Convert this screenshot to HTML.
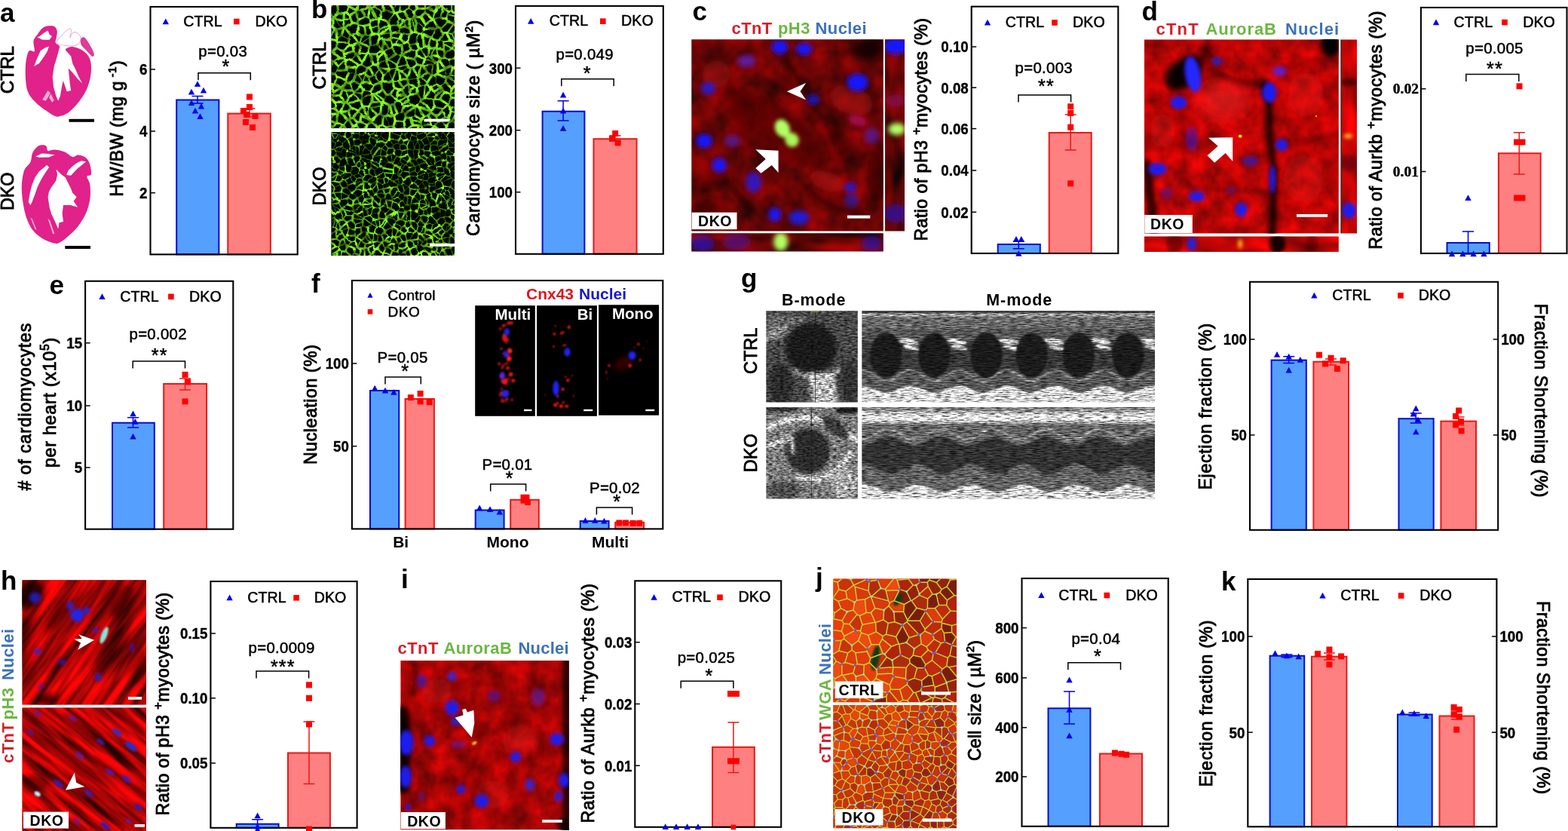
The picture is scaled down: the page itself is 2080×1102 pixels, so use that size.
<!DOCTYPE html>
<html lang="en"><head><meta charset="utf-8"><title>Figure</title>
<style>html,body{margin:0;padding:0;background:#fff;}body{width:2080px;height:1102px;overflow:hidden;font-family:"Liberation Sans",sans-serif;}svg{display:block;}</style>
</head><body>
<svg width="2080" height="1102" viewBox="0 0 2080 1102">
<rect width="2080" height="1102" fill="#fff"/>
<defs><filter id="b0_5" x="-50%" y="-50%" width="200%" height="200%"><feGaussianBlur stdDeviation="0.5"/></filter><clipPath id="c1"><rect x="439.2" y="7" width="163.8" height="163.2"/></clipPath><filter id="o2" filterUnits="userSpaceOnUse" x="433.2" y="1" width="175.8" height="175.2" color-interpolation-filters="sRGB"><feTurbulence type="fractalNoise" baseFrequency="0.09" numOctaves="2" seed="11" result="n"/><feDisplacementMap in="SourceGraphic" in2="n" scale="4" xChannelSelector="R" yChannelSelector="G" result="d"/><feGaussianBlur in="d" stdDeviation="0.7" result="b"/><feColorMatrix in="n" type="matrix" values="0 0 2.4 0 -0.6  0 0 2.4 0 -0.6  0 0 2.4 0 -0.6  0 0 0 0 1" result="g"/><feComposite in="b" in2="g" operator="arithmetic" k1="0.6" k2="0.45" k3="0" k4="0"/></filter><clipPath id="c3"><rect x="439.2" y="175" width="163.8" height="164"/></clipPath><filter id="o4" filterUnits="userSpaceOnUse" x="433.2" y="169" width="175.8" height="176" color-interpolation-filters="sRGB"><feTurbulence type="fractalNoise" baseFrequency="0.09" numOctaves="2" seed="23" result="n"/><feDisplacementMap in="SourceGraphic" in2="n" scale="4" xChannelSelector="R" yChannelSelector="G" result="d"/><feGaussianBlur in="d" stdDeviation="0.7" result="b"/><feColorMatrix in="n" type="matrix" values="0 0 2.4 0 -0.6  0 0 2.4 0 -0.6  0 0 2.4 0 -0.6  0 0 0 0 1" result="g"/><feComposite in="b" in2="g" operator="arithmetic" k1="0.75" k2="0.3" k3="0" k4="0"/></filter><clipPath id="c5"><rect x="917.3" y="52.3" width="254.5" height="254.3"/></clipPath><filter id="t6" filterUnits="userSpaceOnUse" x="917.3" y="52.3" width="254.5" height="254.3" color-interpolation-filters="sRGB"><feTurbulence type="fractalNoise" baseFrequency="0.03" numOctaves="3" seed="4"/><feColorMatrix type="matrix" values="0.7 0 0 0 0.06  0 0 0 0 0.02  0 0 0 0 0.02  0 0 0 0 1"/></filter><filter id="b5" x="-50%" y="-50%" width="200%" height="200%"><feGaussianBlur stdDeviation="5"/></filter><filter id="b3" x="-50%" y="-50%" width="200%" height="200%"><feGaussianBlur stdDeviation="3"/></filter><filter id="b3_2" x="-50%" y="-50%" width="200%" height="200%"><feGaussianBlur stdDeviation="3.2"/></filter><filter id="b2_4" x="-50%" y="-50%" width="200%" height="200%"><feGaussianBlur stdDeviation="2.4"/></filter><clipPath id="c7"><rect x="1174" y="52.3" width="26" height="254.3"/></clipPath><filter id="t8" filterUnits="userSpaceOnUse" x="1174" y="52.3" width="26" height="254.3" color-interpolation-filters="sRGB"><feTurbulence type="fractalNoise" baseFrequency="0.05 0.02" numOctaves="2" seed="9"/><feColorMatrix type="matrix" values="0.9 0 0 0 -0.05  0 0 0 0 0.02  0 0 0 0 0.02  0 0 0 0 1"/></filter><clipPath id="c9"><rect x="917.3" y="309.3" width="254.5" height="24.3"/></clipPath><filter id="t10" filterUnits="userSpaceOnUse" x="917.3" y="309.3" width="254.5" height="24.3" color-interpolation-filters="sRGB"><feTurbulence type="fractalNoise" baseFrequency="0.02 0.05" numOctaves="2" seed="12"/><feColorMatrix type="matrix" values="0.9 0 0 0 -0.05  0 0 0 0 0.02  0 0 0 0 0.02  0 0 0 0 1"/></filter><clipPath id="c11"><rect x="1518" y="52.5" width="257.8" height="256.9"/></clipPath><filter id="t12" filterUnits="userSpaceOnUse" x="1518" y="52.5" width="257.8" height="256.9" color-interpolation-filters="sRGB"><feTurbulence type="fractalNoise" baseFrequency="0.04" numOctaves="3" seed="21"/><feColorMatrix type="matrix" values="0.7 0 0 0 0.38  0 0 0 0 0.02  0 0 0 0 0.02  0 0 0 0 1"/></filter><filter id="b10" x="-50%" y="-50%" width="200%" height="200%"><feGaussianBlur stdDeviation="10"/></filter><filter id="b4" x="-50%" y="-50%" width="200%" height="200%"><feGaussianBlur stdDeviation="4"/></filter><filter id="b3_5" x="-50%" y="-50%" width="200%" height="200%"><feGaussianBlur stdDeviation="3.5"/></filter><filter id="b2_6" x="-50%" y="-50%" width="200%" height="200%"><feGaussianBlur stdDeviation="2.6"/></filter><filter id="b0_7" x="-50%" y="-50%" width="200%" height="200%"><feGaussianBlur stdDeviation="0.7"/></filter><clipPath id="c13"><rect x="1779.7" y="52.5" width="20.3" height="256.9"/></clipPath><filter id="t14" filterUnits="userSpaceOnUse" x="1779.7" y="52.5" width="20.3" height="256.9" color-interpolation-filters="sRGB"><feTurbulence type="fractalNoise" baseFrequency="0.05 0.02" numOctaves="2" seed="31"/><feColorMatrix type="matrix" values="0.9 0 0 0 0.3  0 0 0 0 0.02  0 0 0 0 0.02  0 0 0 0 1"/></filter><filter id="b2_5" x="-50%" y="-50%" width="200%" height="200%"><feGaussianBlur stdDeviation="2.5"/></filter><clipPath id="c15"><rect x="1518" y="313.4" width="257.8" height="20.6"/></clipPath><filter id="t16" filterUnits="userSpaceOnUse" x="1518" y="313.4" width="257.8" height="20.6" color-interpolation-filters="sRGB"><feTurbulence type="fractalNoise" baseFrequency="0.02 0.05" numOctaves="2" seed="33"/><feColorMatrix type="matrix" values="0.9 0 0 0 0.3  0 0 0 0 0.02  0 0 0 0 0.02  0 0 0 0 1"/></filter><filter id="b1_1" x="-50%" y="-50%" width="200%" height="200%"><feGaussianBlur stdDeviation="1.1"/></filter><filter id="b1_5" x="-50%" y="-50%" width="200%" height="200%"><feGaussianBlur stdDeviation="1.5"/></filter><filter id="b0_9" x="-50%" y="-50%" width="200%" height="200%"><feGaussianBlur stdDeviation="0.9"/></filter><filter id="b1_6" x="-50%" y="-50%" width="200%" height="200%"><feGaussianBlur stdDeviation="1.6"/></filter><clipPath id="c17"><rect x="1016.3" y="412.2" width="121.5" height="121.4"/></clipPath><filter id="m18" filterUnits="userSpaceOnUse" x="1016.3" y="412.2" width="121.5" height="121.4" color-interpolation-filters="sRGB"><feGaussianBlur in="SourceGraphic" stdDeviation="2.5" result="b"/><feTurbulence type="fractalNoise" baseFrequency="0.2 0.45" numOctaves="2" seed="3" result="n"/><feColorMatrix in="n" type="matrix" values="0 1.6 0 0 -0.3  0 1.6 0 0 -0.3  0 1.6 0 0 -0.3  0 0 0 0 1" result="g"/><feComposite in="b" in2="g" operator="arithmetic" k1="1.35" k2="0.28" k3="0" k4="0"/></filter><clipPath id="c19"><rect x="1016.3" y="540" width="121.5" height="121.6"/></clipPath><filter id="m20" filterUnits="userSpaceOnUse" x="1016.3" y="540" width="121.5" height="121.6" color-interpolation-filters="sRGB"><feGaussianBlur in="SourceGraphic" stdDeviation="2.0" result="b"/><feTurbulence type="fractalNoise" baseFrequency="0.2 0.45" numOctaves="2" seed="8" result="n"/><feColorMatrix in="n" type="matrix" values="0 1.6 0 0 -0.3  0 1.6 0 0 -0.3  0 1.6 0 0 -0.3  0 0 0 0 1" result="g"/><feComposite in="b" in2="g" operator="arithmetic" k1="1.35" k2="0.28" k3="0" k4="0"/></filter><clipPath id="c21"><rect x="1143.3" y="412.2" width="388.7" height="121.4"/></clipPath><filter id="m22" filterUnits="userSpaceOnUse" x="1143.3" y="412.2" width="388.7" height="121.4" color-interpolation-filters="sRGB"><feGaussianBlur in="SourceGraphic" stdDeviation="1.2" result="b"/><feTurbulence type="fractalNoise" baseFrequency="0.1 0.7" numOctaves="3" seed="14" result="n"/><feColorMatrix in="n" type="matrix" values="0 1.6 0 0 -0.3  0 1.6 0 0 -0.3  0 1.6 0 0 -0.3  0 0 0 0 1" result="g"/><feComposite in="b" in2="g" operator="arithmetic" k1="1.35" k2="0.28" k3="0" k4="0"/></filter><clipPath id="c23"><rect x="1143.3" y="540" width="388.7" height="121.6"/></clipPath><filter id="m24" filterUnits="userSpaceOnUse" x="1143.3" y="540" width="388.7" height="121.6" color-interpolation-filters="sRGB"><feGaussianBlur in="SourceGraphic" stdDeviation="1.2" result="b"/><feTurbulence type="fractalNoise" baseFrequency="0.1 0.7" numOctaves="3" seed="19" result="n"/><feColorMatrix in="n" type="matrix" values="0 1.6 0 0 -0.3  0 1.6 0 0 -0.3  0 1.6 0 0 -0.3  0 0 0 0 1" result="g"/><feComposite in="b" in2="g" operator="arithmetic" k1="1.35" k2="0.28" k3="0" k4="0"/></filter><clipPath id="c25"><rect x="29.5" y="769.3" width="164.5" height="165.2"/></clipPath><filter id="t26" filterUnits="userSpaceOnUse" x="-12.15" y="728" width="247.8" height="247.8" color-interpolation-filters="sRGB"><feTurbulence type="fractalNoise" baseFrequency="0.01 0.1" numOctaves="3" seed="41"/><feColorMatrix type="matrix" values="1.5 0 0 0 -0.08  0 0 0 0 0.02  0 0 0 0 0.02  0 0 0 0 1"/></filter><filter id="b2" x="-50%" y="-50%" width="200%" height="200%"><feGaussianBlur stdDeviation="2"/></filter><filter id="b1" x="-50%" y="-50%" width="200%" height="200%"><feGaussianBlur stdDeviation="1"/></filter><clipPath id="c27"><rect x="29.5" y="938.5" width="164.5" height="164"/></clipPath><filter id="t28" filterUnits="userSpaceOnUse" x="-11.62" y="897.12" width="246.75" height="246.75" color-interpolation-filters="sRGB"><feTurbulence type="fractalNoise" baseFrequency="0.01 0.1" numOctaves="3" seed="57"/><feColorMatrix type="matrix" values="1.6 0 0 0 -0.1  0 0 0 0 0.02  0 0 0 0 0.02  0 0 0 0 1"/></filter><filter id="b1_8" x="-50%" y="-50%" width="200%" height="200%"><feGaussianBlur stdDeviation="1.8"/></filter><clipPath id="c29"><rect x="531.4" y="876.1" width="223.4" height="224.2"/></clipPath><filter id="t30" filterUnits="userSpaceOnUse" x="531.4" y="876.1" width="223.4" height="224.2" color-interpolation-filters="sRGB"><feTurbulence type="fractalNoise" baseFrequency="0.04" numOctaves="3" seed="61"/><feColorMatrix type="matrix" values="0.7 0 0 0 0.29  0 0 0 0 0.02  0 0 0 0 0.02  0 0 0 0 1"/></filter><filter id="b0_8" x="-50%" y="-50%" width="200%" height="200%"><feGaussianBlur stdDeviation="0.8"/></filter><clipPath id="c31"><rect x="1105.3" y="767.6" width="163.6" height="163.7"/></clipPath><filter id="b0_6" x="-50%" y="-50%" width="200%" height="200%"><feGaussianBlur stdDeviation="0.6"/></filter><clipPath id="c32"><rect x="1105.3" y="935" width="163.6" height="163.2"/></clipPath></defs><g filter="url(#b0_5)"><path d="M37.02 70.37C38.08 67.3 38.94 67.42 40.42 66.96C41.89 66.51 45.18 69.8 45.86 67.64C46.55 65.49 43.71 57.89 44.5 54.03C45.3 50.18 48.59 47.34 50.63 44.5C52.67 41.67 54.37 38.72 56.75 37.02C59.14 35.31 62.31 34.59 64.92 34.29C67.53 34 70.59 34 72.41 35.25C74.22 36.49 75.47 39.1 75.81 41.78C76.15 44.46 74.79 48.81 74.45 51.31C74.11 53.81 73.09 55.17 73.77 56.75C74.45 58.34 76.83 58.8 78.54 60.84C80.24 62.88 82.39 68.44 83.98 69.01C85.57 69.57 86.02 65.42 88.06 64.24C90.11 63.06 92.83 61.59 96.23 61.93C99.64 62.27 104.97 64.2 108.48 66.28C112 68.37 115.29 71.28 117.33 74.45C119.37 77.63 120.28 80.8 120.74 85.34C121.19 89.88 121.19 95.78 120.05 101.68C118.92 107.58 116.76 114.84 113.93 120.74C111.09 126.63 106.9 132.31 103.04 137.07C99.18 141.84 94.64 146.49 90.79 149.32C86.93 152.16 82.85 153.29 79.9 154.09C76.95 154.88 76.27 155.33 73.09 154.09C69.91 152.84 65.15 149.66 60.84 146.6C56.53 143.54 51.08 139.57 47.23 135.71C43.37 131.85 39.85 128 37.7 123.46C35.54 118.92 34.91 114.84 34.29 108.48C33.68 102.13 33.57 91.69 34.02 85.34C34.47 78.99 35.95 73.43 37.02 70.37Z" fill="#e0248a"/><path d="M107.12 51.58C107.92 49.99 110.3 48.18 112.57 49.95C114.84 51.72 118.69 58.57 120.74 62.2C122.78 65.83 124.59 69.64 124.82 71.73C125.05 73.82 123.91 75.63 122.1 74.72C120.28 73.82 116.31 68.82 113.93 66.28C111.55 63.74 108.94 61.93 107.8 59.48C106.67 57.03 106.33 53.17 107.12 51.58Z" fill="#e03a96"/><path d="M75.13 57.44C74 54.71 81.14 47.68 83.98 44.5C86.82 41.33 90.38 39.06 92.15 38.38C93.92 37.7 94.48 38.49 94.6 40.42C94.71 42.35 92.56 49.38 92.83 49.95C93.1 50.52 94.76 44.96 96.23 43.82C97.71 42.69 99.86 42.23 101.68 43.14C103.49 44.05 106.67 46.77 107.12 49.27C107.58 51.76 106.21 56.19 104.4 58.12C102.58 60.04 98.5 60.38 96.23 60.84C93.96 61.29 94.3 61.41 90.79 60.84C87.27 60.27 76.27 60.16 75.13 57.44Z" fill="#fff" stroke="#e58cc0" stroke-width="0.8"/><path d="M79.9 59.48L75.13 77.17L71.73 88.06L69.69 101.68L71.05 115.29L74.45 127.54L77.17 133.67L79.9 127.54L81.94 115.29L83.71 107.12L86.7 115.29L88.74 121.42L94.19 120.05L92.83 111.21L91.88 101.68L90.79 90.79L96.23 96.23L103.04 104.4L109.16 110.53L104.4 101.68L100.32 92.15L96.23 83.98L94.19 74.45L87.38 66.96L84.66 60.84Z" fill="#fff" /><path d="M51.99 48.59L58.8 43.14L63.56 40.42L65.6 45.86L69.01 47.91L65.6 52.67L56.07 52.67L49.27 49.27Z" fill="#fff" /><path d="M45.18 88.06L49.27 77.17L54.03 66.96L59.48 63.56L64.92 61.52L62.88 67.64L58.8 74.45L51.99 83.98Z" fill="#fff" /><path d="M56.07 132.31L63.56 120.05L66.96 123.46L60.84 133.67Z" fill="#f3b0d4" /><path d="M64.92 128.9L67.64 124.82L71.73 132.99L69.01 135.71Z" fill="#f3b0d4" /></g><rect x="91.5" y="157.8" width="33.5" height="4" fill="#000" /><g filter="url(#b0_5)"><path d="M40.42 214.95C38.6 218.81 34.18 220.62 32.25 225.84C30.32 231.06 29.19 239.45 28.85 246.26C28.51 253.06 29.19 259.64 30.21 266.68C31.23 273.71 32.82 282.11 34.97 288.46C37.13 294.81 39.74 300.26 43.14 304.79C46.55 309.33 50.63 312.73 55.39 315.68C60.16 318.63 67.64 321.58 71.73 322.49C75.81 323.4 76.72 322.72 79.9 321.13C83.07 319.54 86.93 316.36 90.79 312.96C94.64 309.56 99.18 305.7 103.04 300.71C106.9 295.72 111.21 289.14 113.93 283.01C116.65 276.89 118.47 270.31 119.37 263.95C120.28 257.6 120.05 249.89 119.37 244.9C118.69 239.91 115.02 236.28 115.29 234.01C115.56 231.74 120.44 234.23 121.01 231.28C121.57 228.33 120.1 220.17 118.69 216.31C117.29 212.45 115.18 209.96 112.57 208.14C109.96 206.33 105.76 205.42 103.04 205.42C100.32 205.42 99.18 208.82 96.23 208.14C93.28 207.46 89.43 202.92 85.34 201.34C81.26 199.75 75.36 198.84 71.73 198.61C68.1 198.39 65.38 200.88 63.56 199.97C61.75 199.07 62.88 194.3 60.84 193.17C58.8 192.03 54.26 191.58 51.31 193.17C48.36 194.76 44.96 199.07 43.14 202.7C41.33 206.33 42.23 211.09 40.42 214.95Z" fill="#e0248a"/><path d="M47.23 207.46L55.39 203.38L63.56 204.06L72.41 205.42L64.92 208.41L51.31 208.82Z" fill="#fff" /><path d="M37.7 268.04L39.74 255.79L42.46 244.9L46.55 235.37L51.99 227.2L62.2 219.03L65.19 221.75L59.48 229.92L54.71 238.09L49.95 247.62L46.55 257.15L42.46 268.04L40.42 272.12Z" fill="#fff" /><path d="M74.45 224.48L81.26 231.28L86.7 235.37L90.79 243.54L94.19 250.34L96.23 255.79L101.68 261.23L97.59 266.68L103.04 274.84L93.51 272.12L83.98 272.12L82.62 283.01L83.98 293.9L78.54 295.26L77.17 303.43L73.09 293.9L68.33 284.37L65.6 274.84L63.56 261.23L64.92 254.43L67.64 248.98L74.45 239.45L76.08 231.28Z" fill="#fff" /><path d="M88.06 231.96L90.79 225.84L96.23 220.39L101.68 216.31L107.8 213.31L113.93 214.27L108.48 219.03L101.68 224.48L94.19 232.64Z" fill="#fff" /><path d="M63.29 289.82L66.28 292.54L72.41 310.24L70.1 309.97Z" fill="#f3b0d4" /><path d="M40.42 288.46L42.46 289.82L48.59 304.79L46.55 304.11Z" fill="#f3b0d4" /></g><rect x="86.3" y="326" width="33.7" height="4" fill="#000" /><g clip-path="url(#c1)"><rect x="439.2" y="7" width="163.8" height="163.2" fill="#020800"/><g filter="url(#o2)"><g transform="translate(433.2 1)" fill="none" stroke-linecap="round"><path d="M28.2 157.7L29.4 157.4M184.2 44.1L177.6 37.4M175.7 37.4L173.7 36.2M142.7 166.6L139.4 164.5M176.1 79.7L174.2 84.7M75.9 3.9L78.9 2.3M94.8 -1.4L88.5 12M103.3 151L99.7 147.8M99.7 147.8L93.9 148M102.1 141.2L100.6 138M117 152.1L112.1 155.5M120 139.6L124.7 132.5M130.3 10.6L131 15.4M108.7 88.5L100.6 93.5M108.6 111L108.5 111.1M163.5 79.3L164.9 86.6M149.6 51.2L155.3 54.8M170.1 31.5L168.7 30.6M141.4 24.3L141.9 24.5M144.7 37.2L147.1 34.8M129.3 35.7L131.4 31.5M179.2 2.3L175.3 -9.3M57.5 48L46.1 56.6M58.3 59L56.3 61.3M69.5 83.9L79.7 78.4M164 174.5L158.7 170.3M172.1 163.9L164 174.5M173.3 143.1L173.4 149.4M28.3 96.1L25.9 91.4M28.3 96.1L38.7 95.4M128.8 38.3L126.8 42.9M129.3 35.7L119.9 27.5M81.9 92.8L87.4 105.2M93 89.9L93.1 90M81.1 77.7L80.1 77.7M123.5 113L130.7 112M108.6 104.8L119.6 102.6M139.8 98.5L143.3 99.1M140.5 85.1L143 82.7M108.3 23.9L111.2 24.3M164.4 124.9L164.2 124.5M39.7 164.5L40.4 161.1M126.1 85.7L127.8 85.4M129.2 61.6L125.8 63.7M69.5 23.8L66.2 23.6M92.8 70.6L99.2 72.6M79.5 124.9L76.1 131M84.5 166.8L79.2 152.8M143.3 99.1L147.1 110.5M152.3 113L157.3 108.5M156.6 90.4L159.8 102.7M10.8 23.1L20.8 36.4" stroke="#3f9a10" stroke-width="1.3"/><path d="M1.7 175.9L-5.2 169.9M-0.8 150.8L0.9 158.1M4.3 158.8L9.3 150.4M44 171.2L39.7 164.5M14.6 149.6L15.2 148.8M22.4 165.2L28.2 157.7M15.2 148.8L18.4 147.9M158 68.5L167 63.5M175.2 50.9L175.7 37.4M175.7 37.4L177.6 37.4M184.4 22.9L170.1 31.5M153.7 5L144.7 -5.1M153.7 5L157.3 2.1M152.4 -13.8L157.3 2.1M175.4 14.9L179.9 17.9M-4.4 85.8L-1.5 81.1M-1.1 77.6L-1.5 81.1M67.6 169.6L55.3 176.5M52.2 169.5L55.3 176.5M104 168.7L91.7 170.5M102.8 160.2L91.1 159.3M78.6 176.6L80.1 168.3M90.7 178.3L91.7 170.5M129.4 153.5L134.8 151.9M138.3 146.8L138.2 147.9M142.7 166.6L148.2 160.3M148.2 160.3L145.9 153.5M68.4 168.4L68.5 167.8M156.5 75.2L163.5 79.3M169.9 75.1L163.5 79.3M169.9 75.1L171.5 68.4M167 63.5L167.6 63.3M167.6 63.3L171.5 68.4M179.1 78.9L176.1 79.7M181.4 88.4L174.2 84.7M171.5 68.4L178.4 68.5M173.7 36.2L166.8 44.3M174.7 53.4L170.3 54.8M166.8 44.3L170.3 54.8M155.3 54.8L163.7 53.1M155.3 54.8L156 58M167.6 63.3L169.8 55.2M170.3 54.8L169.8 55.2M141 5.9L146.6 8.6M159.2 1.5L164.6 -7M159.2 1.5L165.8 4.4M164.6 -7L175.7 2.6M65.3 -5.3L64.8 5.1M79 -7.7L78.9 2.3M92.1 -4.8L84.1 3.5M106.3 172.5L93.4 182.6M109.9 124.4L109.7 120.9M87.7 152.4L89.3 152.6M100.6 138L97 132.8M108.7 131.8L106.6 126.8M93.6 132.5L89.3 138.6M112.3 137.8L108.7 131.8M177.5 98.9L178.6 96.8M188.3 110.3L176.5 113.5M176.5 113.5L177.1 116.4M125.5 157.8L125.3 160.5M125.3 160.5L113.2 158.3M125.4 164.3L125.3 160.5M125.4 164.3L139.4 164.5M120 139.6L118.2 140.4M118.2 140.4L117 152.1M138.3 146.8L138.9 145.4M120.6 123.8L125.6 130.2M176.1 118.9L178.5 130.9M176.1 118.9L177.1 116.4M176.4 140.5L177.4 131.5M6.4 20.4L8.7 22.3M130.3 10.6L134.5 9.6M141.4 24.3L143.2 14.6M94.6 125.6L92.6 130.8M103.2 124.1L99.4 118.3M108.6 104.8L108.6 111M107.7 101.8L107.8 104M99.4 118.3L101.4 115.3M87.9 107.3L95 105.8M109.7 120.9L108.5 111.1M169.5 88.3L166.7 88.2M166.7 88.2L164.9 86.6M177.5 98.9L164.5 99.2M166.7 88.2L164.5 99.2M160.9 14.4L160.6 18.3M160.9 14.4L166 13.2M160.6 18.3L170.9 20.7M173 16.2L170.9 20.7M165.8 4.4L166 13.2M166.8 44.3L160 42.8M159 43.2L160 42.8M160 42.8L168.7 30.6M170.9 20.7L168.2 29.9M141.9 24.5L150.7 21.9M152.2 36.8L160.8 28M158.8 25.1L160.8 28M160.6 18.3L158.8 25.1M144.7 37.2L140.2 48.8M10.8 4.3L4.4 -6.2M76 13.2L89.5 15.7M55.3 8.3L57.4 8.6M49.1 0.6L57.6 -1.4M98.3 1.3L98.7 1.8M96.7 14.2L98.7 1.8M47.4 -1.3L43.1 -0.9M68.9 44.2L69.2 44.5M57.4 46.3L57.5 48M67.1 57.8L58.3 59M81.9 90.9L79.7 78.4M43.1 -0.9L41.7 4M25.8 1.3L27.8 5.3M47 13.1L41.1 12.5M16.1 87.4L15.2 93.2M15.2 93.2L11.5 97.1M7.4 80.4L9.9 80.4M3.4 93L3 94.9M25 78.7L16.1 87.4M-1.1 77.6L3.7 75.6M-1.5 81.1L3.4 93M4.4 68.2L7 67.5M118.2 175.9L111.2 175.2M104 168.7L106.7 171M113.9 188.1L111.2 175.2M106.3 172.5L106.9 171.5M136.8 172.3L139.5 182.3M129.8 175.6L128.4 180.3M142.8 166.7L144.2 168.8M142.7 166.6L142.8 166.7M178.3 168.4L172.1 163.9M168.2 177.7L164.3 175.6M171.6 162.5L167 158.6M167 158.6L165.7 158.3M165.7 158.3L158.6 165.5M144.2 168.8L154.7 171.6M150.3 160.1L158.6 165.5M177.3 151.1L183.5 148.6M172.3 150.2L173.4 149.4M131.1 128.8L141.5 132M162 154.6L158 153.4M154.2 146.4L154.2 143.4M172.3 150.2L164.9 147.2M165.7 158.3L162 154.6M150.3 160.1L158 153.4M142.3 140.9L154.2 143.4M165.5 129L160.3 136.8M34.1 78.2L38.7 70.5M38.7 70.5L35.9 66.8M44.5 69.1L40.5 70.4M44.5 69.1L54.1 70.7M62.1 84.4L55.8 88.8M57.6 71.2L55.8 70M45.9 84.5L53.4 89.2M39.7 88.9L38.7 95.4M13.8 100.4L11.5 97.1M41.5 85.7L39.7 88.9M23.1 135.1L24.2 134.1M6.1 129.6L9.5 125.8M9.7 120.9L9.5 125.8M3.7 108.3L-3.8 113M10.7 110.8L9.2 111.6M130 3L129 1.1M141 5.9L139.4 0.5M111.9 64.8L119.6 67M110.6 57.9L119.3 55.4M110.6 57.9L107.2 54.6M116.3 42.1L116.2 42M119.3 55.4L122.4 43.7M138.8 48.8L140.2 48.8M56.3 157.1L55.5 139.7M59.3 141.9L55.9 139.6M82.3 91.3L93 89.9M87.4 105.2L93.1 90M75.5 99.9L81.9 92.8M75.5 99.9L69.3 90.8M81.9 90.9L82.3 91.3M93 84.6L81.1 77.7M79.7 78.4L80.1 77.7M106 85L93.5 88M130.7 112L133.2 111M122.8 99.8L124.9 99.9M124.9 99.9L133.5 108.7M133.5 108.7L133.2 111M114.4 89.3L111.7 89.9M121 116.2L123.5 113M129.2 129.1L130.7 112M133.6 95.6L139.6 98.5M139.8 98.5L139.6 98.5M139.8 98.5L140.5 85.1M140.5 85.1L129.5 86.5M147 97.3L148.4 94.2M146.8 82.3L143 82.7M149.1 80.6L150.9 77.6M115.9 -0.8L115.2 -3.8M108.6 10.4L116.3 14.9M114.7 23.4L116.7 22.1M114.7 23.4L111.2 24.3M117 21.7L116.7 22.1M96.7 14.2L102.3 14.5M104.4 26.7L108.3 23.9M96.3 24.1L103 26.5M120.9 10.1L116.3 14.9M116.2 42L114.7 23.4M104.2 34.1L104.4 26.7M41.9 32.1L49.6 33.4M50.9 45.6L46.9 46.9M34.6 45.1L40.6 41.8M44.3 55.8L46.9 46.9M57.4 46.3L50.9 45.6M58.4 34.6L69.1 33.9M55.1 22.7L58.8 26.6M56.8 31.6L58.8 26.6M69.5 83.9L68.9 77.8M73.1 43.7L85.5 43.3M96.3 24.1L94.5 32.7M90 16.2L81.6 28.4M82.6 31.6L81.6 28.4M94.5 32.7L83.2 32.3M69.2 44.5L73.1 43.7M70.8 38.6L82.6 31.6M83.2 32.3L83.5 34.8M26.1 15.3L28.4 7.2M27.8 5.3L28.4 7.2M31.7 24.7L22.7 24.8M143.9 130.1L144.4 126.5M156.4 121L154 118.5M45.8 150.7L42.3 146.6M29.4 128.1L24.7 118.9M46.7 109.4L42.7 98M47.4 109L52.2 98.7M39 96.1L42.7 98M53.4 89.2L51.2 96.6M57 101.3L61.9 98.1M69.3 90.8L64.3 98.4M119 84.7L116.4 77.5M143 82.7L141.9 81.5M141.9 81.5L130.2 78M105.1 75.5L106 85M125.8 63.7L131.7 74.3M137.8 73.3L135.2 72.7M147.7 73.5L145.9 63.4M140.1 72.2L143 63.1M137.8 73.3L140.1 72.2M73.1 15.6L62.9 7.1M59.5 8.6L62.9 7.1M76 13.2L73.1 15.6M75.8 67.4L81.9 63.3M67.1 57.8L73.5 64.9M75.7 51.5L76 54M85.6 61.6L86.8 59M85.6 61.6L92.8 70.6M93 84.6L99.2 72.6M99.2 72.6L101.3 71.9M85.5 43.3L85.5 43.4M97.2 35.7L96.6 40.8M110.5 44.4L99 44.1M99 44.1L96.6 40.8M14.2 62.3L14.3 54.9M14.3 54.9L28.5 55M2.5 50.5L3.5 51.2M2.5 50.5L4.2 37.1M4.2 37.1L7.7 35.7M3.8 51.1L10.9 37.9M0.7 65.3L3.5 51.2M82.8 138.6L81.5 151.9M76.1 131L75.4 134.3M59.3 141.9L72.6 140.5M71.8 134.4L74.7 134.8M76.1 131L65 123.8M57.8 108.3L62.5 111.7M64.3 98.4L70.5 109M137.5 114.4L147.1 110.5M152.3 113L152.4 113.9M144.4 126.5L142.7 120.9M173.1 110.6L173 110.3M164.5 99.2L161.8 102.2M47.2 130L59.4 123.7M58.4 120.2L59.4 123.7M59.4 123.7L59.4 123.7M34.8 107.5L45.5 111M31.5 108.6L34.6 118.8M91.8 58L96.1 49.8M102.9 56L99.9 60.2M31.5 45.4L28.8 51M46.8 123.1L36.7 121.5M47.2 130L46.8 123.1M58.4 120.2L49.4 117.8M13.7 51L19.8 46.8M28.8 51L19.8 46.8M23.4 36.3L22.7 36.5" stroke="#66d818" stroke-width="2.2"/><path d="M1.7 175.9L-0.6 181.9M-0.8 150.8L-8.7 149.7M0.9 158.1L-3.3 163.5M1.7 175.9L5.1 175.1M5.1 175.1L7.4 173.9M-3.3 163.5L9 167.4M7.4 173.9L9 167.4M4.3 158.8L12.1 162.2M9.3 150.4L14.6 149.6M14.6 149.6L13.3 161.7M13.3 161.7L12.1 162.2M0.9 158.1L4.3 158.8M9 167.4L12.1 162.2M-0.8 150.8L0.2 149.8M0.2 149.8L9.3 150.4M7.4 173.9L13.4 176.2M13.4 176.2L21.7 165.1M21.7 165.1L13.3 161.7M44 171.2L40.5 174.8M39.7 164.5L35 166.5M40.5 174.8L32.8 170.8M35 166.5L32.8 170.8M-9 19.9L6.4 20.4M6.4 20.4L3 11.1M-4.4 9.3L3 11.1M5.1 175.1L10.5 187M13.4 176.2L15.3 178.2M21.7 165.1L22.4 165.2M25.8 178.1L26.9 172.2M22.4 165.2L26.9 172.2M40.5 174.8L40.4 176.5M26.9 172.2L32.8 170.8M37.7 183.6L40.4 176.5M40.4 176.5L54.3 182.6M0.2 149.8L2.1 142M15.2 148.8L10.7 143M10.7 143L2.1 142M-10.7 136.6L-0.3 136.9M-0.3 136.9L2.1 142M35 166.5L29.4 157.4M28.2 157.7L18.4 147.9M158 68.5L154.7 64.9M167 63.5L156 58M154.7 64.9L156 58M185.4 33.6L177.6 37.4M175.2 50.9L184.2 44.1M173.7 36.2L170.1 31.5M175.4 14.9L178.3 2.9M-1.1 77.6L-11.7 77.7M-4.4 85.8L0.3 95.1M0.3 95.1L-5 97.3M66.6 183.3L73 176.5M63.8 183.4L67.6 169.6M73 176.5L68.4 168.4M68.4 168.4L67.6 169.6M56.3 182L55.3 176.5M44 171.2L52.2 169.5M104 168.7L102.8 160.2M91.1 159.3L88.5 166.9M91.7 170.5L88.5 166.9M78.6 176.6L80.6 179.7M80.1 168.3L84.5 166.8M84.5 166.8L88.5 166.9M178.3 168.4L176.4 177.3M121.7 141L129.4 153.5M121.7 141L138.3 146.8M134.8 151.9L138.2 147.9M139.4 164.5L134.8 151.9M138.2 147.9L145.9 153.5M78.6 176.6L73 176.5M80.1 168.3L74 165.4M74 165.4L68.5 167.8M29.4 157.4L31.3 156.2M18.4 147.9L18.7 147.6M18.7 147.6L28.7 146.4M28.7 146.4L31.3 156.2M156.5 75.2L158 68.5M175.2 50.9L174.7 53.4M174.7 53.4L178.9 54.9M169.9 75.1L176.1 79.7M169.5 88.3L174.2 84.7M169.5 88.3L178.6 96.8M163.7 53.1L169.8 55.2M134.5 9.6L143.2 14.6M134.5 9.6L141 5.9M143.2 14.6L146.6 8.6M165.8 4.4L175.7 2.6M157.3 2.1L159.2 1.5M1.3 -9.8L-4.4 -0.2M69.2 -6.2L75.9 3.9M75.9 3.9L75.6 4.2M64.8 5.1L75.6 4.2M78.9 2.3L84.1 3.5M92.1 -4.8L94.8 -1.4M84.1 3.5L88.5 12M106.3 172.5L102.2 187M120.6 123.8L109.9 124.4M120.6 123.8L121 116.2M121 116.2L117.2 114.8M117.2 114.8L109.7 120.9M103.3 151L117.6 140.3M99.7 147.8L102.1 141.2M102.1 141.2L112.3 137.8M117.6 140.3L112.3 137.8M93.9 148L89.3 138.6M93.9 148L89.3 152.6M87.7 152.4L84 138.6M84 138.6L89.3 138.6M105.1 154.7L103.3 151M105.1 154.7L102.8 160.2M91.1 159.3L89.3 152.6M100.6 138L108.7 131.8M97 132.8L105.5 126.7M106.6 126.8L105.5 126.7M93.6 132.5L97 132.8M177.5 98.9L177.5 101.8M188.1 109.2L177.5 101.8M186.2 121.7L177.1 116.4M125.5 157.8L117 152.1M112.1 155.5L113.2 158.3M129.4 153.5L125.5 157.8M120 139.6L121.7 141M105.1 154.7L112.1 155.5M118.2 140.4L117.6 140.3M138.9 145.4L124.7 132.5M109.9 124.4L106.6 126.8M124.7 132.5L125.6 130.2M176.1 118.9L164.4 124.9M164.4 124.9L165.5 129M165.5 129L177.4 131.5M177.4 131.5L178.5 130.9M176.4 140.5L181.6 143.8M8.7 22.3L8 23.9M8 23.9L-4.9 30.9M52.2 169.5L54.1 164.1M68.5 167.8L57.9 160.1M54.1 164.1L57.9 160.1M-0.3 136.9L5.6 129.7M5.6 129.7L-4.5 121M141.1 24.3L131 15.4M141.1 24.3L131.4 31.5M131.4 31.5L124.6 21.5M131 15.4L124.6 21.5M141.4 24.3L141.1 24.3M95.5 118.5L89.6 116.4M95.5 118.5L94.6 125.6M89.6 116.4L83.6 123.9M83.6 123.9L92.6 130.8M103.2 124.1L94.6 125.6M99.4 118.3L95.5 118.5M93.6 132.5L92.6 130.8M103.2 124.1L105.5 126.7M108.7 88.5L111.7 89.9M100.6 93.5L107.7 101.8M107.7 101.8L111.7 89.9M97.8 104L95 105.8M97.8 104L107.8 104M95 105.8L101.4 115.3M107.8 104L108.6 104.8M101.4 115.3L108.5 111.1M100.6 93.5L96.5 92.8M96.5 92.8L97.8 104M89.6 116.4L87.9 107.3M117.2 114.8L108.6 111M166 13.2L173 16.2M153.7 5L153 6.7M153 6.7L154.2 9.4M154.2 9.4L160.9 14.4M175.4 14.9L173 16.2M178.3 2.9L175.7 2.6M149.6 51.2L154.6 42.7M163.7 53.1L159 43.2M154.6 42.7L159 43.2M168.7 30.6L168.2 29.9M141.9 24.5L147.1 34.8M150.7 21.9L158.8 25.1M147.1 34.8L152.2 36.8M144.7 37.2L128.8 38.3M128.8 38.3L129.3 35.7M153 6.7L146.6 8.6M154.2 9.4L150.7 21.9M146.7 52.1L140.2 48.8M146.7 52.1L149.6 51.2M154.6 42.7L152.2 36.8M168.2 29.9L160.8 28M10.8 4.3L7.3 5.6M4.4 -6.2L4 3.4M7.3 5.6L4 3.4M14.5 4.5L10.8 4.3M14.5 4.5L17.6 1.9M13.5 -8.5L17.6 1.9M-4.4 -0.2L4 3.4M3 11.1L7.3 5.6M75.6 4.2L76 13.2M88.5 12L89.5 15.7M55.3 8.3L49.1 0.6M57.6 -1.4L57.9 8.5M57.9 8.5L57.4 8.6M47.4 -1.3L55.6 -12M47.4 -1.3L49.1 0.6M59 -9.2L57.6 -1.4M94.8 -1.4L98.3 1.3M92.3 16.4L90 16.2M92.3 16.4L96.7 14.2M89.5 15.7L90 16.2M35.9 -6.6L43.1 -0.9M47 13.1L50.5 21.3M47 13.1L55.3 8.3M57.4 8.6L55.1 22.7M50.5 21.3L55.1 22.7M57.5 48L58.3 59M46.1 56.6L56.3 61.3M68.9 44.2L60.9 43.3M57.4 46.3L60.9 43.3M67.1 57.8L71.2 49.7M69.2 44.5L71.2 49.7M67.7 85.8L69.4 89.5M67.7 85.8L69.5 83.9M69.4 89.5L81.9 90.9M29.1 -3.8L25.8 1.3M27.8 5.3L41.7 4M41.7 4L41.1 12.5M16.1 87.4L9.9 80.4M11.5 97.1L3.8 95.3M7.4 80.4L3.4 93M3 94.9L3.8 95.3M23.1 75.9L18.5 76.2M23.1 75.9L25.1 78.6M25.1 78.6L25 78.7M18.5 76.2L9.9 80.4M3.7 75.6L7.4 80.4M0.3 95.1L3 94.9M18.5 76.2L7 67.5M3.7 75.6L4.4 68.2M114.8 164.9L122.8 165.5M114.8 164.9L106.7 171M122.8 165.5L118.2 175.9M106.7 171L106.9 171.5M106.9 171.5L110.8 174.9M111.2 175.2L110.8 174.9M125.4 164.3L125.3 164.5M113.2 158.3L114.8 164.9M125.3 164.5L122.8 165.5M121.7 179.4L118.2 175.9M106.3 187.4L110.8 174.9M136.8 172.3L129.8 175.6M142.8 166.7L136.8 172.3M144.2 168.8L145.9 181.3M125.3 164.5L129.8 175.6M164.3 175.6L164 174.5M164.3 175.6L157.1 185M157.1 185L153.8 174.6M158.7 170.3L154.7 171.6M154.7 171.6L153.8 174.6M172.1 163.9L171.6 162.5M158.6 165.5L158.7 170.3M145.9 181.3L153.8 174.6M148.2 160.3L150.3 160.1M178.1 157L177.3 151.1M171.6 162.5L178.1 157M167 158.6L172.3 150.2M173.4 149.4L177.3 151.1M173.3 143.1L176.4 140.5M138.9 145.4L142.3 140.9M131.1 128.8L129.2 129.1M129.2 129.1L125.6 130.2M142.3 140.9L141.5 132M164.9 147.2L163.9 141M164.9 147.2L162 154.6M158 153.4L154.2 146.4M154.2 143.4L160.2 137.4M163.9 141L160.2 137.4M173.3 143.1L163.9 141M145.9 153.5L154.2 146.4M150.3 130.7L143.9 130.1M150.3 130.7L160.3 136.8M160.3 136.8L160.2 137.4M141.5 132L143.9 130.1M35.9 66.8L34.6 59.5M35.9 66.8L23.3 71M34.6 59.5L29.8 57.5M29.8 57.5L22.3 67.3M23.3 71L22.3 67.3M23.1 75.9L23.3 71M25.1 78.6L34.1 78.2M14.2 62.3L7 67.5M14.2 62.3L22.3 67.3M40.5 70.4L46.6 82.4M54.1 70.7L46.6 82.4M38.7 70.5L40.5 70.4M43.2 56.4L42.3 56.4M43.2 56.4L44.5 69.1M42.3 56.4L34.6 59.5M55.8 70L56.3 61.3M55.8 70L54.1 70.7M44.3 55.8L43.2 56.4M44.3 55.8L46.1 56.6M34.1 78.2L41.5 85.7M45.9 84.5L41.5 85.7M45.9 84.5L46.6 82.4M62.1 84.4L57.6 71.2M53.4 89.2L55.8 88.8M39.7 88.9L26.8 88.1M26.8 88.1L25.9 91.4M24.7 105.5L28.3 96.1M24.7 105.5L13.8 100.4M15.2 93.2L25.9 91.4M25 78.7L26.8 88.1M18.1 125.8L24.2 134.1M18.1 125.8L9.5 125.8M11.9 135.1L6.1 129.6M11.9 135.1L23.1 135.1M10.7 143L11.9 135.1M5.6 129.7L6.1 129.6M18.7 147.6L23.1 135.1M28.7 146.4L32.4 141.9M29.2 135.8L32.4 141.9M29.2 135.8L26.4 133.8M26.4 133.8L24.2 134.1M19.2 115.6L9.7 120.9M19.2 115.6L21.5 115.7M18.1 125.8L21.7 116.4M21.5 115.7L21.7 116.4M19.2 115.6L10.7 110.8M10.7 110.8L13.8 100.4M24.7 105.5L25.8 107.6M21.5 115.7L25.8 107.6M3.7 108.3L9.2 111.6M-2.9 116.6L6.9 116.2M9.2 111.6L6.9 116.2M3.8 95.3L3.7 108.3M9.7 120.9L6.9 116.2M141.1 -4.7L139.4 0.5M137.2 -7.8L129 1.1M139.4 0.5L130 3M127.6 -11.9L126.2 -0.9M126.2 -0.9L129 1.1M130.3 10.6L130.2 10.5M130.2 10.5L130 3M117.5 0.1L126.2 -0.9M117.5 0.1L120.9 10.1M130.2 10.5L120.9 10.1M111.9 64.8L110.6 57.9M119.6 67L123.1 64M123.1 64L119.3 55.4M113.1 42.3L116.2 42M113.1 42.3L110.5 44.4M116.3 42.1L122.4 43.7M110.5 44.4L107.2 54.6M116.3 42.1L119.9 27.5M122.4 43.7L126.8 42.9M138.8 48.8L127.7 43.8M127.7 43.8L126.8 42.9M67.3 151.8L59.3 141.9M67.3 151.8L58 159.5M56.3 157.1L58 159.5M55.5 139.7L55.9 139.6M55 156.3L48.8 139.1M55 156.3L56.3 157.1M48.8 139.1L55.5 139.7M82.3 91.3L81.9 92.8M69.3 90.8L69.4 89.5M93 84.6L93.5 88M93.5 88L93 89.9M75.1 107.2L87.4 106.9M75.1 107.2L75.5 99.9M87.4 106.9L87.4 105.2M96.5 92.8L93.1 90M87.9 107.3L87.4 106.9M106 85L108.7 88.5M119.6 102.6L121.2 100.4M119.6 102.6L123.5 113M121.2 100.4L122.8 99.8M114.4 89.3L121.2 100.4M133.6 95.6L124.9 99.9M139.6 98.5L133.5 108.7M133.6 95.6L129.5 86.5M148.4 94.2L156.6 90.4M148.4 94.2L146.8 82.3M157.2 89.2L156.6 90.4M157.2 89.2L149.1 80.6M146.8 82.3L149.1 80.6M143.3 99.1L147 97.3M156.5 75.2L150.9 77.6M157.2 89.2L164.9 86.6M109 4.5L104.9 2.2M109 4.5L115.9 -0.8M104.9 2.2L106 -8.5M98.3 1.3L106 -8.5M98.7 1.8L104.9 2.2M117.5 0.1L115.9 -0.8M102.3 14.5L108.6 10.4M102.3 14.5L108.3 23.9M116.3 14.9L117 21.7M109 4.5L108.6 10.4M92.3 16.4L96.3 24.1M104.4 26.7L103 26.5M124.6 21.5L117 21.7M119.9 27.5L116.7 22.1M109.4 37.4L111.2 24.3M109.4 37.4L113.1 42.3M109.4 37.4L104.2 34.1M17.6 1.9L25.8 1.3M41.9 32.1L40.6 41.8M49.6 33.4L50.9 45.6M40.6 41.8L46.9 46.9M34.6 45.1L42.3 56.4M60.9 43.3L58.4 34.6M49.6 33.4L56.8 31.6M58.4 34.6L56.8 31.6M68.9 44.2L70.8 38.6M70.8 38.6L69.1 33.9M40.5 30.2L42.2 26.4M40.5 30.2L41.9 32.1M42.2 26.4L50.5 21.3M62.1 84.4L67.7 85.8M57.6 71.2L65.9 70.6M65.9 70.6L68.9 77.8M80.1 77.7L76.1 68.4M68.9 77.8L76.1 68.4M73.1 43.7L83.5 34.8M85.5 43.3L83.5 34.8M103 26.5L96.1 34.3M94.5 32.7L96.1 34.3M82.6 31.6L83.2 32.3M104.2 34.1L97.2 35.7M97.2 35.7L96.1 34.3M21.8 25.8L10.8 23.1M21.8 25.8L22.7 24.8M22.7 24.8L23.1 16.5M23.1 16.5L15.4 15.7M15.4 15.7L9.3 22.2M9.3 22.2L10.8 23.1M14.5 4.5L15.4 15.7M8.7 22.3L9.3 22.2M40.3 14.2L31.1 19.6M40.3 14.2L41.1 12.5M41.1 12.5L28.4 7.2M31.1 19.6L26.1 15.3M34.4 29.4L31.7 24.7M34.4 29.4L40.5 30.2M42.2 26.4L40.3 14.2M31.7 24.7L31.1 19.6M41.1 12.5L41.1 12.5M23.1 16.5L26.1 15.3M4.4 68.2L0.7 65.3M-3.2 65L0.7 65.3M150.3 130.7L156.4 121M164.2 124.5L156.4 121M144.4 126.5L154 118.5M45.8 150.7L44.6 160.5M35.4 155.2L41.6 146.8M35.4 155.2L40.4 161.1M41.6 146.8L42.3 146.6M40.4 161.1L44.6 160.5M55 156.3L45.8 150.7M48.8 139.1L47.9 139M47.9 139L42.3 146.6M54.1 164.1L44.6 160.5M57.9 160.1L58 159.5M31.3 156.2L35.4 155.2M32.4 141.9L41.6 146.8M29.2 135.8L43.9 132.8M47.9 139L45.5 133.5M43.9 132.8L45.5 133.5M26.4 133.8L29.4 128.1M21.7 116.4L24.7 118.9M43.9 132.8L36 123.9M29.4 128.1L36 123.9M46.7 109.4L47.4 109M42.7 98L51.2 96.6M51.2 96.6L52.2 98.7M39 96.1L38.7 95.4M47.4 109L57.8 108.3M52.2 98.7L57 101.3M57.8 108.3L57 101.3M55.8 88.8L61.9 98.1M64.3 98.4L61.9 98.1M126.1 85.7L119 84.7M127.8 85.4L130.2 78M130.2 76.7L130.2 78M130.2 76.7L119.5 72.5M116.4 77.5L119.5 72.5M122.8 99.8L126.1 85.7M129.5 86.5L127.8 85.4M114.4 89.3L119 84.7M105.1 75.5L116.4 77.5M105.1 75.5L101.7 72M101.7 72L111.9 64.8M119.6 67L119.5 72.5M133.8 61.7L136.1 63.2M133.8 61.7L129.2 61.6M136.1 63.2L135.2 72.7M131.7 74.3L135.2 72.7M138.8 48.8L133.8 61.7M127.7 43.8L129.2 61.6M123.1 64L125.8 63.7M130.2 76.7L131.7 74.3M141.9 81.5L137.8 73.3M147.7 73.5L140.1 72.2M145.9 63.4L144.9 62.4M144.9 62.4L143 63.1M150.9 77.6L147.7 73.5M154.7 64.9L145.9 63.4M136.1 63.2L143 63.1M146.7 52.1L144.9 62.4M70.3 23.5L69.5 23.8M70.3 23.5L73.1 15.6M66.2 23.6L59.5 8.6M81.6 28.4L70.3 23.5M69.1 33.9L69.5 23.8M58.8 26.6L66.2 23.6M57.9 8.5L59.5 8.6M64.8 5.1L62.9 7.1M75.8 67.4L74.8 67M76 54L81.9 63.3M76 54L73.5 64.9M73.5 64.9L74.8 67M65.9 70.6L74.8 67M76.1 68.4L75.8 67.4M71.2 49.7L75.7 51.5M75.7 51.5L84.4 50.7M84.4 50.7L86.8 59M81.9 63.3L85.6 61.6M81.1 77.7L92.8 70.6M101.7 72L101.3 71.9M85.5 43.4L96.6 40.8M84.4 50.7L85.6 48M85.5 43.4L85.6 48M29.8 57.5L28.5 55M3.8 51.1L3.5 51.2M7.7 35.7L10.9 37.9M-6.3 48.4L2.5 50.5M-4.3 36.2L4.2 37.1M8 23.9L7.7 35.7M14.3 54.9L12.9 52.5M12.9 52.5L3.8 51.1M75.4 134.3L74.7 134.8M75.4 134.3L82.8 138.6M74.7 134.8L72.6 140.5M72.6 140.5L71.7 150.9M71.7 150.9L75.1 153M75.1 153L79.2 152.8M81.5 151.9L79.2 152.8M84 138.6L82.8 138.6M83.6 123.9L79.5 124.9M60 134.5L55.9 139.6M60 134.5L71.8 134.4M87.7 152.4L81.5 151.9M67.3 151.8L71.7 150.9M74 165.4L75.1 153M71.8 134.4L60.4 123.8M65 123.8L60.4 123.8M79.5 124.9L74.1 117.1M65 123.8L74.1 117.1M62.5 111.7L70.5 109M75.1 107.2L72.1 109.3M74.1 117.1L72.1 109.3M72.1 109.3L70.5 109M142.7 120.9L152.4 113.9M142.7 120.9L137.8 116.2M137.5 114.4L137.8 116.2M147.1 110.5L152.3 113M154 118.5L152.4 113.9M131.1 128.8L137.8 116.2M133.2 111L137.5 114.4M166.2 116.1L157.3 108.5M166.2 116.1L173.1 110.6M173 110.3L161.8 102.2M157.3 108.5L159.5 102.9M161.8 102.2L159.8 102.7M159.5 102.9L159.8 102.7M164.2 124.5L166.2 116.1M176.5 113.5L173.1 110.6M177.5 101.8L173 110.3M147 97.3L159.5 102.9M60 134.5L59.4 123.7M45.5 133.5L47.2 130M62.5 111.7L58.4 120.2M60.4 123.8L59.4 123.7M39 96.1L34.8 107.5M25.8 107.6L31.5 108.6M34.8 107.5L31.5 108.6M46.7 109.4L45.5 111M24.7 118.9L34.6 118.8M91.8 58L99.9 60.2M97 49.5L96.1 49.8M97 49.5L102.9 56M86.8 59L91.8 58M101.3 71.9L99.9 60.2M85.6 48L96.1 49.8M99 44.1L97 49.5M107.2 54.6L102.9 56M34.6 45.1L31.5 45.4M28.5 55L28.8 51M34.4 29.4L25.3 36.5M31.5 45.4L25.3 36.5M21.8 25.8L23.4 36.3M25.3 36.5L23.4 36.3M49.4 117.8L46.8 123.1M49.4 117.8L45.6 112.4M45.6 112.4L36.7 121.1M36.7 121.5L36.7 121.1M45.5 111L45.6 112.4M36 123.9L36.7 121.5M34.6 118.8L36.7 121.1M13.7 51L12.7 38.5M19.8 46.8L22.7 36.5M12.7 38.5L20.8 36.4M20.8 36.4L22.7 36.5M12.9 52.5L13.7 51M10.9 37.9L12.7 38.5" stroke="#84ff20" stroke-width="3.2"/><path d="M44.0 171.2h0M39.7 164.5h0M0.2 149.8h0M14.6 149.6h0M13.3 161.7h0M35.0 166.5h0M32.8 170.8h0M15.2 148.8h0M156.5 75.2h0M3.0 11.1h0M80.1 168.3h0M2.1 142.0h0M28.2 157.7h0M18.4 147.9h0M169.9 75.1h0M163.5 79.3h0M149.6 51.2h0M155.3 54.8h0M173.7 36.2h0M170.1 31.5h0M93.0 84.6h0M120.0 139.6h0M139.8 98.5h0M143.3 99.1h0M0.3 95.1h0M106.3 172.5h0M67.6 169.6h0M52.2 169.5h0M91.1 159.3h0M91.7 170.5h0M121.7 141.0h0M134.8 151.9h0M25.8 1.3h0M100.6 93.5h0M93.5 88.0h0M144.7 37.2h0M129.3 35.7h0M169.8 55.2h0M67.7 85.8h0M154.2 9.4h0M165.8 4.4h0M64.8 5.1h0M75.6 4.2h0M47.0 13.1h0M78.9 2.3h0M84.1 3.5h0M81.1 77.7h0M104.2 34.1h0M104.4 26.7h0M34.4 29.4h0M103.2 124.1h0M103.3 151.0h0M102.1 141.2h0M117.6 140.3h0M87.7 152.4h0M89.3 138.6h0M142.8 166.7h0M125.5 157.8h0M125.3 160.5h0M117.0 152.1h0M172.1 163.9h0M131.1 128.8h0M125.6 130.2h0M173.3 143.1h0M172.3 150.2h0M8.0 23.9h0M38.7 70.5h0M41.5 85.7h0M55.8 88.8h0M13.8 100.4h0M9.7 120.9h0M131.0 15.4h0M124.6 21.5h0M116.3 42.1h0M83.6 123.9h0M94.6 125.6h0M114.4 89.3h0M111.7 89.9h0M97.8 104.0h0M108.6 104.8h0M101.4 115.3h0M108.6 111.0h0M157.2 89.2h0M166.7 88.2h0M160.9 14.4h0M160.0 42.8h0M168.2 29.9h0M147.1 34.8h0M152.2 36.8h0M158.8 25.1h0M10.8 4.3h0M7.3 5.6h0M76.0 13.2h0M89.5 15.7h0M55.3 8.3h0M96.7 14.2h0M98.7 1.8h0M44.3 55.8h0M43.2 56.4h0M40.5 30.2h0M42.2 26.4h0M50.5 21.3h0M55.1 22.7h0M69.2 44.5h0M69.5 83.9h0M80.1 77.7h0M110.5 44.4h0M27.8 5.3h0M41.1 12.5h0M3.8 95.3h0M4.4 68.2h0M79.5 124.9h0M136.8 172.3h0M142.3 140.9h0M143.9 130.1h0M154.2 146.4h0M163.9 141.0h0M35.9 66.8h0M29.8 57.5h0M40.5 70.4h0M55.0 156.3h0M47.9 139.0h0M26.8 88.1h0M25.9 91.4h0M23.1 135.1h0M24.2 134.1h0M9.5 125.8h0M21.7 116.4h0M139.4 0.5h0M122.4 43.7h0M60.0 134.5h0M67.3 151.8h0M58.0 159.5h0M59.3 141.9h0M55.5 139.7h0M82.3 91.3h0M81.9 92.8h0M87.4 105.2h0M93.0 89.9h0M123.5 113.0h0M122.8 99.8h0M129.5 86.5h0M143.0 82.7h0M141.9 81.5h0M82.6 31.6h0M102.3 14.5h0M108.3 23.9h0M111.2 24.3h0M41.9 32.1h0M50.9 45.6h0M56.8 31.6h0M58.8 26.6h0M73.1 43.7h0M68.9 77.8h0M76.1 68.4h0M83.2 32.3h0M9.3 22.2h0M144.4 126.5h0M164.2 124.5h0M154.0 118.5h0M45.8 150.7h0M35.4 155.2h0M41.6 146.8h0M42.3 146.6h0M24.7 118.9h0M47.4 109.0h0M52.2 98.7h0M57.8 108.3h0M126.1 85.7h0M127.8 85.4h0M119.0 84.7h0M133.8 61.7h0M136.1 63.2h0M125.8 63.7h0M131.7 74.3h0M135.2 72.7h0M147.7 73.5h0M143.0 63.1h0M69.5 23.8h0M73.1 15.6h0M59.5 8.6h0M62.9 7.1h0M76.0 54.0h0M81.9 63.3h0M73.5 64.9h0M99.2 72.6h0M101.3 71.9h0M85.5 43.4h0M96.6 40.8h0M14.3 54.9h0M12.9 52.5h0M3.8 51.1h0M10.9 37.9h0M71.7 150.9h0M72.1 109.3h0M142.7 120.9h0M137.5 114.4h0M137.8 116.2h0M147.1 110.5h0M173.0 110.3h0M161.8 102.2h0M159.5 102.9h0M59.4 123.7h0M34.6 118.8h0M91.8 58.0h0M97.0 49.5h0M102.9 56.0h0M28.8 51.0h0M25.3 36.5h0M49.4 117.8h0M46.8 123.1h0M36.7 121.5h0M22.7 36.5h0" stroke="#90ff28" stroke-width="3.6"/></g></g></g><rect x="562.5" y="157.6" width="34" height="3.8" fill="#fff" /><g clip-path="url(#c3)"><rect x="439.2" y="175" width="163.8" height="164" fill="#020800"/><g filter="url(#o4)"><g transform="translate(433.2 169)" fill="none" stroke-linecap="round"><path d="M38.9 24.2L37.4 32.8M37.4 32.8L39.8 36.4M39.8 36.4L42.7 36.6M36.7 1.4L36 -8M175.3 86.8L181.4 78.3M179.1 151.9L176.6 152.3M180 180.2L169.9 175.6M13.7 -2.6L11.3 -0.8M9.6 -0.6L9.4 -10.6M9.6 -0.6L11.3 -0.8M6.3 0.6L2.7 -8.4M6.3 0.6L9.6 -0.6M83.1 16.4L89.6 23.3M83.1 16.4L83.5 15.2M89.6 23.3L95 20.1M95 20.1L95.4 16.1M97 11.2L96.7 13.7M97 11.2L85.8 7M85.8 7L83.8 7.7M95.4 16.1L96.7 13.7M36.7 1.4L35.6 2.3M30.6 -10.7L31.1 -0.7M35.6 2.3L31.1 -0.7M49.4 1.8L56 -4.3M44.5 0L44.6 0.1M148.1 24.6L148.9 28.9M148.1 24.6L146.9 23.1M146.9 23.1L138 23.3M148.9 28.9L139.7 33.1M149.5 29.3L148.9 28.9M159.7 22.8L159.3 20.5M159.3 20.5L148.1 24.6M179.7 137.8L174.2 141.2M174.2 141.2L168.7 140.2M179.9 133.6L168.9 136.3M176.6 152.3L174.2 141.2M164.9 143.3L168.7 140.2M129.1 30.8L130 37.5M122.7 29.4L123.1 29.2M126.5 28.7L123.1 29.2M130 37.5L123.1 38.4M139.7 33.1L139.7 36.6M133.3 40.3L134.7 39.7M139.7 36.6L134.7 39.7M145.3 164.4L142.5 165.1M164.5 159.1L167.8 169.6M154.7 162.8L154.8 162.4M164.1 171L167.8 169.6M38 23.9L32.3 26.4M51.7 7.3L56.1 8.9M56 -4.3L60.6 -0.6M56.1 8.9L60.6 -0.6M87.8 -8.2L92.2 0M92.2 0L89.2 2.7M89.2 2.7L83.5 -6.2M85.8 7L89.2 2.7M100.1 8.4L97.7 -0.1M97.7 -0.1L92.2 0M79 4.6L83.8 7.7M80 -1.5L83.5 -6.2M44.6 0.1L43.1 9M35.6 2.3L34.4 6.5M34.4 6.5L43.1 9M51.7 7.3L48.6 10.2M48.6 10.2L43.7 9.8M43.1 9L43.7 9.8M17.5 7.1L22.3 1.6M17.5 7.1L11.3 -0.8M22.3 -2.6L22.7 -1.6M22.7 -1.6L22.3 1.6M31.1 -0.7L23 -1.6M22.7 -1.6L23 -1.6M34.4 6.5L33.8 7.3M23 -1.6L33.8 7.3M110.1 -3.9L110.2 0.5M110.2 0.5L99 -2M100.1 8.4L103.6 8.8M111 1.9L110.1 5.1M111 1.9L110.2 0.5M170.7 9.7L178.8 6.6M172.9 15.9L169.8 12.4M169 6.8L164 4.9M169.8 12.4L159.9 16.5M147.8 18.2L146.9 23.1M147.8 18.2L149.6 15.9M149.6 15.9L159.9 16.7M159.9 16.8L159.9 16.7M179.8 25.6L175.1 25.6M172.9 15.9L172.9 16.3M175.1 25.6L172.9 16.3M159.9 16.5L159.9 16.7M159.9 16.8L167.7 20.8M161.1 26.4L172.4 26.5M161.1 26.4L160.3 30.2M160.3 30.2L170.6 34.9M170.6 34.9L172.9 26.7M172.9 26.7L172.4 26.5M159.7 22.8L161.1 26.4M167.7 20.8L172.4 26.5M153.1 33.9L157.8 33.3M153.1 33.9L149.5 29.3M175.1 25.6L172.9 26.7M148.4 88.8L142.8 85.2M142.8 85.2L138.2 86.5M133.4 102.5L135.5 103.3M116.3 123.9L122.6 116.8M122.6 116.8L118.8 111.7M118.8 111.7L111.8 110.5M118.1 137.4L117.1 137.4M161.3 83.6L157.7 84M164.2 92.9L155.9 87.9M157.7 84L155.9 87.9M161.3 83.6L163.8 77.8M154.1 76.7L153.7 78.8M142.8 85.2L144 83.1M153.2 79.2L151.4 89.2M125.7 16.8L129.6 23.6M125.7 16.8L133.2 11.6M133.2 11.6L133.5 11.9M133.5 11.9L137 21.8M129.6 23.6L137 22.1M137 22.1L137 21.8M126.5 28.7L129.6 23.6M123.1 29.2L121.1 16.4M121.1 16.4L125.7 16.8M142.2 16.7L141.6 12.7M141.6 12.7L133.5 11.9M138 23.3L137 22.1M147.8 18.2L142.2 16.7M133.3 40.3L131.4 44.3M122.7 29.4L115.5 29.2M115.4 41.1L118.7 42.7M115.4 41.1L115.4 29.2M115.4 29.2L115.5 29.2M164.3 66.8L153.1 73.7M164.3 66.8L163.5 65.1M150.9 72.1L153.1 73.7M157.1 63.2L163.5 65.1M120.9 49.2L118.7 42.7M120.9 49.2L122.1 49.8M122.1 49.8L131.2 45.3M164.3 77.5L167.5 69.7M171.5 84.5L173.4 76.7M164.3 66.8L167.5 69.7M171.6 84.8L165.4 89.8M171.6 84.8L171.5 84.5M172 69.1L178.7 69.5M172 69.1L170.3 69.8M59.2 115.1L68.7 114.2M69.1 121.4L69.4 121.2M80.2 124.1L79.1 120.7M71.3 109.8L78.9 114.6M48.1 103.3L47.9 103.5M59.2 115.1L58.1 116.3M51.5 118.2L47.5 111.7M47.5 111.7L48.6 105.4M60.9 93.8L61.1 95.8M101 160.7L101.2 166.7M147.6 157.4L143.3 154.1M143.3 154.1L146.1 152M164.9 143.3L159.3 138.3M168.9 136.3L168.1 133.4M168.1 133.4L165.6 131.4M40.9 93.4L34 86.6M46.5 103.2L47.9 103.5M40.8 93.9L40.9 93.4M48.8 84.1L51.6 84M60.9 93.8L61.4 92.9M0.3 46.4L0.7 43M-3.3 38.6L-1.8 35.4M4.4 38L3.7 35.4M-4.8 31.3L5.1 27.4M6 28L5.1 27.4M80.5 18.3L71.3 12.5M79 4.6L78.9 4.6M73 6.9L71.3 12.5M62.2 8.2L57.5 10.4M62.2 8.2L65.5 11M57.5 10.4L58 12.3M58 12.3L66.9 17.8M65.5 11L67.8 16.4M66.9 17.8L67.8 16.4M67.1 4.2L65.5 11M67.1 4.2L62.2 8.2M73 6.9L67.3 4M71.3 12.5L67.8 16.4M67.1 4.2L67.3 4M67 18.9L66.9 17.8M62.8 -0.4L66.6 2.5M62.8 -0.4L65.9 -6.3M66.6 2.5L71 -3.8M67.3 4L66.6 2.5M78.9 4.6L71 -3.8M56 15.6L47.9 17.2M46.7 22.8L49.8 24.3M46.7 22.8L46.7 18.8M46.7 18.8L47.9 17.2M48.6 10.2L47.9 17.2M43 24.9L46.7 22.8M44.9 38.3L51.7 27.6M51.7 27.6L49.8 24.3M38 23.9L35.6 14.8M35.6 14.8L41 14.7M41 14.7L46.7 18.8M41 14.7L43.7 9.8M120.6 16.5L115.6 28.2M120.6 16.5L113.4 18.3M113.4 18.3L115.6 28.2M121 16.3L121.1 16.4M121 16.3L120.6 16.5M115.5 29.2L115.6 28.2M110.1 17.4L113.4 18.3M119.8 11.2L113.3 9.2M110.9 41.8L115.4 41.1M107.3 36.8L107.5 29M115.4 29.2L107.6 28.9M107.5 29L107.6 28.9M25.3 4.7L33.7 7.5M33.7 7.5L32.7 12.6M32.7 12.6L27.7 15.2M27.7 15.2L27.2 15.3M22.3 1.6L25.3 4.7M33.8 7.3L33.7 7.5M35.6 14.8L32.7 12.6M177.9 1.4L174.6 -1M169 6.8L170.1 3.6M170.1 3.6L174.6 -1M173.1 -4.1L174.6 -1M159.2 12.7L154 5.5M154 5.5L149.4 15.7M141.6 12.7L145.5 9.9M145.5 9.9L149.4 15.7M134.6 -1.1L135.5 -8.2M139.6 -0.3L145.3 -2.7M169.9 36.9L164.5 38.5M164.5 38.5L164.9 45.6M170.7 45.9L164.9 45.6M157.8 33.3L160.6 38.1M170.7 35.4L170.6 34.9M160.6 38.1L164.5 38.5M83.8 79.3L85.2 80.8M109.3 77.5L101.2 74M113.5 73.7L110.1 64.6M102.1 68.7L101.2 74M109.3 77.9L102.2 84.8M116.6 73.9L121.8 67.1M110.2 64.2L120.6 64.7M110.2 64.2L110.1 64.6M131.7 92.6L132.8 89.5M136.1 99L140.5 94.4M138.2 86.5L137.1 86.3M132.8 89.5L137.1 86.3M129.8 94.6L124.6 96.3M124.6 96.3L124 87.4M127.5 72.8L121.2 78.2M127.5 72.8L130.4 80.8M121.2 78.2L121.9 82.2M130.4 80.8L121.9 82.2M110.6 103.7L111.7 102.5M131.6 101.3L123.1 100.9M121.3 83.9L121.3 85.1M121.9 82.2L121.3 83.9M130.4 80.8L134.8 82.3M123.1 97.8L114.5 91.7M110.6 103.7L108.1 102.8M135.5 103.3L136.3 104.4M136.3 104.4L139 105.8M149.1 111.3L139.1 115.8M147.9 102.8L147.4 102.6M139 105.8L139.1 115.8M150.8 119.8L149.1 111.3M151.7 99.7L159.4 97.9M151.7 99.7L151.6 89.3M147.9 102.8L151.7 99.7M153.7 78.8L153.2 79.2M155.9 87.9L151.7 89.3M164.2 93.4L164.2 92.9M85.1 107.7L85.3 107.7M70.9 105.6L70.3 101.8M65.1 89.8L61.4 92.9M71.9 95.5L77.1 94.5M88 94L87 97M77.1 94.5L79.3 96.4M68.3 53.3L71.6 51.8M60.4 44L69.8 48.1M60.4 44L59.8 45.3M60.1 47.6L59.8 45.3M153.1 33.9L151.4 36.9M139.7 36.6L142.6 39M151.4 36.9L142.6 39M134.7 39.7L140.9 49.7M127.5 72.8L128.7 70.4M128.7 70.4L127.4 68.7M144.2 77.9L144.5 73.4M144.2 77.9L135.6 77.6M144.5 73.4L136.2 73.3M135.6 77.6L136.2 73.3M144 83.1L144.2 77.9M134.2 70.8L128.7 70.4M134.2 70.8L136.2 73.3M106.6 174.5L107.4 173.1M121.3 146.7L120.3 147.8M100.7 132.1L91.7 127.2M105.8 112.6L104.4 112.6M101.1 105.4L104.4 112.6M101.1 105.4L106.3 102.4M19.9 137L28.9 134.3M179 90.1L177.3 95.1M177.3 95.1L178.5 97.3M17.5 7.1L17.3 8M21.3 21.1L16.3 17.8M21.3 21.1L21 24.5M12.1 20.2L10.1 28.2M12.1 20.2L14.4 17.8M14.4 17.8L16.3 17.8M27.2 15.3L21.3 21.1M18.3 9.4L16.3 17.8M3.1 23.8L3.8 19.2M6.3 17.9L3.8 19.2M6.3 17.9L12.1 20.2M9.4 14.2L6.3 17.9M11.7 14.9L14.4 17.8M17.3 8L16.5 8.2M-1.6 66L-10.1 61.7M-2.6 59.2L3.7 61.2M3.7 61.2L4.3 60.2M0.3 46.4L9.5 45.4M32.8 86.6L29.5 90.4M-1.5 95.9L6.2 101M19.5 85.4L19.6 95.2M17.4 97L19.6 95.2M3.1 23.8L-8.1 22.3M101.8 22.2L106.5 24.6M101.8 22.2L102.3 17.5M107.4 16L109.5 17.6M95 20.1L97.7 22.4M97.7 22.4L101.8 22.2M110.1 17.4L109.5 17.6M103.6 8.8L107.4 16M113.3 9.2L110.1 5.1M120.8 9.5L120.2 4.9M120.8 9.5L131 6.2M120.2 4.9L130.1 1.6M131 6.2L130.5 1.9M130.5 1.9L130.1 1.6M132.9 9.2L133.2 11.6M132.9 9.2L131 6.2M119.8 11.2L120.8 9.5M170.1 3.6L165.2 -1.8M167.8 -4.3L165.2 -1.8M164 4.9L161.7 0M165.2 -1.8L161.7 0M154 5.5L152.4 2.2M152.4 2.2L156.7 -1.2M161.7 0L156.7 -1.2M149.4 3.6L140 3.2M140 6.1L140 3.2M152.4 2.2L150.6 2.2M150.6 2.2L149.4 3.6M139.6 -0.3L140 3.2M145.3 -2.7L150.6 2.2M134.6 -1.1L130.5 1.9M170.7 35.4L176.5 37M183.1 31.6L176.5 37M171.3 46.5L175.9 46.1M175.9 46.1L176.8 37.5M176.5 37L176.8 37.5M182.7 59L175.2 59.1M164.8 59.1L163.5 65.1M164.8 59.1L172.6 56.8M175.2 59.1L172.6 56.8M170.9 49L162.6 54.7M98.7 87.3L94.5 92.8M104 90.3L101.3 96.7M94.5 92.8L98.9 97.6M99.7 75L96.8 75.6M106.6 90.3L104 90.3M106.3 102.4L101.3 96.7M73.7 74.8L74.3 81.5M83.8 79.3L81.5 74M74.3 81.5L74.8 81.8M77 73.9L81.5 74M75.3 58.9L76.4 59.9M66.7 68.5L65.5 65.7M66.7 68.5L76 67.4M73.7 74.8L67.3 72.1M84.2 69L81.5 74M96.8 75.6L94.3 67.9M84.2 69L85.5 68.3M85.5 68.3L88.5 60.9M96.4 62.9L94.3 67.9M65.5 88.3L60.3 81.4M67.3 72.1L67.1 72.3M67.1 72.3L66.7 73.7M57.7 80.8L60.3 81.4M57.7 80.8L56.5 74.8M67.1 72.3L56.5 74.8M120.8 60.5L120.6 64.5M120.8 60.5L125.8 55.6M120.6 64.5L129.6 60.1M130.6 57.6L129.6 60.1M127.4 68.7L129.6 60.1M173.4 130.5L169.3 123.2M177.2 122.3L170.7 122.2M159.5 126.6L155.6 119.1M166.3 112.2L165.9 109.4M166.3 112.2L163.2 118.1M157.4 109.6L157 117.7M169.3 123.2L166.8 123.8M131.9 107.9L135.3 117.9M81.2 105.7L75.4 104M75.4 104L79.1 97.2M79.3 96.4L79.1 97.2M58.9 34.3L61.6 38.5M69.8 26.9L65.8 23.6M45 38.4L58.9 34.3M45.3 39.9L60.4 43.8M61.7 38.8L61.6 38.5M51.7 27.6L58.7 31.7M56.3 20.9L63.4 24.7M110 53.5L109.4 59.9M117.5 58.4L109.8 60.6M117.5 58.4L118.1 51.2M109.8 60.6L109.4 59.9M118.1 51.2L115.5 51.8M110.2 64.2L109.8 60.6M120.8 60.5L117.5 58.4M122.1 49.8L125.8 55.6M110.9 41.8L110.2 42.7M98.5 39.3L100.2 30.9M97.7 22.4L97.4 29.2M68.3 53.3L64.7 56.1M60.1 47.6L59.9 53.3M71.6 51.8L75.3 53.6M75.3 58.9L75.3 53.8M65.5 65.7L65.4 65.6M75.3 53.8L75.3 53.6M61.7 38.8L70.6 37.3M69.8 26.9L71.5 28.1M70.6 37.3L71.5 28.1M78.9 23.1L71.8 28.1M142.6 59L134.5 60.9M134.2 54.3L131.4 57.5M134.5 60.9L131.4 57.5M135.6 51.4L134.2 54.3M136.8 65.6L134.2 70.8M136.8 65.6L134.5 60.9M151.4 36.9L152.7 42.3M152.7 42.3L144.7 47.1M140.9 49.7L144.3 49.3M144.7 47.1L144.3 49.3M156.6 62.9L146.8 67.2M136.8 65.6L145.3 64.1M139.7 164.9L139.8 159.1M138.7 145.8L141.4 142.5M59.4 127.6L61.7 121.6M69.9 131.5L67.3 132.5M10.6 119.4L11.1 115.3M-0.5 113.1L-1.9 119.7M2.2 70.4L2.1 71.3M-1.6 66L2.2 70.4M-7.7 73.1L0.7 72.3M9.8 80L17.9 76M39.7 79.8L37.7 74.7M37 74.2L35 73.6M39.6 36.4L27.4 32.1M31.7 27.4L27.4 30.2M27.4 32.1L27.4 30.2M21 24.5L23 27M27.4 30.2L23 27M23 27L18.3 32.5M12.3 31.7L18.3 32.5M12.3 31.7L13.1 37M3 53.2L6.1 53.1M10.6 46.2L6.1 53.1M12.3 114.3L10.7 105.6M21 107.9L21 107.5M27.4 94.6L28.3 101.4M3.8 19.2L0.1 13.8M0.1 13.8L-0.7 13.7M119.3 -2.7L117.6 0.8M117.6 0.8L117.9 1.1M117.9 1.1L129.9 1.4M129.9 1.4L125.1 -5.5M111 1.9L117.6 0.8M120.2 4.9L117.9 1.1M156.7 -1.2L156.7 -4M175.9 46.1L184.5 48.3M57.8 152.2L61.5 152M46.7 139.6L54.8 139.6M174.9 107.6L174 114.7M171.5 106.7L174.9 107.6M165.5 102.1L170.9 103.3M170.9 103.3L170.3 97.3M168.6 96.5L170.3 97.3M171.5 106.7L170.9 103.3M161.7 106.2L165.5 102.1M52.2 48.6L51.3 50.9M52.2 48.6L45.2 41.1M51.3 50.9L47.4 50.5M59.8 45.3L52.2 48.6M51.6 53.4L51.3 50.9M51.6 53.4L56.4 56.2M43 55.7L48.5 56.3M48.5 56.3L51.6 53.4M47.6 67.1L47.8 66.3M49.4 71.7L48.4 70.5M42.2 59.8L47.8 66.3M37.7 74.7L48.4 70.5M42.2 59.8L35.6 62.9M35.6 62.9L40.3 67.1M49.3 72.3L49.4 71.7M88.7 60.8L94.5 62.2M100.4 58.7L100 56.2M96.7 52.9L95.8 52.7M164.9 45.6L160.3 46.8M160.6 38.1L158.7 44.4M160.3 46.8L158.7 44.4M151.1 52.1L155.4 53.6M154.4 59.8L155.4 53.6M144.3 49.3L146.3 51.8M154.4 43.4L151.1 52.1M145.3 64.1L145.7 61.6M156.6 62.9L154.4 59.8M159.4 52.2L155.4 53.6M4.2 163.1L3.2 162.5M139.7 164.9L136.7 167.3M133.1 155.1L133.2 148.6M127.5 150.3L130 148.4M130.2 130.7L130.4 131.1M140.5 138.5L138.9 136.6M146.1 125.1L140.8 129.1M121.7 131.4L130.2 130.7M63.7 139L61.1 139.6M59.4 127.6L59 127.8M51.5 118.2L49.9 120.6M37.7 161.4L41.1 158.9M-0.2 80.2L9.5 82.3M-0.2 80.2L-0.6 81.6M0.7 72.3L-0.2 80.2M16.1 54.7L14.6 56.7M6.1 53.1L14.6 56.7M31.9 66.4L33.2 62.7M20.1 67.6L27.1 59.7M33.2 62.7L31.8 60.2M35 73.6L31.9 66.4M35.6 62.9L33.2 62.7M24.3 58.6L26.3 58.9M17.1 63.9L20.1 67.6M10.6 46.2L15.9 47.6M16.1 54.7L17 52.2M17 52.2L15.9 47.6M17 52.2L24.8 51.7M15.9 47.6L19.4 41.3M18.3 32.5L21.9 40.2M27.4 32.1L25.6 39.6M21.9 40.2L25.6 39.6M-1.2 94L-3.4 91.5M-0.6 81.6L-4.5 83.7M-5 2L5.6 1.6M-5.1 2.1L2.7 10.8M5.6 1.6L6.7 8M6.7 8L2.7 10.8M6.3 0.6L5.6 1.6M0.1 13.8L2.7 10.8M7 8.2L6.7 8M176.8 37.5L185.9 43.7M93.6 153.2L89.5 154.5M87.2 144.7L86.6 145M84.5 150.7L85.4 154M98.6 40.3L107.6 45.5M101.3 48.8L105.4 49.8M107.6 45.5L106.7 49.5M106.7 49.5L105.4 49.8M90.8 50.2L97.3 45.2M98.5 39.3L98.3 39.5M100 56.2L105.4 49.8M110 53.5L106.7 49.5M80.1 47.3L72.4 42.7M81.8 46.3L78.8 37.6M78.8 37.6L71.9 38.2M72.4 42.7L71.9 38.2M75.3 53.6L80.1 47.3M87.3 47.3L85.8 46.6M70.6 37.3L71.9 38.2M79.7 32.2L80.4 35.6M80.4 35.6L86.2 35.7M86.2 35.7L89.5 34.1M89.5 34.1L90.3 30.3M71.8 28.1L79.7 32.2M85.8 46.6L86.2 35.7M89.6 23.3L88.8 27.5M93.1 38.2L89.5 34.1M97.4 29.2L90.3 30.3M2.2 150.8L-5.9 148.7M119 158.9L122 156.6M122 156.6L126.5 155.8M130.9 163.8L130 158M34.3 39.9L26.9 40.8M29.4 48.6L34.2 51.4M38.5 49.3L37.9 50.4M39.6 36.4L34.3 39.9M24.8 51.7L29.4 48.6M31.8 60.2L34.2 51.4M78.1 150L74.4 151.6" stroke="#3f9a10" stroke-width="1.0"/><path d="M43 24.9L42.7 36.6M43 24.9L38.9 24.2M44.5 0L44.6 -6.7M172.5 85.1L175.3 86.8M172.5 85.1L178.8 77.9M163.2 146L163.4 155.3M163.2 146L164.8 143.9M174.7 153.9L165 157.5M164.8 143.9L175.3 153.1M175 156.4L179.4 165.5M178.8 166.3L169.6 170M174.7 153.9L175 156.4M175.3 153.1L176.6 152.3M181.6 177.6L169.6 170M169.1 170.1L169.9 175.6M83.5 15.2L95.4 16.1M49.4 1.8L44.6 0.1M138 23.3L138.3 31.1M138.3 31.1L139.7 33.1M168.7 140.2L168.9 136.3M164.9 143.3L164.8 143.9M129.1 30.8L126.5 28.7M122.7 29.4L123.1 38.4M129.1 30.8L138.3 31.1M106.6 150L104.2 141.5M112 149.2L114.3 139.3M114.3 139.3L106.9 138.9M155.2 182.1L152.9 175.8M152.9 175.8L150.6 174.6M150.3 174.6L147.6 173.8M137.9 173.9L136.3 179.5M165 157.5L164.5 159.1M169.1 170.1L167.8 169.6M152.9 175.8L160.4 170.9M150.5 166.1L154.7 162.8M163.2 146L153.9 148.4M154.7 152.9L153.9 148.4M38.9 24.2L38 23.9M37.4 32.8L31.7 27.4M31.7 27.4L32.3 26.4M97 11.2L100.1 8.4M99.5 -5.8L99 -2M97.7 -0.1L99 -2M103.6 8.8L110.1 5.1M170.7 9.7L169.8 12.4M170.7 9.7L169 6.8M159.2 12.7L159.9 16.5M159.2 12.7L164 4.9M159.3 20.5L159.9 16.8M167.7 20.8L172.9 16.3M140.5 94.4L138.2 86.5M133.4 102.5L131.6 101.3M131.7 92.6L136.1 99M131.7 92.6L129.8 94.6M131.6 101.3L129.8 94.6M117.1 137.4L112.1 131.2M112.1 131.2L106.2 133.6M111.7 123.6L112.2 124M111.7 123.6L111.5 110.9M120.2 127.5L121.7 131.4M120.2 127.5L116.3 123.9M121.7 131.4L118.1 137.4M126 123.5L124.8 117.3M126 123.5L120.2 127.5M124.8 117.3L122.6 116.8M165.4 89.8L161.3 83.6M163.8 77.8L154.1 76.7M157.7 84L153.7 78.8M148.4 88.8L151.4 89.2M144 83.1L153.2 79.2M142.2 16.7L137 21.8M123.1 38.4L122 40M131.4 44.3L122 40M118.7 42.7L122 40M150.9 72.1L157.1 63.2M131.4 44.3L131.2 45.3M164.3 77.5L171.5 84.5M173.4 76.7L170.3 69.8M170.3 69.8L167.5 69.7M172.5 85.1L171.6 84.8M178.8 77.9L173.4 76.7M105.1 151.6L106.6 150M108.8 161.2L106 158.4M112.9 149.6L117.4 158.5M105.1 151.6L101 151.4M95.8 160L95.1 154M59.2 115.1L62.1 106.3M62.1 106.3L70.3 106.6M69.1 121.4L69.9 131.2M69.4 121.2L78.9 120.8M87.1 132.3L87.7 132.1M87.1 132.3L80.2 124.1M85.3 119.6L79.5 119.9M85.3 119.6L93.2 123.7M91.7 127.2L93.2 123.7M79.1 120.7L79.5 119.9M77.1 136.8L86.7 132.8M86.7 132.8L87.1 132.3M91.5 111.3L91.9 111.6M93.6 111.9L91.9 111.6M73.6 133.1L69.9 131.5M61.6 105.8L59.9 102.1M61.6 105.8L53.3 108.1M53.3 108.1L48.6 105.4M59.9 102.1L59.1 102.1M48.6 105.4L47.9 103.5M58.1 116.3L57 116.3M57 116.3L53.3 108.1M51.1 96.5L59.1 102.1M51.1 96.5L48.1 103.3M108.8 161.2L104.1 166.8M95.8 160L93.2 163.7M93.2 163.7L96.4 169.6M101.2 166.7L96.4 169.6M169.9 175.6L169.6 183.3M152.5 157.6L153.8 154.7M152.5 157.6L147.6 157.4M154.8 162.4L152.5 157.6M154.7 152.9L153.8 154.7M153.9 148.4L152.9 147.5M152.9 147.5L150.4 147.7M150.4 147.7L146.1 152M147.4 139.5L152.4 133.1M152.4 133.1L156.3 137.1M156.6 137.5L156.3 137.1M173.4 130.5L168.1 133.4M156.3 137.1L163.9 127.5M165.6 131.4L163.9 127.5M40.9 93.4L47.6 89.3M48.6 84.2L47.6 89.3M48.6 84.2L40.1 81.4M40.1 81.4L34 86.6M44.1 101.1L46.5 103.2M44.1 101.1L40.8 93.9M51.6 94.9L47.6 89.3M48.8 84.1L48.6 84.2M44.1 101.1L35.1 101.9M40.1 81.4L39.7 79.8M0.7 43L4.4 38M-1.8 35.4L3.7 35.4M-1.8 35.4L-4.8 31.3M3.7 35.4L6 28M80.5 18.3L83.1 16.4M78.9 4.6L73 6.9M79.3 20.3L80.5 18.3M56.1 8.9L57.5 10.4M60.6 -0.6L62.8 -0.4M80 -1.5L73.6 -7.2M56.3 20.9L56 15.6M56.3 20.9L49.8 24.3M58 12.3L56 15.6M44.9 38.3L42.7 36.6M121 16.3L119.8 11.2M110.1 17.4L113.3 9.2M110.9 41.8L107.3 36.8M25.3 4.7L24.1 12.3M24.1 12.3L27.2 15.3M32.3 26.4L27.7 15.2M149.6 15.9L149.4 15.7M134.6 -1.1L139.6 -0.3M169.9 36.9L170.7 45.9M85.2 80.8L92.3 79.7M92.3 79.7L94.7 84.6M94.7 84.6L87.7 91.8M83.6 86.1L87.7 91.8M77.8 88.2L83.6 86.1M109.3 77.5L113.5 73.7M109.3 77.9L109.3 77.5M99.7 75L102.2 84.8M99.7 75L101.2 74M116.6 73.9L113.5 73.7M121.8 67.1L120.6 64.7M123.6 105.5L123 101.2M123.6 105.5L118.8 111.7M110.6 103.7L111.8 110.5M111.7 102.5L123 101.2M124.6 96.3L123.1 97.8M123.1 97.8L123.1 100.9M123.6 105.5L125.4 106.4M125.4 106.4L133.4 102.5M123 101.2L123.1 100.9M110.7 81L110.1 89.9M110.7 81L121.3 83.9M121.3 85.1L114.5 91.7M110.1 89.9L114.1 91.8M121.2 78.2L116.6 73.9M109.3 77.9L110.7 81M134.8 82.3L137.1 86.3M111.7 102.5L114.1 91.8M106.6 90.3L108.1 102.8M145.2 98.1L147.4 102.6M147.4 102.6L139 105.8M149.1 111.3L150.6 107.4M150.6 107.4L147.9 102.8M146 123.8L150.8 119.8M146 123.8L138.5 117.5M151.6 89.3L151.7 89.3M151.7 89.3L159.9 97.1M159.4 97.9L159.9 97.1M151.4 89.2L151.6 89.3M164.2 93.4L159.9 97.1M78.9 114.6L85.1 107.7M95.7 100.9L87.6 98.4M93.6 111.9L93.6 111.9M93.6 111.9L97 105.4M85.3 107.7L87.6 98.4M70.3 106.6L70.9 105.6M65.1 89.8L71.9 95.5M70.3 101.8L71.9 95.5M77.8 88.2L77.1 94.5M77.1 87.7L65.5 88.6M88 94L87.7 91.8M68.3 53.3L60.1 47.6M69.8 48.1L71.6 51.8M131.2 45.3L135.6 51.4M135.6 51.4L140.9 49.7M121.8 67.1L127.4 68.7M150.9 72.1L147.6 70.7M147.6 70.7L144.5 73.4M134.8 82.3L135.6 77.6M104.1 166.8L107.4 173.1M101 176.2L106.6 174.5M96.4 169.6L96.3 170.5M118.1 137.4L122.3 141.2M46 148.6L41.1 158.4M39.4 144.5L36.2 150M97 144.9L100.4 140.5M91.2 145.7L91.2 145.7M97.6 137L95 136.7M101 151.4L97 144.9M106.2 133.6L102.8 130.7M100.7 132.1L102.8 130.7M100.7 132.1L97.6 137M87.2 144.7L86.7 132.8M105.8 112.6L105.6 124M105.6 124L103.6 124.6M102.8 130.7L103.6 124.6M93.6 111.9L104.4 112.7M111.5 110.9L105.8 112.6M111.7 123.6L105.6 124M101.1 105.4L97 105.4M27.3 143.7L38 142.7M27.3 143.7L29.6 134.8M38 142.7L36.7 135.6M12.5 138.4L4.1 142.7M11.4 121.4L8.4 132.8M11.3 121.3L3.1 128.2M8.4 132.8L2.1 133.1M27.3 143.7L24.4 145.6M5.1 147.8L4.5 149.1M125.3 176.6L130.7 179.5M125.3 176.6L119.2 176.7M24.1 12.3L18.3 9.4M18.3 9.4L17.3 8M7 8.2L9.4 14.2M7 8.2L16.5 8.2M9.4 14.2L11.7 14.9M16.5 8.2L11.7 14.9M21 24.5L10.3 28.3M10.3 28.3L10.1 28.2M3.1 23.8L5.1 27.4M6 28L10.1 28.2M-2 50.1L3 53.2M4.4 38L8.7 39.7M34 86.6L32.8 86.6M35.7 97.3L28.6 93.3M28.6 93.3L29.5 90.4M6.2 101L7.2 102.9M5.3 106.5L7.2 102.9M19.7 85.3L29.5 90.4M27.4 94.6L19.6 95.2M13.6 94.3L9.9 86.8M9.9 86.8L19.5 85.4M106.5 24.6L109.5 17.6M96.7 13.7L102.3 17.5M107.6 28.9L106.5 24.6M145.7 8L149.4 3.6M145.7 8L140 6.1M145.5 9.9L145.7 8M132.9 9.2L140 6.1M171.3 46.5L170.7 45.9M172 69.1L175.2 59.1M170.9 49L172.8 54.9M172.6 56.8L172.8 54.9M61.1 167L59.4 166.9M72.4 171.3L63.1 169.4M50.5 160L49.7 160.4M50.5 160L54.3 161.6M45.4 172.1L46.1 180.4M101.3 87.7L98.7 87.3M101.3 87.7L104 90.3M98.9 97.6L101.3 96.7M94.7 84.6L98.7 87.3M102.2 84.8L101.3 87.7M96.8 75.6L94 77M88 94L94.5 92.8M95.7 100.9L98.9 97.6M73.7 74.8L77 73.9M75.3 58.9L65.5 65.7M76.4 59.9L78.2 65.3M76 67.4L78.2 65.3M67.3 72.1L66.7 68.5M77 73.9L76 67.4M84.2 69L78.2 65.3M94 77L89.6 70.9M89.6 70.9L85.5 68.3M76.4 59.9L88.5 60.9M96.6 62.9L96.4 62.9M96.6 62.9L102.1 68.7M68.7 83.4L65.5 88.3M68.7 83.4L66.7 73.7M66.7 73.7L60.3 81.4M65.5 88.6L65.5 88.3M74.3 81.5L68.7 83.4M51.6 84L57.7 80.8M125.8 55.6L130.6 57.6M180.7 123.9L177.2 122.3M150.6 107.4L157.4 109.6M157.4 109.6L161.9 107.6M159.4 97.9L161.7 106.2M161.7 106.2L161.9 107.6M163.2 118.1L157 117.7M163.2 118.1L166.8 123.8M159.5 126.6L163.9 127.3M155.6 119.1L157 117.7M163.9 127.3L166.8 123.8M165.9 109.4L161.9 107.6M151.9 131.7L152.4 133.1M151.9 131.7L159.5 126.6M163.9 127.5L163.9 127.3M150.8 119.8L155.6 119.1M151.9 131.7L149.5 129.9M146.1 125.1L149.5 129.9M129 109.1L128.5 116.1M136.3 104.4L131.9 107.9M136 118.1L135.3 117.9M136 118.1L138.5 117.5M58.9 34.3L58.7 31.7M58.7 31.7L63.4 24.7M63.4 24.7L65.8 23.6M45 38.4L45.3 39.9M61.7 38.8L60.4 43.8M44.9 38.3L45 38.4M67 18.9L65.8 23.6M110 53.5L115.5 51.8M120.9 49.2L118.1 51.2M96.6 62.9L100.4 58.7M100.4 58.7L109.4 59.9M107.5 29L100.2 30.9M97.4 29.2L100.2 30.9M64.7 56.1L59.9 53.3M65.4 65.6L64.7 56.1M79.3 20.3L78.9 23.1M71.5 28.1L71.8 28.1M142.6 59L134.2 54.3M142.6 39L144.7 47.1M157.1 63.2L156.6 62.9M147.6 70.7L146.8 67.2M146.8 67.2L145.3 64.1M142.5 165.1L139.7 164.9M143.3 154.1L142.3 154M147.4 139.5L141.6 141.9M140.5 138.5L141.6 141.9M142.3 154L141.1 152.5M138.7 146.1L138.7 145.8M141.4 142.5L141.6 141.9M67.1 132.3L59.4 127.6M67.1 132.3L64.1 121.8M69.1 121.4L64.1 121.8M58.1 116.3L61.7 121.6M39.4 144.5L38 142.7M22 121.7L25.2 116.4M25.2 116.4L34.8 117.2M33.7 122.5L34.7 120.1M37.1 128.5L37.6 134.2M37.1 128.5L33.7 122.5M26.8 126.7L27 125.6M14.6 123.6L16.1 123.9M14.6 123.6L12.2 133.7M14.2 135.6L18.7 135.8M11.3 121.3L10.6 119.4M17.7 111.1L22 121.7M11.1 115.3L12.3 114.3M8.4 132.8L12.2 133.7M12.5 138.4L14.2 135.6M3.1 128.2L-1.9 119.7M1.8 133.4L2.1 133.1M1.8 133.4L-6.6 121.6M10.6 119.4L-1.9 119.7M22.9 147.8L24.4 145.6M17.1 162.1L20.6 164.6M33.2 151.5L30 157.4M19.4 172L30 173.6M94.1 171.7L90.3 172.2M-1.5 95.9L-1.2 94M6.2 101L8.8 96.2M10.5 71.3L14.6 61.7M10.5 71.3L3.4 72M14.6 61.7L2.9 69M2.9 69L2.2 70.4M3.4 72L2.1 71.3M9.8 80L3.4 72M18 73.1L17.9 76M32.8 86.6L28.2 79.8M37.7 74.7L37 74.2M35 73.6L29.5 77M28.2 79.8L29.5 77M39.8 36.4L39.6 36.4M10.3 28.3L12.3 31.7M8.7 39.7L13.1 37M9.5 45.4L10.6 46.2M17.7 111.1L18.9 109.7M10.7 105.6L18.9 109.7M21.9 108.5L35.3 112M21 107.5L28.3 101.4M33.9 103.6L35.6 110.7M35.8 114.1L34.8 117.2M35.8 114.1L35.3 112M17 100L21 107.5M35.1 101.9L33.9 103.6M46.5 103.2L35.6 110.7M-8.1 22.3L-0.7 13.7M-3.8 11.5L-0.7 13.7M130.1 1.6L129.9 1.4M172.8 54.9L184.4 48.8M171.3 46.5L170.9 49M54.2 141.9L61.4 151.8M54.2 141.9L52.4 145.2M61.5 152L61.4 151.8M61.1 139.6L61.4 151.8M46 148.6L47.4 148.9M85.5 171.7L84.8 169.5M79.3 159L73.4 153.3M61.5 152L61.8 152.2M61.9 156.4L61.8 152.2M176.2 116.1L174 114.7M165.9 109.4L171.5 106.7M177.2 122.3L176.2 116.1M165.5 102.1L168.6 96.5M164.2 93.4L168.6 96.5M177.3 95.1L170.3 97.3M47.4 50.5L43.4 44.2M45.2 41.1L43.4 44.2M45.3 39.9L45.2 41.1M60.4 43.8L60.4 44M43 55.7L42.3 54.4M42.3 54.4L47.4 50.5M56.3 61.4L61.7 65.1M56.3 61.4L50.8 63M61.7 65.1L53.8 72.2M50.8 63L47.8 66.3M47.6 67.1L48.4 70.5M65.4 65.6L61.7 65.1M56.4 56.2L56.3 61.4M48.5 56.3L50.8 63M56.5 74.8L53.8 72.2M42.2 59.8L43 55.7M40.3 67.1L37 74.2M40.3 67.1L47.6 67.1M95.8 52.7L94.5 62.2M88.3 56.2L90 50.3M90.8 50.2L90 50.3M96.4 62.9L94.5 62.2M100 56.2L96.7 52.9M88.5 60.9L88.7 60.8M152.7 42.3L154.4 43.4M158.7 44.4L154.4 43.4M146.3 51.8L151.1 52.1M146.3 51.8L145 59.4M145 59.4L145.7 61.6M145.7 61.6L154.4 59.8M142.6 59L145 59.4M2.2 150.8L0.6 156.1M0.6 156.1L-8.8 158.5M137.9 173.9L136.7 168.9M136.7 168.9L129.3 171.9M125.3 176.6L127.2 171.4M127.2 171.4L129.3 171.9M141.1 152.5L133.1 155.1M122.3 141.2L122.7 141.2M127.5 141.9L130.3 140.3M132.5 134.8L130.4 131.1M140.8 129.1L138.9 136.6M140.8 129.1L131.8 128M131.8 128L131.1 128.5M131.1 128.5L130.2 130.7M122.7 141.2L130.4 131.1M136 118.1L131.8 128M126 123.5L131.1 128.5M59 127.8L54.1 132.8M59 127.8L49.9 120.6M54.1 132.8L48.8 129.9M45.1 133L48.8 129.9M37.1 128.5L47.6 125.4M34.7 120.1L47.7 123.8M38.9 114.3L49.4 120.9M-0.6 81.6L5.2 88.2M5.2 88.2L9.5 86.6M9.5 86.6L9.5 82.3M3.8 90.1L5.2 88.2M17.9 76L21.2 80.6M24.3 58.6L17.1 63.9M24.3 58.6L16.1 54.7M14.6 56.7L14.2 59.1M14.7 61.6L17.1 63.9M14.6 61.7L14.7 61.6M24.4 69.5L20.5 68.8M24.4 69.5L31.9 66.4M20.1 67.6L20.5 68.8M27.1 59.7L31.8 60.2M29.5 77L24.4 69.5M26.3 58.9L27.1 59.7M19.4 41.3L21.9 40.2M89.5 154.5L89 163.4M93.2 163.7L89 163.4M86.6 145L84.5 150.7M86.6 145L81.4 144M76.5 139.8L81.4 144M98.6 40.3L97.3 45.2M97.3 45.2L101.3 48.8M93.1 38.2L98.3 39.5M93.1 38.2L87.3 47.3M87.3 47.3L90 50.3M98.3 39.5L98.6 40.3M96.7 52.9L101.3 48.8M80.1 47.3L81.8 46.3M69.8 48.1L72.4 42.7M79.7 32.2L82.2 27.3M82.2 27.3L88.8 27.5M88.8 27.5L90.3 30.3M78.9 23.1L82.2 27.3M0.9 134.5L0.5 137.1M4.1 142.7L1 138.2M121.7 166.7L119 158.9M121.7 166.7L124.2 166.9M120.3 147.8L122 156.6M127.5 150.3L126.5 155.8M34.3 39.9L38.5 49.3M26.9 40.8L29.4 48.6M25.6 39.6L26.9 40.8M43.4 44.2L38.5 49.3M42.3 54.4L37.9 50.4M67.5 142.2L66.3 151.1M67.5 142.2L73.8 142.5M66.3 151.1L73.4 153.3M73.4 153.3L73.4 153.3" stroke="#66d818" stroke-width="1.5"/><path d="M36.7 1.4L44.5 0M174.7 153.9L175.3 153.1M163.4 155.3L165 157.5M175 156.4L169.5 170M169.6 170L169.5 170M169.1 170.1L169.5 170M83.5 15.2L83.8 7.7M149.5 29.3L159.7 22.8M130 37.5L133.3 40.3M106.6 150L112 149.2M106.9 138.9L104.2 141.5M150.6 174.6L150.3 174.6M150.3 174.6L144.7 181M145.3 164.4L150.5 166.1M150.6 174.6L150.5 166.1M142.5 165.1L147.6 173.8M147.6 173.8L137.9 173.9M164.5 159.1L154.8 162.4M160.4 170.9L154.7 162.8M160.4 170.9L164.1 171M161.8 181.8L164.1 171M163.4 155.3L154.7 152.9M49.4 1.8L51.7 7.3M79 4.6L80 -1.5M180.1 14.7L172.9 15.9M157.8 33.3L160.3 30.2M148.4 88.8L145.2 98.1M145.2 98.1L140.5 94.4M135.5 103.3L136.1 99M117.1 137.4L114.3 139.3M106.9 138.9L106.2 133.6M116.3 123.9L112.2 124M111.8 110.5L111.5 110.9M112.1 131.2L112.2 124M165.4 89.8L164.2 92.9M163.8 77.8L164.3 77.5M153.1 73.7L154.1 76.7M105.1 151.6L106 158.4M112 149.2L112.9 149.6M108.8 161.2L109.9 161.6M109.9 161.6L117.4 158.5M95.8 160L101 160.7M106 158.4L101 160.7M101 151.4L95.1 154M70.3 106.6L71.3 109.8M68.7 114.2L71.3 109.8M78.9 120.8L69.9 131.2M87.7 132.1L91.7 127.2M77.1 136.8L73.6 133.1M73.6 133.1L80.2 124.1M91.5 111.3L79.5 119.8M91.9 111.6L85.3 119.6M79.5 119.8L79.5 119.9M93.6 111.9L95.7 121.5M95.7 121.5L93.2 123.7M78.9 120.8L79.1 120.7M69.9 131.5L69.9 131.2M68.7 114.2L69.4 121.2M78.9 114.6L79.5 119.8M59.1 102.1L48.1 103.3M62.1 106.3L61.6 105.8M51.5 118.2L57 116.3M51.6 94.9L51.1 96.5M51.6 94.9L60.9 93.8M61.1 95.8L59.9 102.1M101.2 166.7L104.1 166.8M153.8 154.7L146.1 152M145.3 164.4L147.6 157.4M147.4 139.5L153.2 144M153.2 144L156.6 137.5M159.3 138.3L156.6 137.5M152.9 147.5L153.2 144M179.1 131.4L173.4 130.5M159.3 138.3L165.6 131.4M61.4 92.9L51.6 84M40.8 93.9L35.7 97.3M35.1 101.9L35.7 97.3M48.8 84.1L49.3 72.3M39.7 79.8L49.3 72.3M-2.1 49.8L0.3 46.4M-3.3 38.6L0.7 43M79.3 20.3L67 18.9M170.7 35.4L169.9 36.9M72.4 171.3L73 170.9M72.4 171.3L69.4 178.6M73 170.9L80.3 177.1M79.3 182.1L80.3 177.1M85.2 80.8L83.6 86.1M83.8 79.3L74.8 81.8M77.8 88.2L77.1 87.7M77.1 87.7L74.8 81.8M110.1 64.6L102.1 68.7M132.8 89.5L124 87.4M114.1 91.8L114.5 91.7M124 87.4L121.3 85.1M110.1 89.9L106.6 90.3M138.5 117.5L139.1 115.8M91.5 111.3L85.3 107.7M95.7 100.9L97 105.4M61.1 95.8L70.3 101.8M65.1 89.8L65.5 88.6M87 97L79.3 96.4M112.5 170.1L117.7 171.4M112.5 170.1L107.4 173.1M108.9 177.9L118.6 178.5M108.9 177.9L106.6 174.5M117.7 171.4L119.2 176.7M119.2 176.7L118.6 178.5M109.9 161.6L112.5 170.1M101 176.2L96.3 170.5M122.3 141.2L121.3 146.7M112.9 149.6L120.3 147.8M46 148.6L40.6 144.7M40.6 144.7L39.4 144.5M36.2 150L41.1 158.4M97 144.9L91.2 145.7M100.4 140.5L97.6 137M91.2 145.7L95 136.7M93.6 153.2L95.1 154M93.6 153.2L91.2 145.7M104.2 141.5L100.4 140.5M87.2 144.7L91.2 145.7M87.7 132.1L95 136.7M99.5 122.2L103.6 124.6M99.5 122.2L104.4 112.7M104.4 112.7L104.4 112.6M95.7 121.5L99.5 122.2M108.1 102.8L106.3 102.4M36.7 135.6L29.6 134.8M5.1 147.8L12.9 147.1M5.1 147.8L4.1 142.7M12.5 138.4L13.8 144.5M13.8 144.5L12.9 147.1M11.4 121.4L11.3 121.3M3.1 128.2L2.1 133.1M29.6 134.8L28.9 134.3M20.6 139.7L24.4 145.6M20.6 139.7L19.9 137M17.2 149.9L12.9 147.1M17.2 149.9L15.9 156.5M12.1 157.9L4.5 149.1M12.1 157.9L14.9 158.3M14.9 158.3L15.9 156.5M84.5 174.4L90 180.7M84.5 174.4L85.5 171.7M90.3 172.2L85.5 171.7M90.3 172.2L90.2 180.7M80.3 177.1L84.5 174.4M109.4 185.5L108.9 177.9M175.3 86.8L179 90.1M-1.6 66L-2.6 59.2M4.3 60.2L3 53.2M8.7 39.7L9.5 45.4M-5.1 104.3L5.3 106.5M-1.5 95.9L-5.9 100.5M19.5 85.4L19.7 85.3M28.6 93.3L27.4 94.6M13.6 94.3L17.4 97M102.3 17.5L107.4 16M162.6 54.7L164.8 59.1M62.5 174.2L59.1 178.1M62.5 174.2L63.1 169.4M63.1 169.4L61.1 167M53.6 172.3L59.4 166.9M53.6 172.3L55.1 177.1M55.1 177.1L59.1 178.1M69.4 178.6L62.5 174.2M49.2 170.7L49.7 160.4M49.2 170.7L53.6 172.3M54.3 161.6L59.4 166.9M45.4 172.1L49.2 170.7M51.8 181L55.1 177.1M92.3 79.7L94 77M87.6 98.4L87 97M89.6 70.9L94.3 67.9M120.6 64.7L120.6 64.5M169.3 123.2L170.7 122.2M166.3 112.2L170.7 116.5M170.7 116.5L170.7 122.2M146 123.8L146.1 125.1M129 109.1L131.9 107.9M128.5 116.1L135.3 117.9M125.4 106.4L129 109.1M124.8 117.3L128.5 116.1M81.2 105.7L79.1 97.2M85.1 107.7L81.2 105.7M70.9 105.6L75.4 104M61.6 38.5L69.8 26.9M110.2 42.7L115.5 51.8M107.3 36.8L98.5 39.3M130.6 57.6L131.4 57.5M142.3 154L139.8 159.1M149.5 129.9L140.5 138.5M150.4 147.7L141.4 142.5M141.1 152.5L138.7 146.1M64.1 121.8L61.7 121.6M67.3 132.5L67.1 132.3M40.6 144.7L46.7 139.6M36.7 135.6L37.6 134.2M37.6 134.2L45.1 133M45.1 133L46.7 139.6M27 125.6L33.7 122.5M27 125.6L22 122.3M22 121.7L22 122.3M34.7 120.1L34.8 117.2M28.9 134.3L26.8 126.7M16.1 123.9L19.6 132.5M12.2 133.7L14.2 135.6M18.7 135.8L19.6 132.5M11.4 121.4L14.6 123.6M17.7 111.1L12.3 114.3M22 122.3L16.1 123.9M26.8 126.7L19.6 132.5M20.6 139.7L13.8 144.5M19.9 137L18.7 135.8M-6.6 121.2L-1.9 119.7M-0.5 113.1L-5.2 108.7M-1.9 119.7L-1.9 119.7M5.4 110.8L5.3 106.5M5.4 110.8L-0.5 113.1M5.4 110.8L11.1 115.3M17.2 149.9L22.9 147.8M15.9 156.5L25.3 155M25.3 155L22.9 147.8M36.2 150L33.2 151.5M24.4 145.6L24.4 145.6M33.2 151.5L24.4 145.6M14.9 158.3L17.1 162.1M20.6 164.6L25.2 163M25.3 155L28 158.1M25.2 163L28 158.1M30 157.4L28 158.1M19.4 172L18.4 173.4M25.4 180.9L30 173.6M25.4 180.9L18.3 173.6M18.3 173.6L18.4 173.4M18.1 188.7L14.5 177.1M14.5 177.1L18.3 173.6M20.6 164.6L19.4 172M25.2 163L32.5 169.9M32.5 169.9L32 172.6M30 173.6L31.9 172.8M31.9 172.8L32 172.6M94.1 171.7L96.3 170.5M94.1 171.7L91.1 180.9M101 176.2L99.9 179.3M8.8 96.2L3.8 90.1M3.8 90.1L-1.2 94M3.7 61.2L2.9 69M0.7 72.3L2.1 71.3M10.5 71.3L18 73.1M19.7 85.3L21.2 80.6M21.2 80.6L28.2 79.8M7.2 102.9L8.2 102.9M8.2 102.9L10.7 105.6M13.6 94.3L8.8 96.2M17.4 97L17 100M8.2 102.9L17 100M21.9 108.5L21 107.9M28.3 101.4L33.9 103.6M35.6 110.7L35.3 112M25.2 116.4L21.9 108.5M18.9 109.7L21 107.9M47.5 111.7L38.9 114.3M38.9 114.3L35.8 114.1M52.4 145.2L57.8 152.2M61.1 139.6L55.7 138.6M54.8 139.6L55.7 138.6M54.8 139.6L54.2 141.9M47.4 148.9L52.4 145.2M47.4 148.9L51.5 155.5M51.5 155.5L57.8 152.2M73 170.9L74.5 167.6M74.5 167.6L75.3 167.1M75.3 167.1L84.8 169.5M74.5 167.6L68.2 161.5M79.3 159L75.3 167.1M73.4 153.3L68.2 161.5M61.1 167L64.7 161.8M68.2 161.5L64.7 161.8M54.3 161.6L61.9 156.4M64.7 161.8L61.9 156.4M50.5 160L51.5 155.5M174.9 107.6L178 107.1M176.2 116.1L181.2 113.2M170.7 116.5L174 114.7M59.9 53.3L56.4 56.2M53.8 72.2L49.4 71.7M95.8 52.7L90.8 50.2M88.3 56.2L88.7 60.8M75.3 53.8L88.3 56.2M162.6 54.7L159.4 52.2M159.4 52.2L160.3 46.8M3.2 173.1L-4.9 169.9M3.2 173.1L4 176.6M4 176.6L0.1 180.5M3.2 173.1L6.3 167.1M6.3 167.1L4.2 163.1M-4.8 166.4L3.2 162.5M12.1 157.9L4.2 163.1M4.5 149.1L2.2 150.8M3.2 162.5L0.6 156.1M136.7 168.9L136.7 167.3M130.7 179.5L129.3 171.9M139.8 159.1L132.1 156.7M133.1 155.1L132.1 156.7M138.7 146.1L133.2 148.6M122.7 141.2L127.5 141.9M127.5 141.9L130 148.4M121.3 146.7L127.5 150.3M130.3 140.3L138.7 145.8M130 148.4L133.2 148.6M132.5 134.8L138.9 136.6M130.3 140.3L132.5 134.8M48.8 129.9L47.6 125.4M47.6 125.4L47.7 123.8M47.7 123.8L49.4 120.9M49.9 120.6L49.4 120.9M67.3 132.5L63.7 139M55.7 138.6L54.1 132.8M1.8 133.4L0.9 134.5M0.9 134.5L-4.5 131.6M42.4 169.4L36.7 166.7M42.4 169.4L46.2 160.5M36.7 166.7L37.7 161.4M46.2 160.5L41.1 158.9M44.4 171.7L42.4 169.4M44.4 171.7L38.1 176.1M32.5 169.9L36.7 166.7M32 172.6L38.1 176.1M45.4 172.1L44.4 171.7M49.7 160.4L46.2 160.5M30 157.4L37.7 161.4M41.1 158.4L41.1 158.9M13.2 165L13.3 169.6M13.2 165L7.4 167.4M13.3 169.6L8.9 168.8M7.4 167.4L8.9 168.8M17.1 162.1L13.2 165M18.4 173.4L13.3 169.6M6.3 167.1L7.4 167.4M14.5 177.1L12.7 177M12.7 177L8.9 168.8M12.7 177L9.2 178M4 176.6L9.2 178M33.2 184.5L38.3 176.8M38.3 176.8L43.4 182.6M31.9 172.8L33.2 184.5M38.1 176.1L38.3 176.8M9.8 80L9.5 82.3M9.9 86.8L9.5 86.6M14.2 59.1L14.7 61.6M4.3 60.2L14.2 59.1M18 73.1L20.5 68.8M26.3 58.9L24.8 51.7M13.1 37L19.4 41.3M9.2 178L7.9 187M81.5 158.9L87.3 163.8M81.5 158.9L85.4 154M89.5 154.5L85.4 154M89 163.4L87.3 163.8M79.3 159L81.5 158.9M84.8 169.5L87.3 163.8M77.1 136.8L76.5 139.8M84.5 150.7L78.1 150M81.4 144L78.1 150M110.2 42.7L107.6 45.5M85.8 46.6L81.8 46.3M78.8 37.6L80.4 35.6M-5.3 139.2L0.5 137.1M1 138.2L0.5 137.1M1 138.2L-5.9 148.7M124.2 166.9L130.9 163.8M126.5 155.8L130 158M117.4 158.5L119 158.9M117.7 171.4L121.7 166.7M127.2 171.4L124.2 166.9M136.7 167.3L130.9 163.8M132.1 156.7L130 158M34.2 51.4L37.9 50.4M73.8 142.5L74.4 151.6M73.4 153.3L74.4 151.6M63.7 139L67.5 142.2M61.8 152.2L66.3 151.1M76.5 139.8L73.8 142.5" stroke="#84ff20" stroke-width="2.4"/><path d="M153.1 33.9h0M164.9 143.3h0M83.1 16.4h0M36.7 1.4h0M159.7 22.8h0M150.6 174.6h0M142.5 165.1h0M163.4 155.3h0M169.1 170.1h0M169.6 170.0h0M48.8 84.1h0M110.9 41.8h0M83.5 15.2h0M95.4 16.1h0M141.6 12.7h0M172.0 69.1h0M157.8 33.3h0M174.2 141.2h0M126.0 123.5h0M142.8 85.2h0M62.1 106.3h0M130.0 37.5h0M123.1 38.4h0M139.7 36.6h0M105.1 151.6h0M122.3 141.2h0M112.0 149.2h0M104.2 141.5h0M147.6 173.8h0M93.2 163.7h0M94.1 171.7h0M164.5 159.1h0M154.7 162.8h0M154.8 162.4h0M164.1 171.0h0M149.5 129.9h0M44.1 101.1h0M13.6 94.3h0M56.1 8.9h0M67.0 18.9h0M35.6 14.8h0M33.8 7.3h0M172.4 26.5h0M72.4 171.3h0M85.2 80.8h0M121.2 78.2h0M131.7 92.6h0M106.2 133.6h0M116.3 123.9h0M118.8 111.7h0M111.5 110.9h0M149.1 111.3h0M147.9 102.8h0M153.7 78.8h0M153.2 79.2h0M155.9 87.9h0M60.9 93.8h0M51.6 84.0h0M57.7 80.8h0M109.9 161.6h0M27.3 143.7h0M87.2 144.7h0M77.1 136.8h0M68.7 114.2h0M101.1 105.4h0M95.7 121.5h0M102.8 130.7h0M91.9 111.6h0M79.5 119.8h0M87.7 132.1h0M80.2 124.1h0M79.1 120.7h0M53.3 108.1h0M59.9 102.1h0M5.1 147.8h0M73.0 170.9h0M104.1 166.8h0M146.1 152.0h0M153.2 144.0h0M122.7 141.2h0M173.4 130.5h0M169.3 123.2h0M40.9 93.4h0M47.6 89.3h0M34.0 86.6h0M35.7 97.3h0M0.3 46.4h0M3.7 35.4h0M6.0 28.0h0M65.5 11.0h0M46.7 22.8h0M24.1 12.3h0M145.5 9.9h0M46.0 148.6h0M50.5 160.0h0M49.7 160.4h0M83.6 86.1h0M74.3 81.5h0M113.5 73.7h0M130.4 80.8h0M124.0 87.4h0M121.9 82.2h0M121.3 83.9h0M108.1 102.8h0M166.3 112.2h0M139.1 115.8h0M151.7 99.7h0M151.7 89.3h0M159.9 97.1h0M85.3 107.7h0M70.3 101.8h0M45.0 38.4h0M61.7 38.8h0M60.4 43.8h0M67.1 72.3h0M56.5 74.8h0M71.6 51.8h0M142.6 39.0h0M135.6 51.4h0M135.6 77.6h0M127.5 141.9h0M112.5 170.1h0M106.6 174.5h0M107.4 173.1h0M120.3 147.8h0M41.1 158.4h0M91.2 145.7h0M105.8 112.6h0M29.6 134.8h0M17.7 111.1h0M12.5 138.4h0M8.4 132.8h0M4.1 142.7h0M3.1 128.2h0M1.8 133.4h0M26.8 126.7h0M17.1 162.1h0M20.6 164.6h0M16.3 17.8h0M3.0 53.2h0M9.5 45.4h0M28.6 93.3h0M5.4 110.8h0M27.4 94.6h0M120.2 4.9h0M131.0 6.2h0M130.1 1.6h0M63.1 169.4h0M53.6 172.3h0M104.0 90.3h0M65.5 65.7h0M89.6 70.9h0M96.4 62.9h0M125.8 55.6h0M170.7 122.2h0M165.9 109.4h0M161.7 106.2h0M163.2 118.1h0M163.9 127.3h0M135.3 117.9h0M81.2 105.7h0M51.6 53.4h0M110.0 53.5h0M115.5 51.8h0M75.3 53.8h0M142.6 59.0h0M146.8 67.2h0M139.7 164.9h0M130.3 140.3h0M138.7 145.8h0M61.7 121.6h0M45.1 133.0h0M27.0 125.6h0M22.0 122.3h0M34.7 120.1h0M34.8 117.2h0M14.2 135.6h0M25.3 155.0h0M28.0 158.1h0M19.4 172.0h0M32.0 172.6h0M2.2 70.4h0M37.0 74.2h0M27.4 32.1h0M8.2 102.9h0M18.9 109.7h0M21.0 107.9h0M57.8 152.2h0M79.3 159.0h0M73.4 153.3h0M68.2 161.5h0M64.7 161.8h0M174.9 107.6h0M170.9 103.3h0M52.2 48.6h0M96.7 52.9h0M87.3 47.3h0M90.8 50.2h0M154.4 43.4h0M136.7 167.3h0M133.1 155.1h0M132.1 156.7h0M138.9 136.6h0M131.8 128.0h0M131.1 128.5h0M130.2 130.7h0M130.4 131.1h0M54.1 132.8h0M47.6 125.4h0M13.3 169.6h0M16.1 54.7h0M15.9 47.6h0M2.7 10.8h0M89.5 154.5h0M87.3 163.8h0M78.1 150.0h0M72.4 42.7h0M80.4 35.6h0M89.5 34.1h0M90.3 30.3h0M0.5 137.1h0M121.7 166.7h0M119.0 158.9h0M34.3 39.9h0M26.9 40.8h0" stroke="#90ff28" stroke-width="3.6"/></g></g></g><rect x="570" y="323" width="33" height="3.8" fill="#fff" /><g clip-path="url(#c5)"><rect x="917.3" y="52.3" width="254.5" height="254.3" fill="#900" filter="url(#t6)"/><g filter="url(#b5)"><ellipse cx="1030.42" cy="170.77" rx="80.28" ry="25.42" fill="#4a0000" opacity="0.55" transform="rotate(38 1030.42 170.77)"/><ellipse cx="1150.83" cy="66.41" rx="24.08" ry="13.38" fill="#100000" opacity="0.8"/><ellipse cx="936.76" cy="280.48" rx="21.41" ry="16.06" fill="#200000" opacity="0.5"/><ellipse cx="1164.21" cy="232.32" rx="13.38" ry="37.46" fill="#200000" opacity="0.55"/><ellipse cx="1113.37" cy="184.15" rx="10.7" ry="29.44" fill="#250000" opacity="0.45" transform="rotate(-35 1113.37 184.15)"/><ellipse cx="1129.43" cy="133.31" rx="29.44" ry="18.73" fill="#b81212" opacity="0.5" transform="rotate(20 1129.43 133.31)"/><ellipse cx="1097.32" cy="240.34" rx="24.08" ry="12.04" fill="#b81212" opacity="0.5" transform="rotate(20 1097.32 240.34)"/><ellipse cx="950.14" cy="98.52" rx="18.73" ry="18.73" fill="#b01010" opacity="0.45"/><ellipse cx="939.44" cy="232.32" rx="16.06" ry="13.38" fill="#b01010" opacity="0.4" transform="rotate(30 939.44 232.32)"/><ellipse cx="976.9" cy="157.39" rx="10.7" ry="32.11" fill="#a81010" opacity="0.4" transform="rotate(-20 976.9 157.39)"/></g><g filter="url(#b3)" fill="none" stroke-linecap="round" stroke-linejoin="round"><path d="M998.31 90.49C1005 93.61 1026.4 100.75 1038.45 109.22C1050.49 117.7 1060.74 128.85 1070.56 141.33C1080.37 153.82 1088.84 168.99 1097.32 184.15C1105.79 199.31 1117.39 224.29 1121.4 232.32" stroke="#c01414" stroke-width="3.21" opacity="0.55"/><path d="M963.52 111.9C967.98 122.16 980.47 153.38 990.28 173.45C1000.09 193.51 1010.79 215.37 1022.39 232.32C1033.99 249.26 1053.61 268 1059.85 275.13" stroke="#300" stroke-width="3.21" opacity="0.5"/><path d="M1038.45 74.44C1042.01 79.79 1053.61 96.73 1059.85 106.55C1066.1 116.36 1073.23 128.85 1075.91 133.31" stroke="#200" stroke-width="6.96" opacity="0.6"/><path d="M958.17 237.67C960.4 239.45 966.19 242.57 971.55 248.37C976.9 254.17 987.16 268.44 990.28 272.46" stroke="#100" stroke-width="5.35" opacity="0.6"/><path d="M1075.91 253.72C1079.48 256.4 1086.61 264.43 1097.32 269.78C1108.02 275.13 1133 283.16 1140.13 285.83" stroke="#200" stroke-width="5.89" opacity="0.55"/></g><g filter="url(#b3_2)"><ellipse cx="1034.43" cy="62.39" rx="10.7" ry="9.37" fill="#1414ff"/><ellipse cx="1066.54" cy="65.07" rx="10.7" ry="8.03" fill="#1414ff"/><ellipse cx="990.28" cy="81.13" rx="12.04" ry="8.03" fill="#6020c0" opacity="0.8"/><ellipse cx="939.44" cy="117.25" rx="9.37" ry="8.03" fill="#2020e0" opacity="0.9"/><ellipse cx="1137.46" cy="109.22" rx="13.91" ry="11.24" fill="#1414ff"/><ellipse cx="1078.58" cy="131.97" rx="8.03" ry="6.69" fill="#1818d0" opacity="0.9"/><ellipse cx="934.08" cy="186.82" rx="10.7" ry="9.37" fill="#1414ff"/><ellipse cx="971.55" cy="186.82" rx="10.7" ry="8.03" fill="#5018b0" opacity="0.7"/><ellipse cx="954.15" cy="218.94" rx="9.63" ry="9.63" fill="#1414ff"/><ellipse cx="999.64" cy="241.68" rx="10.17" ry="13.38" fill="#2a18d0" opacity="0.9"/><ellipse cx="1156.19" cy="180.14" rx="9.37" ry="10.7" fill="#4a18b0" opacity="0.7"/><ellipse cx="1128.09" cy="248.37" rx="8.03" ry="6.69" fill="#2018d8" opacity="0.9"/><ellipse cx="1129.43" cy="265.77" rx="9.37" ry="9.37" fill="#3018b0" opacity="0.7"/><ellipse cx="1027.74" cy="284.5" rx="8.03" ry="9.37" fill="#1414ff"/><ellipse cx="1059.85" cy="288.51" rx="13.38" ry="9.37" fill="#1a1ae0" opacity="0.95"/><ellipse cx="1137.46" cy="160.07" rx="12.04" ry="6.69" fill="#c01880" opacity="0.6" transform="rotate(20 1137.46 160.07)"/></g><g filter="url(#b2_4)"><ellipse cx="1037.91" cy="170.23" rx="9.63" ry="12.31" fill="#b4ff64" transform="rotate(-25 1037.91 170.23)"/><ellipse cx="1050.49" cy="185.49" rx="9.1" ry="9.63" fill="#a8f858" transform="rotate(-30 1050.49 185.49)"/></g><path d="M1043.8 121.26L1069.22 110.03L1061.46 121.26L1069.22 132.5Z" fill="#fff" /><path d="M1002.32 198.33L1032.56 199.67L1032.56 229.1L1023.73 218.94L1009.55 229.64L1002.32 222.95L1015.7 210.91Z" fill="#fff" /><rect x="917.5" y="281.7" width="60" height="22.5" fill="#fff" /><text x="948.5" y="299.8" font-size="19.5" font-weight="bold" text-anchor="middle" fill="#000" font-family="Liberation Sans, Arial, sans-serif" letter-spacing="0.5">DKO</text><rect x="1124" y="285.6" width="30.3" height="4" fill="#fff" /></g><g clip-path="url(#c7)"><rect x="1174" y="52.3" width="26" height="254.3" fill="#900" filter="url(#t8)"/><g filter="url(#b3)"><ellipse cx="1188.3" cy="61.06" rx="16.06" ry="10.7" fill="#1818ff"/><ellipse cx="1188.3" cy="283.16" rx="16.06" ry="12.04" fill="#3010a0" opacity="0.8"/><ellipse cx="1188.3" cy="133.31" rx="13.38" ry="8.03" fill="#801080" opacity="0.5"/><ellipse cx="1189.64" cy="171.3" rx="11.24" ry="8.03" fill="#b4ff64"/></g></g><g clip-path="url(#c9)"><rect x="917.3" y="309.3" width="254.5" height="24.3" fill="#900" filter="url(#t10)"/><g filter="url(#b3)"><ellipse cx="931.41" cy="323.3" rx="16.06" ry="10.7" fill="#3010b0" opacity="0.8"/><ellipse cx="976.9" cy="320.62" rx="18.73" ry="10.7" fill="#4010a0" opacity="0.6"/><ellipse cx="1156.19" cy="323.3" rx="13.38" ry="10.7" fill="#3010b0" opacity="0.7"/><ellipse cx="1035.77" cy="320.62" rx="9.63" ry="12.04" fill="#b4ff64"/></g></g><text x="970.5" y="45.3" font-size="22" font-weight="bold" text-anchor="start" fill="#d3202a" font-family="Liberation Sans, Arial, sans-serif" letter-spacing="0.4">cTnT</text><text x="1032" y="45.3" font-size="22" font-weight="bold" text-anchor="start" fill="#6db644" font-family="Liberation Sans, Arial, sans-serif" letter-spacing="0.4">pH3</text><text x="1081.5" y="45.3" font-size="22" font-weight="bold" text-anchor="start" fill="#3c72b8" font-family="Liberation Sans, Arial, sans-serif" letter-spacing="0.4">Nuclei</text><g clip-path="url(#c11)"><rect x="1518" y="52.5" width="257.8" height="256.9" fill="#900" filter="url(#t12)"/><g filter="url(#b10)"><ellipse cx="1622.39" cy="133.31" rx="32.11" ry="24.08" fill="#ff2828" opacity="0.5"/><ellipse cx="1732.1" cy="125.28" rx="24.08" ry="29.44" fill="#f01818" opacity="0.3"/><ellipse cx="1542.11" cy="173.45" rx="16.06" ry="24.08" fill="#f01818" opacity="0.3"/><ellipse cx="1729.43" cy="237.67" rx="26.76" ry="32.11" fill="#e81818" opacity="0.25"/></g><g filter="url(#b4)"><ellipse cx="1570.21" cy="97.18" rx="28.1" ry="18.73" fill="#000" opacity="0.95" transform="rotate(-40 1570.21 97.18)"/><ellipse cx="1598.31" cy="69.08" rx="8.03" ry="16.06" fill="#100" opacity="0.7" transform="rotate(20 1598.31 69.08)"/></g><g filter="url(#b3_5)" fill="none" stroke-linecap="round" stroke-linejoin="round"><path d="M1600.98 90.49C1607.23 93.17 1625.96 102.98 1638.45 106.55C1650.93 110.11 1669.66 111.01 1675.91 111.9" stroke="#200" stroke-width="5.89" opacity="0.7"/><path d="M1675.91 111.9C1677.02 115.91 1681.17 123.94 1682.6 135.98C1684.03 148.02 1683.27 168.09 1684.47 184.15C1685.68 200.2 1689.38 211.35 1689.82 232.32C1690.27 253.28 1687.59 296.98 1687.15 309.92" stroke="#000" stroke-width="9.1" opacity="0.9"/><path d="M1697.32 93.17C1704.01 91.38 1724.52 84.69 1737.46 82.46C1750.39 80.23 1768.67 80.23 1774.92 79.79" stroke="#300" stroke-width="3.75" opacity="0.5"/><path d="M1683.94 184.15C1691.52 184.6 1714.26 187.72 1729.43 186.82C1744.59 185.93 1767.34 180.14 1774.92 178.8" stroke="#300" stroke-width="3.75" opacity="0.55"/><path d="M1520.7 216.26C1521.6 223.4 1524.27 243.47 1526.06 259.08C1527.84 274.69 1530.52 301.44 1531.41 309.92" stroke="#000" stroke-width="10.7" opacity="0.8"/><path d="M1574.22 248.37C1584.48 249.04 1617.93 251.05 1635.77 252.39C1653.61 253.72 1673.68 255.73 1681.26 256.4" stroke="#300" stroke-width="3.75" opacity="0.5"/><path d="M1567.53 152.04C1567.98 160.07 1569.32 184.6 1570.21 200.2C1571.1 215.81 1572.44 238.11 1572.88 245.7" stroke="#400" stroke-width="4.28" opacity="0.45"/><path d="M1518.03 133.31C1522.04 133.75 1534.53 133.75 1542.11 135.98C1549.69 138.21 1559.95 144.9 1563.52 146.69" stroke="#400" stroke-width="3.75" opacity="0.4"/><path d="M1764.21 53.03C1764.44 54.81 1765.33 61.95 1765.55 63.73" stroke="#000" stroke-width="24.08" opacity="1"/></g><g filter="url(#b2_6)"><ellipse cx="1582.25" cy="98.52" rx="10.17" ry="24.08" fill="#2828ff" transform="rotate(-10 1582.25 98.52)"/><ellipse cx="1563.52" cy="135.98" rx="10.7" ry="8.56" fill="#1c1cf0"/><ellipse cx="1614.36" cy="81.13" rx="6.69" ry="5.35" fill="#2020d0" opacity="0.9"/><ellipse cx="1697.32" cy="94.5" rx="9.37" ry="6.69" fill="#6020d0" opacity="0.9"/><ellipse cx="1683.94" cy="122.6" rx="9.63" ry="13.38" fill="#1c1cf0"/><ellipse cx="1580.91" cy="184.15" rx="8.03" ry="16.06" fill="#4018c0" opacity="0.6"/><ellipse cx="1699.99" cy="192.18" rx="8.03" ry="8.03" fill="#1c1cf0"/><ellipse cx="1658.51" cy="213.58" rx="10.7" ry="6.69" fill="#3018c0" opacity="0.7"/><ellipse cx="1535.42" cy="224.29" rx="12.04" ry="8.03" fill="#1c1cf0"/><ellipse cx="1687.95" cy="237.67" rx="3.75" ry="18.73" fill="#1c1cf0"/><ellipse cx="1587.6" cy="260.41" rx="10.7" ry="6.69" fill="#1c1cf0"/><ellipse cx="1646.47" cy="277.81" rx="8.03" ry="9.37" fill="#1c1cf0"/><ellipse cx="1547.46" cy="256.4" rx="8.03" ry="8.03" fill="#4010a0" opacity="0.5"/><ellipse cx="1633.09" cy="252.39" rx="6.69" ry="5.35" fill="#4010a0" opacity="0.5"/></g><g filter="url(#b0_7)"><ellipse cx="1645.14" cy="180.67" rx="2.41" ry="2.14" fill="#ffe020"/><ellipse cx="1746.02" cy="154.18" rx="1.07" ry="1.07" fill="#ffc020"/></g><path d="M1603.12 182.81L1635.23 182.28L1635.23 214.12L1625.6 202.88L1611.15 215.73L1601.52 206.36L1615.7 193.78Z" fill="#fff" /><rect x="1518.3" y="285" width="63.5" height="24.2" fill="#fff" /><text x="1548.5" y="304.2" font-size="19.5" font-weight="bold" text-anchor="middle" fill="#000" font-family="Liberation Sans, Arial, sans-serif" letter-spacing="0.5">DKO</text><rect x="1720" y="284" width="41" height="3.8" fill="#fff" /></g><g clip-path="url(#c13)"><rect x="1779.7" y="52.5" width="20.3" height="256.9" fill="#900" filter="url(#t14)"/><g filter="url(#b2_5)"><ellipse cx="1789.64" cy="109.22" rx="13.38" ry="4.82" fill="#300000" opacity="0.7"/><ellipse cx="1789.64" cy="216.26" rx="13.38" ry="10.7" fill="#500010" opacity="0.5"/><ellipse cx="1789.64" cy="279.15" rx="9.63" ry="10.7" fill="#1c1cf0"/><ellipse cx="1788.3" cy="180.67" rx="5.89" ry="2.68" fill="#ffe020"/></g></g><rect x="1778.4" y="52.5" width="1.4" height="256.9" fill="#200" /><g clip-path="url(#c15)"><rect x="1518" y="313.4" width="257.8" height="20.6" fill="#900" filter="url(#t16)"/><g filter="url(#b2_5)"><ellipse cx="1694.64" cy="323.3" rx="10.7" ry="13.38" fill="#000" opacity="0.9"/><ellipse cx="1558.17" cy="323.3" rx="10.7" ry="13.38" fill="#400000" opacity="0.6"/><ellipse cx="1740.13" cy="323.3" rx="8.03" ry="13.38" fill="#400000" opacity="0.5"/><ellipse cx="1580.91" cy="323.3" rx="5.89" ry="9.37" fill="#2020e0"/><ellipse cx="1645.14" cy="323.3" rx="2.41" ry="6.42" fill="#ffe020"/></g></g><text x="1533.5" y="45.8" font-size="22" font-weight="bold" text-anchor="start" fill="#d3202a" font-family="Liberation Sans, Arial, sans-serif" letter-spacing="1.2">cTnT</text><text x="1599.5" y="45.8" font-size="22" font-weight="bold" text-anchor="start" fill="#6db644" font-family="Liberation Sans, Arial, sans-serif" letter-spacing="0.9">AuroraB</text><text x="1705" y="45.8" font-size="22" font-weight="bold" text-anchor="start" fill="#3c72b8" font-family="Liberation Sans, Arial, sans-serif" letter-spacing="1.0">Nuclei</text><rect x="630.2" y="405.2" width="79.6" height="146.6" fill="#000" /><rect x="712.1" y="405.2" width="79.8" height="146.6" fill="#000" /><rect x="794.1" y="404.3" width="80" height="146.4" fill="#000" /><g filter="url(#b1_1)"><ellipse cx="665.48" cy="515.63" rx="2.12" ry="2.06" fill="#e01818" opacity="0.5269653511908282"/><ellipse cx="667.78" cy="468.92" rx="1.28" ry="1.06" fill="#e01818" opacity="0.9995880575325358"/><ellipse cx="665.41" cy="498.72" rx="1.98" ry="2.74" fill="#e01818" opacity="0.9488388040542743"/><ellipse cx="671.56" cy="519.98" rx="2.08" ry="2.51" fill="#e01818" opacity="0.530401356479028"/><ellipse cx="673.65" cy="488" rx="2.78" ry="2.33" fill="#e01818" opacity="0.8395907665106825"/><ellipse cx="664.17" cy="522.84" rx="2.81" ry="3.71" fill="#e01818" opacity="0.5092586088351054"/><ellipse cx="671.6" cy="504.83" rx="2.1" ry="2.23" fill="#e01818" opacity="0.6016264180572823"/><ellipse cx="665.01" cy="462.44" rx="1.77" ry="1.57" fill="#e01818" opacity="0.8492559951591554"/><ellipse cx="674.08" cy="476.14" rx="1.62" ry="1.61" fill="#e01818" opacity="0.8999397630274767"/><ellipse cx="671.05" cy="482.62" rx="1.62" ry="1.31" fill="#e01818" opacity="0.9666119501127168"/><ellipse cx="663.78" cy="435.95" rx="1.86" ry="2.55" fill="#e01818" opacity="0.6997126307894033"/><ellipse cx="679.21" cy="530.19" rx="1.63" ry="2.03" fill="#e01818" opacity="0.8371948574433814"/><ellipse cx="675.46" cy="502.25" rx="1.6" ry="1.89" fill="#e01818" opacity="0.5535447480686433"/><ellipse cx="672.36" cy="503.14" rx="1.87" ry="2.4" fill="#e01818" opacity="0.5970127380035223"/><ellipse cx="671.61" cy="469.7" rx="1.88" ry="2.31" fill="#e01818" opacity="0.8062589020826559"/><ellipse cx="666.53" cy="530.7" rx="2.5" ry="3.21" fill="#e01818" opacity="0.5764325115728364"/><ellipse cx="666.08" cy="505.43" rx="1.92" ry="2.17" fill="#e01818" opacity="0.7397438758804311"/><ellipse cx="666.61" cy="532.64" rx="1.92" ry="1.54" fill="#e01818" opacity="0.7100922673465653"/><ellipse cx="677.67" cy="496.4" rx="2.86" ry="2.85" fill="#e01818" opacity="0.9944305128095097"/><ellipse cx="668.09" cy="447.24" rx="1.48" ry="1.54" fill="#e01818" opacity="0.5367366559036388"/><ellipse cx="669.52" cy="521.51" rx="1.45" ry="1.62" fill="#e01818" opacity="0.6290707484581533"/><ellipse cx="673.08" cy="480.93" rx="1.39" ry="1.83" fill="#e01818" opacity="0.639348159517156"/><ellipse cx="674.99" cy="475.98" rx="1.2" ry="1.1" fill="#e01818" opacity="0.6708375920591703"/><ellipse cx="672.47" cy="529.27" rx="2.06" ry="2.21" fill="#e01818" opacity="0.8334965219269403"/><ellipse cx="666.19" cy="521.59" rx="2.62" ry="2.73" fill="#e01818" opacity="0.7970269411938538"/><ellipse cx="671.53" cy="508.15" rx="2.44" ry="2.97" fill="#e01818" opacity="0.5028563449639591"/><ellipse cx="670.7" cy="430.77" rx="1.58" ry="1.46" fill="#e01818" opacity="0.5244827908764749"/><ellipse cx="672.86" cy="450.51" rx="2.79" ry="2.82" fill="#e01818" opacity="0.6832023994531911"/><ellipse cx="674.34" cy="472.61" rx="2.61" ry="3.56" fill="#e01818" opacity="0.6878500207398558"/><ellipse cx="680.83" cy="504.75" rx="2.68" ry="2.51" fill="#e01818" opacity="0.935506855920608"/><ellipse cx="662.14" cy="482.4" rx="2.16" ry="2.14" fill="#e01818" opacity="0.7471509496192266"/><ellipse cx="668.11" cy="432.03" rx="2.15" ry="2.34" fill="#e01818" opacity="0.9165686630915559"/><ellipse cx="674.38" cy="428.67" rx="2.08" ry="2.41" fill="#e01818" opacity="0.8647893120638623"/><ellipse cx="667.51" cy="484.58" rx="2.08" ry="2.43" fill="#e01818" opacity="0.6240636075264291"/><ellipse cx="666.32" cy="487.67" rx="1.54" ry="2.15" fill="#e01818" opacity="0.8732297396647786"/><ellipse cx="670.47" cy="532.29" rx="1.99" ry="1.91" fill="#e01818" opacity="0.5233458076859624"/><ellipse cx="678.09" cy="428.29" rx="2.75" ry="2.47" fill="#e01818" opacity="0.844811300094533"/><ellipse cx="671.89" cy="454.07" rx="1.54" ry="1.86" fill="#e01818" opacity="0.750828102391763"/><ellipse cx="676.15" cy="465.37" rx="3.29" ry="3.59" fill="#ff2020"/><ellipse cx="675.4" cy="475.85" rx="3.29" ry="3.29" fill="#ff2020"/><ellipse cx="669.41" cy="505.8" rx="3.89" ry="3.89" fill="#f01818"/><ellipse cx="669.41" cy="447.4" rx="3.29" ry="5.99" fill="#e81818" opacity="0.9"/></g><g filter="url(#b1_5)"><ellipse cx="672.4" cy="439.92" rx="3.59" ry="4.49" fill="#2020f0"/><ellipse cx="670.91" cy="469.86" rx="2.99" ry="4.49" fill="#2020f0"/><ellipse cx="666.41" cy="498.31" rx="3.59" ry="5.09" fill="#5a20e0"/><ellipse cx="670.16" cy="522.26" rx="5.09" ry="5.09" fill="#2020f0"/></g><g filter="url(#b0_9)"><ellipse cx="735.29" cy="442.91" rx="1.8" ry="2.1" fill="#e81818" opacity="0.95"/><ellipse cx="745.77" cy="441.41" rx="3.29" ry="1.5" fill="#e81818" transform="rotate(-30 745.77 441.41)"/><ellipse cx="754.75" cy="433.93" rx="2.1" ry="2.4" fill="#e81818" opacity="0.95"/><ellipse cx="734.54" cy="459.38" rx="1.35" ry="1.5" fill="#e81818" opacity="0.95"/><ellipse cx="753.25" cy="504.3" rx="2.1" ry="2.4" fill="#e81818" opacity="0.95"/><ellipse cx="746.52" cy="516.28" rx="2.4" ry="2.1" fill="#e81818" opacity="0.95"/><ellipse cx="736.78" cy="537.24" rx="2.7" ry="2.4" fill="#e81818" opacity="0.95"/><ellipse cx="744.27" cy="538.73" rx="2.7" ry="2.4" fill="#e81818" opacity="0.95"/><ellipse cx="751.76" cy="538.73" rx="2.7" ry="2.1" fill="#e81818" opacity="0.95"/><ellipse cx="739.78" cy="534.24" rx="1.5" ry="1.8" fill="#e81818" opacity="0.95"/><ellipse cx="747.26" cy="533.49" rx="1.5" ry="1.8" fill="#e81818" opacity="0.95"/><ellipse cx="759.24" cy="498.31" rx="1.5" ry="0.9" fill="#e81818" opacity="0.95"/><ellipse cx="750.26" cy="499.81" rx="1.2" ry="1.2" fill="#e81818" opacity="0.95"/><ellipse cx="736.78" cy="432.43" rx="1.5" ry="0.9" fill="#e81818" opacity="0.95"/><ellipse cx="748.76" cy="457.88" rx="2.99" ry="1.2" fill="#e81818" opacity="0.95"/><ellipse cx="760.74" cy="525.26" rx="0.9" ry="1.2" fill="#e81818" opacity="0.95"/><ellipse cx="723.31" cy="523.76" rx="0.9" ry="0.9" fill="#e81818" opacity="0.95"/><ellipse cx="739.78" cy="525.26" rx="1.2" ry="2.99" fill="#e81818" opacity="0.95"/></g><g filter="url(#b1_5)"><ellipse cx="752.5" cy="466.87" rx="4.19" ry="5.69" fill="#2020f0"/><ellipse cx="737.53" cy="514.78" rx="4.19" ry="9.88" fill="#2020f0"/></g><g filter="url(#b4)"><ellipse cx="826.62" cy="481.84" rx="13.48" ry="7.49" fill="#700808" opacity="0.5" transform="rotate(-25 826.62 481.84)"/></g><g filter="url(#b0_9)"><ellipse cx="846.83" cy="456.39" rx="1.8" ry="1.8" fill="#e01818"/><ellipse cx="849.08" cy="477.35" rx="1.5" ry="1.8" fill="#e01818"/><ellipse cx="835.6" cy="484.83" rx="2.1" ry="2.7" fill="#e01818"/><ellipse cx="807.9" cy="484.83" rx="1.8" ry="1.8" fill="#e01818"/><ellipse cx="841.59" cy="460.88" rx="0.9" ry="0.9" fill="#e01818"/><ellipse cx="853.57" cy="461.63" rx="0.9" ry="0.9" fill="#e01818"/><ellipse cx="858.06" cy="452.64" rx="0.9" ry="0.75" fill="#e01818"/><ellipse cx="804.16" cy="493.82" rx="0.9" ry="2.4" fill="#e01818"/><ellipse cx="805.66" cy="502.05" rx="0.75" ry="0.9" fill="#e01818"/></g><g filter="url(#b1_6)"><ellipse cx="838.6" cy="471.36" rx="4.79" ry="5.69" fill="#2424f4"/></g><rect x="695" y="542.8" width="10.4" height="2.4" fill="#fff" /><rect x="774.2" y="542.8" width="12" height="2.4" fill="#fff" /><rect x="856.3" y="542.8" width="11.9" height="2.4" fill="#fff" /><text x="704.3" y="423.6" font-size="20.5" font-weight="bold" text-anchor="end" fill="#fff" font-family="Liberation Sans, Arial, sans-serif" >Multi</text><text x="786.2" y="423.6" font-size="20.5" font-weight="bold" text-anchor="end" fill="#fff" font-family="Liberation Sans, Arial, sans-serif" >Bi</text><text x="866.6" y="423.3" font-size="20.5" font-weight="bold" text-anchor="end" fill="#fff" font-family="Liberation Sans, Arial, sans-serif" >Mono</text><g clip-path="url(#c17)"><g filter="url(#m18)"><rect x="1011.3" y="407.2" width="131.5" height="131.4" fill="#4a4a4a" /><ellipse cx="1076" cy="462" rx="34" ry="34" fill="#1c1c1c"/><ellipse cx="1030" cy="440" rx="20" ry="9" fill="#8a8a8a" transform="rotate(-30 1030 440)"/><ellipse cx="1040" cy="425" rx="30" ry="8" fill="#6a6a6a"/><path d="M1072 494L1106 494L1112 536L1078 536Z" fill="#c4c4c4" /><path d="M1052 490Q1086 512 1116 488" stroke="#e0e0e0" stroke-width="3.5" fill="none"/><ellipse cx="1036" cy="510" rx="16" ry="28" fill="#2c2c2c"/><ellipse cx="1126" cy="505" rx="12" ry="30" fill="#333"/></g><path d="M1081.6 412.2V533.6" stroke="#1a1a1a" stroke-width="0.7"/><path d="M1076 413.2H1087" stroke="#9a9a30" stroke-width="1.2"/></g><g clip-path="url(#c19)"><g filter="url(#m20)"><rect x="1011.3" y="535" width="131.5" height="131.6" fill="#808080" /><ellipse cx="1072" cy="598" rx="29" ry="30" fill="#2e2e2e"/><path d="M1016 570Q1075 532 1138 585" stroke="#f0f0f0" stroke-width="6" fill="none"/><path d="M1018 592L1050 580L1052 602" stroke="#fff" stroke-width="3.5" fill="none"/><path d="M1058 632Q1085 642 1110 624L1130 600" stroke="#e8e8e8" stroke-width="6" fill="none"/><rect x="1016.3" y="540" width="40" height="5" fill="#111" /><rect x="1109.8" y="540" width="30" height="8" fill="#111" /><ellipse cx="1108" cy="566" rx="22" ry="9" fill="#3a3a3a" transform="rotate(40 1108 566)"/><ellipse cx="1040" cy="650" rx="22" ry="12" fill="#505050"/><ellipse cx="1120" cy="640" rx="18" ry="22" fill="#b0b0b0"/></g><path d="M1076.3 540V661.6" stroke="#1a1a1a" stroke-width="0.7"/></g><g clip-path="url(#c21)"><g filter="url(#m22)"><rect x="1138.3" y="407.2" width="398.7" height="131.4" fill="#5a5a5a" /><rect x="1138.3" y="410.2" width="398.7" height="4.5" fill="#222" /><rect x="1138.3" y="415.2" width="398.7" height="5" fill="#a8a8a8" /><rect x="1138.3" y="421.2" width="398.7" height="14" fill="#6c6c6c" /><rect x="1138.3" y="452" width="398.7" height="42" fill="#3c3c3c" /><ellipse cx="1175.5" cy="471" rx="21" ry="30" fill="#1c1c1c"/><ellipse cx="1205.5" cy="453" rx="13" ry="4" fill="#d8d8d8" transform="rotate(8 1205.5 453)"/><ellipse cx="1208.5" cy="461" rx="11" ry="2.2" fill="#f4f4f4" transform="rotate(10 1208.5 461)"/><ellipse cx="1239.3" cy="471" rx="21" ry="30" fill="#1c1c1c"/><ellipse cx="1269.3" cy="453" rx="13" ry="4" fill="#d8d8d8" transform="rotate(8 1269.3 453)"/><ellipse cx="1272.3" cy="461" rx="11" ry="2.2" fill="#f4f4f4" transform="rotate(10 1272.3 461)"/><ellipse cx="1308.3" cy="471" rx="21" ry="30" fill="#1c1c1c"/><ellipse cx="1338.3" cy="453" rx="13" ry="4" fill="#d8d8d8" transform="rotate(8 1338.3 453)"/><ellipse cx="1341.3" cy="461" rx="11" ry="2.2" fill="#f4f4f4" transform="rotate(10 1341.3 461)"/><ellipse cx="1368.6" cy="471" rx="21" ry="30" fill="#1c1c1c"/><ellipse cx="1398.6" cy="453" rx="13" ry="4" fill="#d8d8d8" transform="rotate(8 1398.6 453)"/><ellipse cx="1401.6" cy="461" rx="11" ry="2.2" fill="#f4f4f4" transform="rotate(10 1401.6 461)"/><ellipse cx="1430.7" cy="471" rx="21" ry="30" fill="#1c1c1c"/><ellipse cx="1460.7" cy="453" rx="13" ry="4" fill="#d8d8d8" transform="rotate(8 1460.7 453)"/><ellipse cx="1463.7" cy="461" rx="11" ry="2.2" fill="#f4f4f4" transform="rotate(10 1463.7 461)"/><ellipse cx="1496.2" cy="471" rx="21" ry="30" fill="#1c1c1c"/><ellipse cx="1526.2" cy="453" rx="13" ry="4" fill="#d8d8d8" transform="rotate(8 1526.2 453)"/><ellipse cx="1529.2" cy="461" rx="11" ry="2.2" fill="#f4f4f4" transform="rotate(10 1529.2 461)"/><path d="M1138.3 491.42L1142.3 490.54L1146.3 490.8L1150.3 492.15L1154.3 494.38L1158.3 497.16L1162.3 500.06L1166.3 502.66L1170.3 504.55L1174.3 505.45L1178.3 505.22L1182.3 503.9L1186.3 501.69L1190.3 498.92L1194.3 496.01L1198.3 493.4L1202.3 491.49L1206.3 490.56L1210.3 490.76L1214.3 492.06L1218.3 494.25L1222.3 497.01L1226.3 499.92L1230.3 502.54L1234.3 504.48L1238.3 505.43L1242.3 505.26L1246.3 503.99L1250.3 501.81L1254.3 499.06L1258.3 496.15L1262.3 493.51L1266.3 491.56L1270.3 490.58L1274.3 490.72L1278.3 491.97L1282.3 494.12L1286.3 496.87L1290.3 499.78L1294.3 502.43L1298.3 504.4L1302.3 505.41L1306.3 505.29L1310.3 504.08L1314.3 501.94L1318.3 499.21L1322.3 496.29L1326.3 493.63L1330.3 491.64L1334.3 490.6L1338.3 490.69L1342.3 491.88L1346.3 494L1350.3 496.72L1354.3 499.64L1358.3 502.31L1362.3 504.32L1366.3 505.38L1370.3 505.33L1374.3 504.16L1378.3 502.06L1382.3 499.35L1386.3 496.43L1390.3 493.75L1394.3 491.72L1398.3 490.63L1402.3 490.66L1406.3 491.8L1410.3 493.88L1414.3 496.58L1418.3 499.49L1422.3 502.19L1426.3 504.24L1430.3 505.36L1434.3 505.36L1438.3 504.24L1442.3 502.19L1446.3 499.49L1450.3 496.58L1454.3 493.88L1458.3 491.8L1462.3 490.66L1466.3 490.63L1470.3 491.72L1474.3 493.75L1478.3 496.43L1482.3 499.35L1486.3 502.06L1490.3 504.16L1494.3 505.33L1498.3 505.38L1502.3 504.32L1506.3 502.31L1510.3 499.64L1514.3 496.72L1518.3 494L1522.3 491.88L1526.3 490.69L1530.3 490.6L1534.3 491.64" stroke="#9a9a9a" stroke-width="2" fill="none"/><path d="M1138.3 512.55L1142.3 512.03L1146.3 512.18L1150.3 512.99L1154.3 514.33L1158.3 515.99L1162.3 517.74L1166.3 519.3L1170.3 520.43L1174.3 520.97L1178.3 520.83L1182.3 520.04L1186.3 518.71L1190.3 517.05L1194.3 515.3L1198.3 513.74L1202.3 512.59L1206.3 512.04L1210.3 512.16L1214.3 512.93L1218.3 514.25L1222.3 515.91L1226.3 517.65L1230.3 519.23L1234.3 520.39L1238.3 520.96L1242.3 520.86L1246.3 520.09L1250.3 518.79L1254.3 517.14L1258.3 515.39L1262.3 513.81L1266.3 512.64L1270.3 512.05L1274.3 512.13L1278.3 512.88L1282.3 514.17L1286.3 515.82L1290.3 517.57L1294.3 519.16L1298.3 520.34L1302.3 520.94L1306.3 520.88L1310.3 520.15L1314.3 518.86L1318.3 517.22L1322.3 515.47L1326.3 513.88L1330.3 512.68L1334.3 512.06L1338.3 512.11L1342.3 512.83L1346.3 514.1L1350.3 515.73L1354.3 517.48L1358.3 519.08L1362.3 520.29L1366.3 520.93L1370.3 520.9L1374.3 520.2L1378.3 518.94L1382.3 517.31L1386.3 515.56L1390.3 513.95L1394.3 512.73L1398.3 512.08L1402.3 512.09L1406.3 512.78L1410.3 514.03L1414.3 515.65L1418.3 517.4L1422.3 519.01L1426.3 520.25L1430.3 520.91L1434.3 520.91L1438.3 520.25L1442.3 519.01L1446.3 517.4L1450.3 515.65L1454.3 514.03L1458.3 512.78L1462.3 512.09L1466.3 512.08L1470.3 512.73L1474.3 513.95L1478.3 515.56L1482.3 517.31L1486.3 518.94L1490.3 520.2L1494.3 520.9L1498.3 520.93L1502.3 520.29L1506.3 519.08L1510.3 517.48L1514.3 515.73L1518.3 514.1L1522.3 512.83L1526.3 512.11L1530.3 512.06L1534.3 512.68L1538 538.6L1137.3 538.6Z" fill="#e0e0e0"/><path d="M1138.3 514.05L1142.3 513.53L1146.3 513.68L1150.3 514.49L1154.3 515.83L1158.3 517.49L1162.3 519.24L1166.3 520.8L1170.3 521.93L1174.3 522.47L1178.3 522.33L1182.3 521.54L1186.3 520.21L1190.3 518.55L1194.3 516.8L1198.3 515.24L1202.3 514.09L1206.3 513.54L1210.3 513.66L1214.3 514.43L1218.3 515.75L1222.3 517.41L1226.3 519.15L1230.3 520.73L1234.3 521.89L1238.3 522.46L1242.3 522.36L1246.3 521.59L1250.3 520.29L1254.3 518.64L1258.3 516.89L1262.3 515.31L1266.3 514.14L1270.3 513.55L1274.3 513.63L1278.3 514.38L1282.3 515.67L1286.3 517.32L1290.3 519.07L1294.3 520.66L1298.3 521.84L1302.3 522.44L1306.3 522.38L1310.3 521.65L1314.3 520.36L1318.3 518.72L1322.3 516.97L1326.3 515.38L1330.3 514.18L1334.3 513.56L1338.3 513.61L1342.3 514.33L1346.3 515.6L1350.3 517.23L1354.3 518.98L1358.3 520.58L1362.3 521.79L1366.3 522.43L1370.3 522.4L1374.3 521.7L1378.3 520.44L1382.3 518.81L1386.3 517.06L1390.3 515.45L1394.3 514.23L1398.3 513.58L1402.3 513.59L1406.3 514.28L1410.3 515.53L1414.3 517.15L1418.3 518.9L1422.3 520.51L1426.3 521.75L1430.3 522.41L1434.3 522.41L1438.3 521.75L1442.3 520.51L1446.3 518.9L1450.3 517.15L1454.3 515.53L1458.3 514.28L1462.3 513.59L1466.3 513.58L1470.3 514.23L1474.3 515.45L1478.3 517.06L1482.3 518.81L1486.3 520.44L1490.3 521.7L1494.3 522.4L1498.3 522.43L1502.3 521.79L1506.3 520.58L1510.3 518.98L1514.3 517.23L1518.3 515.6L1522.3 514.33L1526.3 513.61L1530.3 513.56L1534.3 514.18" stroke="#fff" stroke-width="3" fill="none"/></g></g><g clip-path="url(#c23)"><g filter="url(#m24)"><rect x="1138.3" y="535" width="398.7" height="131.6" fill="#666" /><rect x="1138.3" y="540" width="398.7" height="6" fill="#8a8a8a" /><rect x="1138.3" y="546" width="398.7" height="4" fill="#c8c8c8" /><rect x="1138.3" y="550" width="398.7" height="8" fill="#f8f8f8" /><rect x="1138.3" y="558" width="398.7" height="4" fill="#b0b0b0" /><path d="M1138.3 590.58L1142.3 591L1146.3 590.65L1150.3 589.59L1154.3 587.94L1158.3 585.91L1162.3 583.77L1166.3 581.79L1170.3 580.21L1174.3 579.25L1178.3 579.02L1182.3 579.55L1186.3 580.78L1190.3 582.54L1194.3 584.62L1198.3 586.75L1202.3 588.66L1206.3 590.09L1210.3 590.88L1214.3 590.92L1218.3 590.21L1222.3 588.82L1226.3 586.96L1230.3 584.84L1234.3 582.74L1238.3 580.93L1242.3 579.64L1246.3 579.03L1250.3 579.19L1254.3 580.08L1258.3 581.61L1262.3 583.56L1266.3 585.7L1270.3 587.75L1274.3 589.45L1278.3 590.58L1282.3 591L1286.3 590.65L1290.3 589.59L1294.3 587.94L1298.3 585.91L1302.3 583.77L1306.3 581.79L1310.3 580.21L1314.3 579.25L1318.3 579.02L1322.3 579.55L1326.3 580.78L1330.3 582.54L1334.3 584.62L1338.3 586.75L1342.3 588.66L1346.3 590.09L1350.3 590.88L1354.3 590.92L1358.3 590.21L1362.3 588.82L1366.3 586.96L1370.3 584.84L1374.3 582.74L1378.3 580.93L1382.3 579.64L1386.3 579.03L1390.3 579.19L1394.3 580.08L1398.3 581.61L1402.3 583.56L1406.3 585.7L1410.3 587.75L1414.3 589.45L1418.3 590.58L1422.3 591L1426.3 590.65L1430.3 589.59L1434.3 587.94L1438.3 585.91L1442.3 583.77L1446.3 581.79L1450.3 580.21L1454.3 579.25L1458.3 579.02L1462.3 579.55L1466.3 580.78L1470.3 582.54L1474.3 584.62L1478.3 586.75L1482.3 588.66L1486.3 590.09L1490.3 590.88L1494.3 590.92L1498.3 590.21L1502.3 588.82L1506.3 586.96L1510.3 584.84L1514.3 582.74L1518.3 580.93L1522.3 579.64L1526.3 579.03L1530.3 579.19L1534.3 580.08L1534.3 628.91L1530.3 628.86L1526.3 627.94L1522.3 626.27L1518.3 624.04L1514.3 621.56L1510.3 619.13L1506.3 617.07L1502.3 615.64L1498.3 615.02L1494.3 615.29L1490.3 616.41L1486.3 618.25L1482.3 620.57L1478.3 623.06L1474.3 625.43L1470.3 627.35L1466.3 628.6L1462.3 629L1458.3 628.51L1454.3 627.19L1450.3 625.21L1446.3 622.81L1442.3 620.32L1438.3 618.04L1434.3 616.26L1430.3 615.22L1426.3 615.04L1422.3 615.75L1418.3 617.25L1414.3 619.36L1410.3 621.81L1406.3 624.28L1402.3 626.46L1398.3 628.07L1394.3 628.91L1390.3 628.86L1386.3 627.94L1382.3 626.27L1378.3 624.04L1374.3 621.56L1370.3 619.13L1366.3 617.07L1362.3 615.64L1358.3 615.02L1354.3 615.29L1350.3 616.41L1346.3 618.25L1342.3 620.57L1338.3 623.06L1334.3 625.43L1330.3 627.35L1326.3 628.6L1322.3 629L1318.3 628.51L1314.3 627.19L1310.3 625.21L1306.3 622.81L1302.3 620.32L1298.3 618.04L1294.3 616.26L1290.3 615.22L1286.3 615.04L1282.3 615.75L1278.3 617.25L1274.3 619.36L1270.3 621.81L1266.3 624.28L1262.3 626.46L1258.3 628.07L1254.3 628.91L1250.3 628.86L1246.3 627.94L1242.3 626.27L1238.3 624.04L1234.3 621.56L1230.3 619.13L1226.3 617.07L1222.3 615.64L1218.3 615.02L1214.3 615.29L1210.3 616.41L1206.3 618.25L1202.3 620.57L1198.3 623.06L1194.3 625.43L1190.3 627.35L1186.3 628.6L1182.3 629L1178.3 628.51L1174.3 627.19L1170.3 625.21L1166.3 622.81L1162.3 620.32L1158.3 618.04L1154.3 616.26L1150.3 615.22L1146.3 615.04L1142.3 615.75L1138.3 617.25Z" fill="#343434"/><path d="M1138.3 582.51L1142.3 583L1146.3 582.6L1150.3 581.35L1154.3 579.43L1158.3 577.06L1162.3 574.57L1166.3 572.25L1170.3 570.41L1174.3 569.29L1178.3 569.02L1182.3 569.64L1186.3 571.07L1190.3 573.13L1194.3 575.56L1198.3 578.04L1202.3 580.27L1206.3 581.94L1210.3 582.86L1214.3 582.91L1218.3 582.07L1222.3 580.46L1226.3 578.28L1230.3 575.81L1234.3 573.36L1238.3 571.25L1242.3 569.75L1246.3 569.04L1250.3 569.22L1254.3 570.26L1258.3 572.04L1262.3 574.32L1266.3 576.81L1270.3 579.21L1274.3 581.19L1278.3 582.51L1282.3 583L1286.3 582.6L1290.3 581.35L1294.3 579.43L1298.3 577.06L1302.3 574.57L1306.3 572.25L1310.3 570.41L1314.3 569.29L1318.3 569.02L1322.3 569.64L1326.3 571.07L1330.3 573.13L1334.3 575.56L1338.3 578.04L1342.3 580.27L1346.3 581.94L1350.3 582.86L1354.3 582.91L1358.3 582.07L1362.3 580.46L1366.3 578.28L1370.3 575.81L1374.3 573.36L1378.3 571.25L1382.3 569.75L1386.3 569.04L1390.3 569.22L1394.3 570.26L1398.3 572.04L1402.3 574.32L1406.3 576.81L1410.3 579.21L1414.3 581.19L1418.3 582.51L1422.3 583L1426.3 582.6L1430.3 581.35L1434.3 579.43L1438.3 577.06L1442.3 574.57L1446.3 572.25L1450.3 570.41L1454.3 569.29L1458.3 569.02L1462.3 569.64L1466.3 571.07L1470.3 573.13L1474.3 575.56L1478.3 578.04L1482.3 580.27L1486.3 581.94L1490.3 582.86L1494.3 582.91L1498.3 582.07L1502.3 580.46L1506.3 578.28L1510.3 575.81L1514.3 573.36L1518.3 571.25L1522.3 569.75L1526.3 569.04L1530.3 569.22L1534.3 570.26" stroke="#c0c0c0" stroke-width="1.6" fill="none"/><path d="M1138.3 644.61L1142.3 643.53L1146.3 643.03L1150.3 643.16L1154.3 643.9L1158.3 645.17L1162.3 646.8L1166.3 648.58L1170.3 650.29L1174.3 651.71L1178.3 652.65L1182.3 653L1186.3 652.71L1190.3 651.82L1194.3 650.45L1198.3 648.76L1202.3 646.98L1206.3 645.32L1210.3 644.01L1214.3 643.2L1218.3 643.01L1222.3 643.46L1226.3 644.48L1230.3 645.95L1234.3 647.69L1238.3 649.46L1242.3 651.05L1246.3 652.25L1250.3 652.9L1254.3 652.93L1258.3 652.34L1262.3 651.19L1266.3 649.63L1270.3 647.87L1274.3 646.12L1278.3 644.61L1282.3 643.53L1286.3 643.03L1290.3 643.16L1294.3 643.9L1298.3 645.17L1302.3 646.8L1306.3 648.58L1310.3 650.29L1314.3 651.71L1318.3 652.65L1322.3 653L1326.3 652.71L1330.3 651.82L1334.3 650.45L1338.3 648.76L1342.3 646.98L1346.3 645.32L1350.3 644.01L1354.3 643.2L1358.3 643.01L1362.3 643.46L1366.3 644.48L1370.3 645.95L1374.3 647.69L1378.3 649.46L1382.3 651.05L1386.3 652.25L1390.3 652.9L1394.3 652.93L1398.3 652.34L1402.3 651.19L1406.3 649.63L1410.3 647.87L1414.3 646.12L1418.3 644.61L1422.3 643.53L1426.3 643.03L1430.3 643.16L1434.3 643.9L1438.3 645.17L1442.3 646.8L1446.3 648.58L1450.3 650.29L1454.3 651.71L1458.3 652.65L1462.3 653L1466.3 652.71L1470.3 651.82L1474.3 650.45L1478.3 648.76L1482.3 646.98L1486.3 645.32L1490.3 644.01L1494.3 643.2L1498.3 643.01L1502.3 643.46L1506.3 644.48L1510.3 645.95L1514.3 647.69L1518.3 649.46L1522.3 651.05L1526.3 652.25L1530.3 652.9L1534.3 652.93L1538 666.6L1137.3 666.6Z" fill="#dcdcdc"/><path d="M1138.3 646.11L1142.3 645.03L1146.3 644.53L1150.3 644.66L1154.3 645.4L1158.3 646.67L1162.3 648.3L1166.3 650.08L1170.3 651.79L1174.3 653.21L1178.3 654.15L1182.3 654.5L1186.3 654.21L1190.3 653.32L1194.3 651.95L1198.3 650.26L1202.3 648.48L1206.3 646.82L1210.3 645.51L1214.3 644.7L1218.3 644.51L1222.3 644.96L1226.3 645.98L1230.3 647.45L1234.3 649.19L1238.3 650.96L1242.3 652.55L1246.3 653.75L1250.3 654.4L1254.3 654.43L1258.3 653.84L1262.3 652.69L1266.3 651.13L1270.3 649.37L1274.3 647.62L1278.3 646.11L1282.3 645.03L1286.3 644.53L1290.3 644.66L1294.3 645.4L1298.3 646.67L1302.3 648.3L1306.3 650.08L1310.3 651.79L1314.3 653.21L1318.3 654.15L1322.3 654.5L1326.3 654.21L1330.3 653.32L1334.3 651.95L1338.3 650.26L1342.3 648.48L1346.3 646.82L1350.3 645.51L1354.3 644.7L1358.3 644.51L1362.3 644.96L1366.3 645.98L1370.3 647.45L1374.3 649.19L1378.3 650.96L1382.3 652.55L1386.3 653.75L1390.3 654.4L1394.3 654.43L1398.3 653.84L1402.3 652.69L1406.3 651.13L1410.3 649.37L1414.3 647.62L1418.3 646.11L1422.3 645.03L1426.3 644.53L1430.3 644.66L1434.3 645.4L1438.3 646.67L1442.3 648.3L1446.3 650.08L1450.3 651.79L1454.3 653.21L1458.3 654.15L1462.3 654.5L1466.3 654.21L1470.3 653.32L1474.3 651.95L1478.3 650.26L1482.3 648.48L1486.3 646.82L1490.3 645.51L1494.3 644.7L1498.3 644.51L1502.3 644.96L1506.3 645.98L1510.3 647.45L1514.3 649.19L1518.3 650.96L1522.3 652.55L1526.3 653.75L1530.3 654.4L1534.3 654.43" stroke="#fff" stroke-width="2.5" fill="none"/></g></g><text x="1037" y="405" font-size="21.5" font-weight="bold" text-anchor="start" fill="#000" font-family="Liberation Sans, Arial, sans-serif" letter-spacing="0.9">B-mode</text><text x="1308.3" y="405" font-size="21.5" font-weight="bold" text-anchor="start" fill="#000" font-family="Liberation Sans, Arial, sans-serif" letter-spacing="0.9">M-mode</text><g clip-path="url(#c25)"><rect x="29.5" y="769.3" width="164.5" height="165.2" fill="#800"/><g transform="rotate(-55 111.75 851.9)"><rect x="-12.15" y="728" width="247.8" height="247.8" fill="#900" filter="url(#t26)"/></g><g filter="url(#b4)"><ellipse cx="40.36" cy="787.94" rx="15.52" ry="21.73" fill="#000" opacity="0.8" transform="rotate(30 40.36 787.94)"/><ellipse cx="31.05" cy="853.14" rx="6.21" ry="37.26" fill="#000" opacity="0.5" transform="rotate(10 31.05 853.14)"/><ellipse cx="161.44" cy="797.26" rx="12.42" ry="24.84" fill="#200000" opacity="0.6" transform="rotate(30 161.44 797.26)"/><ellipse cx="145.92" cy="862.45" rx="7.76" ry="37.26" fill="#200000" opacity="0.6" transform="rotate(30 145.92 862.45)"/><ellipse cx="62.09" cy="927.65" rx="15.52" ry="7.76" fill="#000" opacity="0.7"/><ellipse cx="77.62" cy="815.88" rx="7.76" ry="24.84" fill="#200000" opacity="0.5" transform="rotate(40 77.62 815.88)"/><ellipse cx="186.28" cy="884.19" rx="9.31" ry="24.84" fill="#200000" opacity="0.5" transform="rotate(20 186.28 884.19)"/></g><g filter="url(#b2)"><ellipse cx="102.45" cy="815.88" rx="8.69" ry="8.69" fill="#1c28ee"/><ellipse cx="93.14" cy="803.46" rx="3.73" ry="6.21" fill="#1c28ee"/><ellipse cx="114.87" cy="809.67" rx="4.35" ry="4.35" fill="#1c28ee"/><ellipse cx="46.57" cy="792.6" rx="7.45" ry="7.45" fill="#2020c0" opacity="0.9"/><ellipse cx="49.67" cy="864" rx="4.35" ry="4.35" fill="#3020d0"/><ellipse cx="130.39" cy="898.16" rx="4.04" ry="5.59" fill="#2020c0"/><ellipse cx="82.27" cy="877.98" rx="5.59" ry="4.04" fill="#3018b0" opacity="0.7"/><ellipse cx="175.41" cy="859.35" rx="2.79" ry="6.21" fill="#3018b0" opacity="0.8"/><ellipse cx="54.33" cy="910.57" rx="4.35" ry="4.35" fill="#3018b0" opacity="0.6"/><ellipse cx="127.29" cy="836.06" rx="4.97" ry="3.73" fill="#3018c0" opacity="0.7"/></g><g filter="url(#b1)"><ellipse cx="138.16" cy="842.27" rx="3.73" ry="11.8" fill="#7fe8d8" transform="rotate(22 138.16 842.27)"/></g><path d="M125.12 848.79L104 841.34L108.66 846.93L98.11 847.55L107.11 852.52L103.07 861.83Z" fill="#fff" /><rect x="170" y="924" width="18" height="3.7" fill="#fff" /></g><g clip-path="url(#c27)"><rect x="29.5" y="938.5" width="164.5" height="164" fill="#800"/><g transform="rotate(40 111.75 1020.5)"><rect x="-11.62" y="897.12" width="246.75" height="246.75" fill="#900" filter="url(#t28)"/></g><g filter="url(#b3)"><ellipse cx="130.39" cy="983.53" rx="62.09" ry="4.35" fill="#000" opacity="0.6" transform="rotate(38 130.39 983.53)"/><ellipse cx="93.14" cy="1008.37" rx="68.3" ry="3.73" fill="#000" opacity="0.5" transform="rotate(38 93.14 1008.37)"/><ellipse cx="161.44" cy="1033.21" rx="49.67" ry="3.73" fill="#000" opacity="0.5" transform="rotate(38 161.44 1033.21)"/><ellipse cx="49.67" cy="971.11" rx="37.26" ry="3.1" fill="#000" opacity="0.5" transform="rotate(38 49.67 971.11)"/><ellipse cx="173.86" cy="958.7" rx="31.05" ry="3.1" fill="#000" opacity="0.6" transform="rotate(38 173.86 958.7)"/><ellipse cx="130.39" cy="1070.46" rx="49.67" ry="3.1" fill="#000" opacity="0.5" transform="rotate(38 130.39 1070.46)"/><ellipse cx="46.57" cy="1039.42" rx="18.63" ry="12.42" fill="#100" opacity="0.5"/></g><g filter="url(#b1_8)"><ellipse cx="173.86" cy="989.74" rx="9.31" ry="3.73" fill="#2030d0" transform="rotate(38 173.86 989.74)"/><ellipse cx="155.23" cy="971.11" rx="7.76" ry="3.1" fill="#2030d0" opacity="0.9" transform="rotate(38 155.23 971.11)"/><ellipse cx="133.5" cy="983.53" rx="6.21" ry="2.79" fill="#4020c0" opacity="0.8" transform="rotate(38 133.5 983.53)"/><ellipse cx="105.56" cy="1002.16" rx="6.83" ry="3.1" fill="#5020c0" opacity="0.8" transform="rotate(38 105.56 1002.16)"/><ellipse cx="96.24" cy="952.49" rx="6.21" ry="2.79" fill="#5020c0" opacity="0.7" transform="rotate(38 96.24 952.49)"/><ellipse cx="145.92" cy="1023.89" rx="6.83" ry="3.1" fill="#4020c0" opacity="0.8" transform="rotate(38 145.92 1023.89)"/><ellipse cx="167.65" cy="1033.21" rx="6.83" ry="3.1" fill="#3020c0" opacity="0.9" transform="rotate(38 167.65 1033.21)"/><ellipse cx="77.62" cy="1039.42" rx="8.07" ry="3.1" fill="#3020c0" opacity="0.9" transform="rotate(38 77.62 1039.42)"/><ellipse cx="117.98" cy="1051.83" rx="6.83" ry="3.1" fill="#3020c0" opacity="0.9" transform="rotate(38 117.98 1051.83)"/><ellipse cx="49.67" cy="946.28" rx="5.59" ry="2.48" fill="#4020c0" opacity="0.7" transform="rotate(38 49.67 946.28)"/><ellipse cx="40.36" cy="971.11" rx="5.59" ry="2.48" fill="#3020c0" opacity="0.7" transform="rotate(38 40.36 971.11)"/><ellipse cx="183.17" cy="1070.46" rx="6.21" ry="3.1" fill="#2020c0" opacity="0.9" transform="rotate(38 183.17 1070.46)"/><ellipse cx="139.71" cy="1095.3" rx="8.07" ry="3.1" fill="#2020c0" opacity="0.9" transform="rotate(38 139.71 1095.3)"/><ellipse cx="102.45" cy="1089.09" rx="5.59" ry="2.48" fill="#4020c0" opacity="0.7" transform="rotate(38 102.45 1089.09)"/><ellipse cx="170.75" cy="1089.09" rx="5.59" ry="2.48" fill="#6020b0" opacity="0.7" transform="rotate(38 170.75 1089.09)"/></g><g filter="url(#b1)"><ellipse cx="49.67" cy="1052.77" rx="4.35" ry="2.79" fill="#c8f0ff" transform="rotate(30 49.67 1052.77)"/></g><path d="M86.93 1047.8L98.73 1024.82L101.21 1037.86L112.39 1043.14Z" fill="#fff" /><rect x="31" y="1076.6" width="60" height="22" fill="#fff" /><text x="62" y="1095" font-size="19.5" font-weight="bold" text-anchor="middle" fill="#000" font-family="Liberation Sans, Arial, sans-serif" letter-spacing="0.5">DKO</text><rect x="178.5" y="1093" width="13.5" height="3.7" fill="#fff" /></g><text transform="translate(18.3 1012) rotate(-90)" font-size="22" font-weight="bold" text-anchor="start" fill="#d3202a" font-family="Liberation Sans, Arial, sans-serif" letter-spacing="0.4">cTnT</text><text transform="translate(18.3 954.5) rotate(-90)" font-size="22" font-weight="bold" text-anchor="start" fill="#6db644" font-family="Liberation Sans, Arial, sans-serif" letter-spacing="0.4">pH3</text><text transform="translate(18.3 902) rotate(-90)" font-size="22" font-weight="bold" text-anchor="start" fill="#3c72b8" font-family="Liberation Sans, Arial, sans-serif" letter-spacing="0.4">Nuclei</text><g clip-path="url(#c29)"><rect x="531.4" y="876.1" width="223.4" height="224.2" fill="#900" filter="url(#t30)"/><g filter="url(#b10)"><ellipse cx="691.1" cy="982.59" rx="19.01" ry="16.63" fill="#ff2424" opacity="0.4"/><ellipse cx="579.41" cy="916.05" rx="21.39" ry="16.63" fill="#f01818" opacity="0.3"/><ellipse cx="653.08" cy="1053.88" rx="23.76" ry="19.01" fill="#f01818" opacity="0.25"/></g><g filter="url(#b3)" fill="none" stroke-linecap="round" stroke-linejoin="round"><path d="M534.26 944.56C534.65 951.69 536.63 970.7 536.63 987.34C536.63 1003.97 534.65 1034.87 534.26 1044.37" stroke="#000" stroke-width="16.63" opacity="0.9"/><path d="M751.7 875.65C751.7 913.27 751.7 1063.78 751.7 1101.41" stroke="#000" stroke-width="9.51" opacity="0.85"/><path d="M548.52 878.02C549.11 881.98 552.08 895.05 552.08 901.79C552.08 908.52 549.11 915.65 548.52 918.42" stroke="#100" stroke-width="5.23" opacity="0.5"/><path d="M553.27 963.57C559.61 961.59 580.2 953.28 591.29 951.69C602.38 950.11 611.89 950.5 619.81 954.07C627.73 957.63 636.84 964.37 638.82 973.08C640.8 981.79 634.86 997.24 631.69 1006.35C628.52 1015.46 625.35 1015.86 619.81 1027.74C614.26 1039.62 601.99 1069.33 598.42 1077.64" stroke="#400" stroke-width="3.33" opacity="0.5"/><path d="M638.82 973.08C643.57 971.5 661.79 969.91 667.34 963.57C672.88 957.24 672.88 943.77 672.09 935.06C671.3 926.34 665.75 919.21 662.59 911.29C659.42 903.37 654.66 891.49 653.08 887.53" stroke="#500" stroke-width="2.85" opacity="0.4"/><path d="M631.69 1006.35C636.84 1007.14 651.1 1012.69 662.59 1011.1C674.07 1009.52 688.73 998.43 700.61 996.84C712.49 995.26 728.33 1000.8 733.88 1001.6" stroke="#500" stroke-width="2.85" opacity="0.4"/><path d="M705.36 878.02C706.15 884.76 705.36 904.96 710.11 918.42C714.87 931.89 727.54 949.71 733.88 958.82C740.22 967.93 745.76 970.7 748.14 973.08" stroke="#500" stroke-width="2.85" opacity="0.4"/><path d="M548.52 1053.88C553.67 1051.11 567.53 1041.6 579.41 1037.24C591.29 1032.89 613.08 1029.32 619.81 1027.74" stroke="#500" stroke-width="2.85" opacity="0.4"/><path d="M745.76 1091.9C746.95 1093.49 751.7 1099.82 752.89 1101.41" stroke="#000" stroke-width="14.26" opacity="0.8"/></g><g filter="url(#b2_6)"><ellipse cx="599.61" cy="897.03" rx="5.7" ry="5.7" fill="#2a2ae8"/><ellipse cx="559.21" cy="902.98" rx="6.65" ry="9.51" fill="#3018c0" opacity="0.7"/><ellipse cx="599.61" cy="938.62" rx="9.03" ry="9.98" fill="#1c1cf0"/><ellipse cx="655.46" cy="923.17" rx="8.32" ry="7.13" fill="#3a18c0" opacity="0.6"/><ellipse cx="713.68" cy="924.36" rx="9.03" ry="11.41" fill="#5020c0" opacity="0.6"/><ellipse cx="569.9" cy="982.59" rx="7.13" ry="7.13" fill="#1c1cf0"/><ellipse cx="539.01" cy="984.96" rx="9.51" ry="16.63" fill="#1c1cf0"/><ellipse cx="537.82" cy="1030.11" rx="8.08" ry="14.26" fill="#1c1cf0"/><ellipse cx="605.55" cy="956.44" rx="7.13" ry="5.23" fill="#2020e0"/><ellipse cx="607.93" cy="987.34" rx="9.51" ry="4.28" fill="#6018b0" opacity="0.7"/><ellipse cx="683.97" cy="1003.97" rx="7.13" ry="7.13" fill="#1c1cf0"/><ellipse cx="738.63" cy="980.21" rx="9.51" ry="8.08" fill="#1c1cf0"/><ellipse cx="702.98" cy="1040.81" rx="5.94" ry="8.32" fill="#2828e0" opacity="0.9"/><ellipse cx="748.14" cy="1034.87" rx="7.13" ry="9.51" fill="#1c1cf0"/><ellipse cx="611.49" cy="1046.75" rx="5.7" ry="5.7" fill="#1c1cf0"/><ellipse cx="638.82" cy="1062.2" rx="9.03" ry="9.03" fill="#1c1cf0"/><ellipse cx="741.01" cy="1056.25" rx="4.75" ry="7.13" fill="#1c1cf0"/><ellipse cx="559.21" cy="1056.25" rx="4.75" ry="7.13" fill="#6018a0" opacity="0.5"/><ellipse cx="541.39" cy="1070.51" rx="3.8" ry="3.8" fill="#1c1cf0"/></g><g filter="url(#b0_8)"><ellipse cx="629.32" cy="985.44" rx="3.33" ry="1.9" fill="#ffd820" transform="rotate(-30 629.32 985.44)"/></g><path d="M625.75 977.83L603.65 951.69L614.58 948.13L613.16 941L617.91 939.81L619.81 944.56L628.37 941.71L629.32 958.82Z" fill="#fff" /><rect x="531.9" y="1077" width="59" height="22.3" fill="#fff" /><text x="562.7" y="1095.6" font-size="19.5" font-weight="bold" text-anchor="middle" fill="#000" font-family="Liberation Sans, Arial, sans-serif" letter-spacing="0.5">DKO</text><rect x="719.1" y="1087" width="26.8" height="3.8" fill="#fff" /></g><text x="527.6" y="867.3" font-size="22" font-weight="bold" text-anchor="start" fill="#d3202a" font-family="Liberation Sans, Arial, sans-serif" letter-spacing="0.4">cTnT</text><text x="588.4" y="867.3" font-size="22" font-weight="bold" text-anchor="start" fill="#6db644" font-family="Liberation Sans, Arial, sans-serif" letter-spacing="0.4">AuroraB</text><text x="687.5" y="867.3" font-size="22" font-weight="bold" text-anchor="start" fill="#3c72b8" font-family="Liberation Sans, Arial, sans-serif" letter-spacing="0.2">Nuclei</text><g clip-path="url(#c31)"><rect x="1105.3" y="767.6" width="163.6" height="163.7" fill="#b82a10"/><g transform="translate(1105.3 767.6)"><g filter="url(#b1_6)"><path d="M10.7 -14.5L-0.7 -16.3L-5.0 2.1L5.8 4.5L15.1 -2.9L13.1 -13.5ZM-5.0 2.1L-5.7 2.4L-9.0 19.5L-1.7 25.8L-0.4 25.6L7.5 14.1L5.8 4.5ZM27.4 8.3L27.2 8.2L16.6 16.4L18.5 26.1L28.4 31.2L31.4 28.4L28.8 10.5ZM93.2 43.7L94.1 33.9L80.7 29.0L75.0 31.3L73.6 35.9L80.5 43.6ZM43.7 44.9L50.0 44.8L55.7 57.7L38.7 60.7L34.9 49.0ZM-5.8 67.2L-9.2 58.8L0.4 53.2L11.8 55.4L13.9 59.5L11.1 69.5ZM29.2 68.3L21.3 60.2L13.9 59.5L11.1 69.5L14.6 76.1ZM36.1 69.0L38.7 60.7L55.7 57.7L56.2 58.0L56.9 70.3L46.4 74.8L37.4 71.5ZM-8.1 90.8L1.3 81.8L-5.8 67.4L-14.3 79.7L-12.9 84.1ZM14.2 79.6L10.7 81.8L1.3 81.8L-5.8 67.4L-5.8 67.2L11.1 69.5L14.6 76.1ZM65.0 79.8L65.8 76.0L56.9 70.3L46.4 74.8L50.5 87.1L61.0 86.8ZM56.6 132.2L50.2 138.1L40.3 126.6L41.0 114.2L47.9 111.1L57.4 120.3L58.2 126.3ZM30.1 129.4L30.2 139.2L24.4 143.0L23.2 142.6L12.8 128.0L26.5 124.9ZM35.6 158.8L25.7 154.7L24.4 143.0L30.2 139.2L45.3 142.2L38.6 156.9ZM54.9 159.8L54.5 146.8L72.1 151.0L70.5 155.9Z" fill="#e8400e"/><path d="M44.5 0.7L40.9 -12.9L38.2 -14.6L23.5 1.5L27.2 8.2L27.4 8.3ZM104.3 -8.8L86.9 -13.9L83.6 -11.1L83.4 -10.5L82.5 -0.7L84.8 1.6L99.8 0.1ZM15.1 -2.9L23.5 1.5L27.2 8.2L16.6 16.4L7.5 14.1L5.8 4.5ZM36.1 69.0L38.7 60.7L34.9 49.0L31.7 47.2L21.3 60.2L29.2 68.3ZM65.0 79.8L65.8 76.0L70.2 73.6L83.2 77.0L86.9 86.1L77.2 89.7ZM7.4 95.3L10.7 81.8L14.2 79.6L24.7 88.2L24.8 94.4L19.4 98.3ZM68.3 100.0L70.9 103.8L60.0 118.5L57.4 120.3L47.9 111.1L49.2 105.2L65.9 98.9ZM85.5 166.1L79.0 170.0L71.1 164.9L70.5 155.9L72.1 151.0L74.7 148.8L87.0 163.7Z" fill="#c83010"/><path d="M44.5 0.7L40.9 -12.9L59.3 -16.2L59.9 -15.1L61.8 -2.9L59.0 1.3L47.7 3.4ZM84.8 1.6L82.5 -0.7L80.3 0.0L68.9 13.9L69.9 15.6L87.5 15.0L88.3 14.0ZM43.7 44.9L42.1 27.1L31.4 28.4L28.4 31.2L26.6 41.5L31.7 47.2L34.9 49.0ZM1.6 45.2L-6.9 34.6L-7.6 35.0L-16.1 45.3L-14.8 56.3L-9.2 58.8L0.4 53.2ZM36.1 69.0L29.2 68.3L14.6 76.1L14.2 79.6L24.7 88.2L33.3 82.1L37.4 71.5ZM37.4 71.5L46.4 74.8L50.5 87.1L45.4 93.1L33.3 82.1ZM-1.6 100.7L-7.7 98.5L-8.1 90.8L1.3 81.8L10.7 81.8L7.4 95.3ZM61.0 86.8L50.5 87.1L45.4 93.1L44.8 96.3L49.2 105.2L65.9 98.9ZM-1.9 128.9L2.4 132.4L11.4 127.5L11.6 113.0L4.0 109.2L-5.7 121.8ZM2.4 132.4L11.4 127.5L12.8 128.0L23.2 142.6L4.9 147.4L1.4 143.9L0.8 142.5ZM30.1 129.4L30.2 139.2L45.3 142.2L49.4 140.1L50.2 138.1L40.3 126.6ZM74.7 148.8L72.1 151.0L54.5 146.8L49.4 140.1L50.2 138.1L56.6 132.2L74.9 140.6L76.1 146.4ZM15.9 161.8L8.6 159.5L-1.1 167.6L-1.3 170.6L7.0 181.9L17.6 166.4Z" fill="#f04a12"/><path d="M106.1 -9.9L110.6 -9.2L114.9 4.5L109.9 8.5L106.0 8.4L99.8 0.1L104.3 -8.8ZM114.3 21.8L125.3 26.5L131.7 20.3L125.8 10.0L114.3 19.9ZM140.1 34.9L134.9 39.1L145.0 53.5L155.6 42.5L150.3 35.0ZM121.8 66.8L115.0 55.7L122.6 43.1L132.1 56.6ZM97.7 57.1L113.6 73.9L100.7 78.1L91.9 61.5L92.0 61.2ZM121.8 66.8L121.5 69.4L131.9 74.1L143.5 65.8L144.3 58.7L143.7 57.4L132.1 56.6ZM157.2 62.0L165.2 59.7L170.8 64.7L173.4 70.7L163.0 77.3L157.3 70.8ZM143.5 65.8L131.9 74.1L133.9 80.1L143.1 85.2L148.2 83.8L146.9 71.9ZM183.2 80.5L183.3 75.4L182.9 74.7L173.4 70.7L163.0 77.3L157.2 87.6L157.4 88.1L171.1 91.9ZM105.9 101.5L107.5 92.6L116.9 86.2L123.7 90.3L125.9 94.3L116.5 103.6ZM133.9 80.1L123.7 90.3L125.9 94.3L132.9 98.8L135.4 98.0L143.1 85.2ZM122.7 113.7L116.5 103.6L125.9 94.3L132.9 98.8L131.1 108.1ZM144.8 119.6L150.4 115.8L151.9 104.8L135.4 98.0L132.9 98.8L131.1 108.1ZM126.2 127.7L117.3 134.8L107.5 131.8L111.2 118.2L120.9 117.9ZM144.8 119.6L131.1 108.1L122.7 113.7L120.9 117.9L126.2 127.7L130.8 129.2L143.0 123.3ZM98.6 161.3L106.6 150.6L109.1 150.8L115.3 165.2L112.9 170.4L108.0 173.5L101.9 167.6Z" fill="#c02a10"/><path d="M110.6 -9.2L119.1 -13.9L128.6 -5.2L127.6 1.6L124.8 4.7L114.9 4.5ZM142.2 -13.6L128.6 -5.2L127.6 1.6L137.0 4.9L147.9 -6.0L144.6 -12.7ZM150.7 10.3L160.7 21.8L165.1 22.3L172.4 14.1L167.2 1.5L165.8 0.4L155.2 1.5ZM88.3 14.0L87.5 15.0L80.7 29.0L94.1 33.9L103.0 28.7L97.4 16.9ZM150.7 10.3L143.8 14.1L141.5 17.9L151.2 28.3L160.7 21.8ZM103.9 29.0L103.0 28.7L94.1 33.9L93.2 43.7L98.5 54.7L110.7 38.6ZM136.7 20.3L131.7 20.3L125.3 26.5L125.0 39.0L134.9 39.1L140.1 34.9ZM115.0 55.7L98.5 55.6L98.5 54.7L110.7 38.6L122.5 41.6L122.6 43.1ZM157.2 62.0L144.3 58.7L143.5 65.8L146.9 71.9L157.3 70.8ZM86.9 86.1L83.2 77.0L91.9 61.5L100.7 78.1L97.1 84.5L87.5 86.6ZM157.3 70.8L163.0 77.3L157.2 87.6L148.2 83.8L146.9 71.9ZM122.7 113.7L116.5 103.6L105.9 101.5L101.2 106.5L101.7 111.8L111.2 118.2L120.9 117.9ZM144.8 119.6L150.4 115.8L153.5 117.1L165.8 131.9L165.5 132.6L150.4 137.3L143.0 123.3ZM126.2 127.7L117.3 134.8L117.7 143.3L133.5 141.2L130.8 129.2ZM58.4 172.6L71.1 164.9L70.5 155.9L54.9 159.8L53.4 162.9L54.5 168.7Z" fill="#7a1a0c"/><path d="M44.5 0.7L27.4 8.3L28.8 10.5L46.7 15.8L47.7 3.4ZM28.8 10.5L31.4 28.4L42.1 27.1L49.7 23.5L46.7 15.8ZM69.9 15.6L87.5 15.0L80.7 29.0L75.0 31.3L73.3 29.3ZM-0.4 25.6L6.7 29.8L10.2 39.0L1.6 45.2L-6.9 34.6L-1.7 25.8ZM51.0 23.3L50.1 23.6L55.4 39.0L67.2 41.3L73.6 35.9L75.0 31.3L73.3 29.3ZM18.5 43.6L11.8 55.4L0.4 53.2L1.6 45.2L10.2 39.0ZM-14.7 117.6L-9.2 99.3L-7.7 98.5L-1.6 100.7L4.0 109.2L-5.7 121.8ZM-1.6 100.7L4.0 109.2L11.6 113.0L15.6 110.9L19.4 98.3L7.4 95.3ZM29.4 114.6L26.5 124.9L30.1 129.4L40.3 126.6L41.0 114.2L32.0 113.0ZM4.9 147.4L8.6 159.5L-1.1 167.6L-13.1 159.9L1.4 143.9ZM24.4 143.0L23.2 142.6L4.9 147.4L8.6 159.5L15.9 161.8L25.7 154.7ZM92.5 160.7L88.4 146.7L76.1 146.4L74.7 148.8L87.0 163.7ZM98.6 161.3L106.6 150.6L98.1 140.0L88.4 146.7L92.5 160.7ZM35.5 172.3L27.3 176.6L17.6 166.4L15.9 161.8L25.7 154.7L35.6 158.8Z" fill="#d8380c"/><path d="M47.7 3.4L59.0 1.3L63.2 12.4L51.0 23.3L50.1 23.6L49.7 23.5L46.7 15.8ZM69.9 15.6L73.3 29.3L51.0 23.3L63.2 12.4L68.9 13.9ZM114.3 21.8L103.9 29.0L110.7 38.6L122.5 41.6L125.0 39.0L125.3 26.5ZM80.5 43.6L73.6 35.9L67.2 41.3L66.5 54.2L72.9 58.7L81.5 57.2ZM65.8 76.0L70.2 73.6L72.9 58.7L66.5 54.2L56.2 58.0L56.9 70.3ZM92.0 61.2L91.9 61.5L83.2 77.0L70.2 73.6L72.9 58.7L81.5 57.2ZM113.6 73.9L100.7 78.1L97.1 84.5L107.5 92.6L116.9 86.2L115.5 74.4ZM87.5 86.6L97.1 84.5L107.5 92.6L105.9 101.5L101.2 106.5L89.2 101.0ZM89.2 101.0L101.2 106.5L101.7 111.8L96.8 117.8L79.6 117.2L78.2 107.9ZM96.0 132.5L98.4 135.4L107.5 131.8L111.2 118.2L101.7 111.8L96.8 117.8ZM53.4 162.9L38.6 156.9L45.3 142.2L49.4 140.1L54.5 146.8L54.9 159.8ZM98.6 161.3L92.5 160.7L87.0 163.7L85.5 166.1L91.7 174.0L101.9 167.6Z" fill="#b02a10"/><path d="M80.3 0.0L68.9 13.9L63.2 12.4L59.0 1.3L61.8 -2.9ZM-0.4 25.6L6.7 29.8L18.5 26.1L16.6 16.4L7.5 14.1ZM26.6 41.5L18.5 43.6L10.2 39.0L6.7 29.8L18.5 26.1L28.4 31.2ZM43.7 44.9L50.0 44.8L55.4 39.0L50.1 23.6L49.7 23.5L42.1 27.1ZM31.7 47.2L21.3 60.2L13.9 59.5L11.8 55.4L18.5 43.6L26.6 41.5ZM55.7 57.7L50.0 44.8L55.4 39.0L67.2 41.3L66.5 54.2L56.2 58.0ZM134.9 39.1L125.0 39.0L122.5 41.6L122.6 43.1L132.1 56.6L143.7 57.4L145.0 53.5ZM115.5 74.4L116.9 86.2L123.7 90.3L133.9 80.1L131.9 74.1L121.5 69.4ZM33.3 82.1L45.4 93.1L44.8 96.3L29.5 98.1L24.8 94.4L24.7 88.2ZM65.0 79.8L77.2 89.7L68.3 100.0L65.9 98.9L61.0 86.8ZM29.4 114.6L15.6 110.9L19.4 98.3L24.8 94.4L29.5 98.1L32.0 113.0ZM32.0 113.0L29.5 98.1L44.8 96.3L49.2 105.2L47.9 111.1L41.0 114.2ZM29.4 114.6L15.6 110.9L11.6 113.0L11.4 127.5L12.8 128.0L26.5 124.9ZM78.6 125.4L58.2 126.3L57.4 120.3L60.0 118.5L79.6 117.2ZM80.2 129.3L96.0 132.5L96.8 117.8L79.6 117.2L79.6 117.2L78.6 125.4ZM80.2 129.3L74.9 140.6L56.6 132.2L58.2 126.3L78.6 125.4ZM76.1 146.4L74.9 140.6L80.2 129.3L96.0 132.5L98.4 135.4L98.1 140.0L88.4 146.7ZM54.5 168.7L37.7 173.2L35.5 172.3L35.6 158.8L38.6 156.9L53.4 162.9Z" fill="#e03a0e"/><path d="M99.8 0.1L84.8 1.6L88.3 14.0L97.4 16.9L106.0 8.4ZM109.9 8.5L114.3 19.9L125.8 10.0L124.8 4.7L114.9 4.5ZM160.7 21.8L151.2 28.3L150.3 35.0L155.6 42.5L165.0 43.1L170.3 40.0L165.1 22.3ZM155.6 42.5L165.0 43.1L165.2 59.7L157.2 62.0L144.3 58.7L143.7 57.4L145.0 53.5ZM77.2 89.7L86.9 86.1L87.5 86.6L89.2 101.0L78.2 107.9L70.9 103.8L68.3 100.0ZM143.1 85.2L135.4 98.0L151.9 104.8L154.6 101.8L157.4 88.1L157.2 87.6L148.2 83.8ZM165.8 131.9L153.5 117.1L169.9 114.1L172.5 117.7L172.9 127.4ZM143.0 123.3L150.4 137.3L150.2 137.9L135.0 143.7L133.5 141.2L130.8 129.2ZM132.8 157.9L134.7 157.0L135.0 143.7L133.5 141.2L117.7 143.3L116.0 148.1L131.2 157.7ZM147.6 157.6L153.3 150.3L169.6 149.4L169.9 149.6L167.0 166.5L164.8 166.5Z" fill="#b0240e"/><path d="M141.5 17.9L143.8 14.1L137.0 4.9L127.6 1.6L124.8 4.7L125.8 10.0L131.7 20.3L136.7 20.3ZM150.7 10.3L143.8 14.1L137.0 4.9L147.9 -6.0L155.2 1.5ZM106.0 8.4L97.4 16.9L103.0 28.7L103.9 29.0L114.3 21.8L114.3 19.9L109.9 8.5ZM141.5 17.9L151.2 28.3L150.3 35.0L140.1 34.9L136.7 20.3ZM98.5 55.6L97.7 57.1L92.0 61.2L81.5 57.2L80.5 43.6L93.2 43.7L98.5 54.7ZM121.8 66.8L121.5 69.4L115.5 74.4L113.6 73.9L97.7 57.1L98.5 55.6L115.0 55.7ZM171.1 91.9L157.4 88.1L154.6 101.8L170.3 106.5L175.2 101.6ZM70.9 103.8L60.0 118.5L79.6 117.2L79.6 117.2L78.2 107.9ZM169.9 114.1L170.3 106.5L154.6 101.8L151.9 104.8L150.4 115.8L153.5 117.1ZM106.6 150.6L109.1 150.8L116.0 148.1L117.7 143.3L117.3 134.8L107.5 131.8L98.4 135.4L98.1 140.0ZM165.5 132.6L169.6 149.4L153.3 150.3L150.2 137.9L150.4 137.3ZM115.3 165.2L131.2 157.7L116.0 148.1L109.1 150.8ZM134.7 157.0L135.0 143.7L150.2 137.9L153.3 150.3L147.6 157.6L143.9 159.3ZM125.1 174.7L112.9 170.4L115.3 165.2L131.2 157.7L132.8 157.9L131.3 164.7ZM138.1 179.2L147.4 174.2L143.9 159.3L134.7 157.0L132.8 157.9L131.3 164.7ZM147.4 174.2L143.9 159.3L147.6 157.6L164.8 166.5L150.3 176.0Z" fill="#96200e"/></g><g filter="url(#b1_5)"><ellipse cx="86" cy="28" rx="4" ry="9" fill="#0a3a14" transform="rotate(35 86 28)"/></g><g filter="url(#b1_5)"><ellipse cx="56" cy="105" rx="5" ry="17" fill="#0a3a14" transform="rotate(10 56 105)"/></g><g filter="url(#b0_6)"><path d="M150.2 137.9L153.3 150.3M150.2 137.9L150.4 137.3M153.3 150.3L169.6 149.4M169.6 149.4L165.5 132.6M150.4 137.3L165.5 132.6M11.8 55.4L18.5 43.6M11.8 55.4L0.4 53.2M0.4 53.2L1.6 45.2M1.6 45.2L10.2 39M10.2 39L18.5 43.6M-9.2 58.8L0.4 53.2M-6.9 34.6L1.6 45.2M13.9 59.5L11.8 55.4M13.9 59.5L11.1 69.5M11.1 69.5L-5.8 67.2M-5.8 67.4L1.3 81.8M1.3 81.8L-8.1 90.8M153.3 150.3L147.6 157.6M164.8 166.5L147.6 157.6M153.5 117.1L165.8 131.9M153.5 117.1L169.9 114.1M154.6 101.8L170.3 106.5M154.6 101.8L151.9 104.8M151.9 104.8L150.4 115.8M150.4 115.8L153.5 117.1M165.5 132.6L165.8 131.9M123.7 90.3L125.9 94.3M123.7 90.3L116.9 86.2M125.9 94.3L116.5 103.6M107.5 92.6L116.9 86.2M107.5 92.6L105.9 101.5M116.5 103.6L105.9 101.5M55.4 39L50 44.8M55.4 39L67.2 41.3M50 44.8L55.7 57.7M67.2 41.3L66.5 54.2M66.5 54.2L56.2 58M56.2 58L55.7 57.7M-1.1 167.6L8.6 159.5M8.6 159.5L15.9 161.8M17.6 166.4L15.9 161.8M-13.1 159.9L-1.1 167.6M-13.1 159.9L1.4 143.9M8.6 159.5L4.9 147.4M1.4 143.9L4.9 147.4M72.9 58.7L66.5 54.2M72.9 58.7L70.2 73.6M56.2 58L56.9 70.3M70.2 73.6L65.8 76M56.9 70.3L65.8 76M150.2 137.9L135 143.7M147.6 157.6L143.9 159.3M135 143.7L134.7 157M143.9 159.3L134.7 157M131.1 108.1L144.8 119.6M131.1 108.1L122.7 113.7M120.9 117.9L122.7 113.7M120.9 117.9L126.2 127.7M130.8 129.2L126.2 127.7M130.8 129.2L143 123.3M143 123.3L144.8 119.6M135.4 98L132.9 98.8M135.4 98L151.9 104.8M132.9 98.8L131.1 108.1M150.4 115.8L144.8 119.6M125.9 94.3L132.9 98.8M116.5 103.6L122.7 113.7M105.9 101.5L101.2 106.5M101.2 106.5L101.7 111.8M111.2 118.2L101.7 111.8M111.2 118.2L120.9 117.9M111.2 118.2L107.5 131.8M117.3 134.8L107.5 131.8M117.3 134.8L126.2 127.7M133.5 141.2L117.7 143.3M133.5 141.2L130.8 129.2M117.3 134.8L117.7 143.3M150.4 137.3L143 123.3M133.5 141.2L135 143.7M154.6 101.8L157.4 88.1M135.4 98L143.1 85.2M157.2 87.6L157.4 88.1M157.2 87.6L148.2 83.8M148.2 83.8L143.1 85.2M123.7 90.3L133.9 80.1M143.1 85.2L133.9 80.1M116.9 86.2L115.5 74.4M133.9 80.1L131.9 74.1M131.9 74.1L121.5 69.4M121.5 69.4L115.5 74.4M107.5 92.6L97.1 84.5M97.1 84.5L100.7 78.1M100.7 78.1L113.6 73.9M115.5 74.4L113.6 73.9M144.3 58.7L157.2 62M144.3 58.7L143.5 65.8M146.9 71.9L143.5 65.8M146.9 71.9L157.3 70.8M157.3 70.8L157.2 62M148.2 83.8L146.9 71.9M131.9 74.1L143.5 65.8M157.2 87.6L163 77.3M163 77.3L157.3 70.8M165.2 59.7L157.2 62M165.2 59.7L170.8 64.7M163 77.3L173.4 70.7M157.4 88.1L171.1 91.9M18.5 26.1L6.7 29.8M18.5 26.1L16.6 16.4M16.6 16.4L7.5 14.1M6.7 29.8L-0.4 25.6M7.5 14.1L-0.4 25.6M-6.9 34.6L-1.7 25.8M-9 19.5L-1.7 25.8M10.2 39L6.7 29.8M-1.7 25.8L-0.4 25.6M31.4 28.4L42.1 27.1M31.4 28.4L28.4 31.2M42.1 27.1L43.7 44.9M28.4 31.2L26.6 41.5M26.6 41.5L31.7 47.2M31.7 47.2L34.9 49M34.9 49L43.7 44.9M55.4 39L50.1 23.6M50 44.8L43.7 44.9M50.1 23.6L49.7 23.5M49.7 23.5L42.1 27.1M18.5 43.6L26.6 41.5M18.5 26.1L28.4 31.2M13.9 59.5L21.3 60.2M21.3 60.2L31.7 47.2M38.7 60.7L55.7 57.7M38.7 60.7L34.9 49M73.3 29.3L69.9 15.6M73.3 29.3L51 23.3M51 23.3L63.2 12.4M63.2 12.4L68.9 13.9M68.9 13.9L69.9 15.6M75 31.3L80.7 29M75 31.3L73.3 29.3M87.5 15L80.7 29M87.5 15L69.9 15.6M75 31.3L73.6 35.9M50.1 23.6L51 23.3M73.6 35.9L67.2 41.3M83.4 -10.5L82.5 -0.7M61.8 -2.9L80.3 0M80.3 0L82.5 -0.7M59 1.3L63.2 12.4M59 1.3L61.8 -2.9M68.9 13.9L80.3 0M81.5 57.2L80.5 43.6M81.5 57.2L92 61.2M80.5 43.6L93.2 43.7M93.2 43.7L98.5 54.7M92 61.2L97.7 57.1M97.7 57.1L98.5 55.6M98.5 54.7L98.5 55.6M73.6 35.9L80.5 43.6M72.9 58.7L81.5 57.2M91.9 61.5L83.2 77M91.9 61.5L92 61.2M70.2 73.6L83.2 77M94.1 33.9L80.7 29M94.1 33.9L93.2 43.7M91.9 61.5L100.7 78.1M113.6 73.9L97.7 57.1M94.1 33.9L103 28.7M103 28.7L103.9 29M98.5 54.7L110.7 38.6M110.7 38.6L103.9 29M87.5 15L88.3 14M103 28.7L97.4 16.9M97.4 16.9L88.3 14M82.5 -0.7L84.8 1.6M88.3 14L84.8 1.6M23.2 142.6L4.9 147.4M23.2 142.6L12.8 128M12.8 128L11.4 127.5M1.4 143.9L0.8 142.5M11.4 127.5L2.4 132.4M0.8 142.5L2.4 132.4M0.8 142.5L-18.9 142.3M24.7 88.2L33.3 82.1M24.7 88.2L14.2 79.6M14.6 76.1L14.2 79.6M14.6 76.1L29.2 68.3M33.3 82.1L37.4 71.5M29.2 68.3L36.1 69M37.4 71.5L36.1 69M44.8 96.3L45.4 93.1M44.8 96.3L29.5 98.1M45.4 93.1L33.3 82.1M29.5 98.1L24.8 94.4M24.8 94.4L24.7 88.2M11.1 69.5L14.6 76.1M10.7 81.8L14.2 79.6M10.7 81.8L1.3 81.8M21.3 60.2L29.2 68.3M45.4 93.1L50.5 87.1M50.5 87.1L46.4 74.8M46.4 74.8L37.4 71.5M38.7 60.7L36.1 69M56.9 70.3L46.4 74.8M19.4 98.3L15.6 110.9M19.4 98.3L7.4 95.3M4 109.2L-1.6 100.7M4 109.2L11.6 113M11.6 113L15.6 110.9M7.4 95.3L-1.6 100.7M10.7 81.8L7.4 95.3M24.8 94.4L19.4 98.3M-7.7 98.5L-1.6 100.7M15.9 161.8L25.7 154.7M23.2 142.6L24.4 143M25.7 154.7L24.4 143M40.3 126.6L30.1 129.4M40.3 126.6L41 114.2M41 114.2L32 113M26.5 124.9L29.4 114.6M26.5 124.9L30.1 129.4M32 113L29.4 114.6M49.4 140.1L50.2 138.1M49.4 140.1L45.3 142.2M50.2 138.1L40.3 126.6M45.3 142.2L30.2 139.2M30.2 139.2L30.1 129.4M44.8 96.3L49.2 105.2M29.5 98.1L32 113M47.9 111.1L49.2 105.2M47.9 111.1L41 114.2M12.8 128L26.5 124.9M11.4 127.5L11.6 113M15.6 110.9L29.4 114.6M24.4 143L30.2 139.2M50.2 138.1L56.6 132.2M57.4 120.3L47.9 111.1M57.4 120.3L58.2 126.3M58.2 126.3L56.6 132.2M134.7 157L132.8 157.9M117.7 143.3L116 148.1M116 148.1L131.2 157.7M131.2 157.7L132.8 157.9M143.9 159.3L147.4 174.2M96.8 117.8L96 132.5M96.8 117.8L79.6 117.2M96 132.5L80.2 129.3M79.6 117.2L79.6 117.2M79.6 117.2L78.6 125.4M78.6 125.4L80.2 129.3M101.7 111.8L96.8 117.8M107.5 131.8L98.4 135.4M98.4 135.4L96 132.5M57.4 120.3L60 118.5M58.2 126.3L78.6 125.4M60 118.5L79.6 117.2M56.6 132.2L74.9 140.6M74.9 140.6L80.2 129.3M116 148.1L109.1 150.8M131.2 157.7L115.3 165.2M109.1 150.8L115.3 165.2M122.6 43.1L115 55.7M122.6 43.1L132.1 56.6M115 55.7L121.8 66.8M132.1 56.6L121.8 66.8M98.5 55.6L115 55.7M122.5 41.6L110.7 38.6M122.5 41.6L122.6 43.1M121.5 69.4L121.8 66.8M143.7 57.4L144.3 58.7M143.7 57.4L132.1 56.6M165.2 59.7L165 43.1M165 43.1L170.3 40M143.7 57.4L145 53.5M165 43.1L155.6 42.5M145 53.5L155.6 42.5M122.5 41.6L125 39M125 39L134.9 39.1M145 53.5L134.9 39.1M46.7 15.8L47.7 3.4M46.7 15.8L28.8 10.5M28.8 10.5L27.4 8.3M27.4 8.3L44.5 0.7M47.7 3.4L44.5 0.7M49.7 23.5L46.7 15.8M59 1.3L47.7 3.4M31.4 28.4L28.8 10.5M16.6 16.4L27.2 8.2M27.2 8.2L27.4 8.3M38.2 -14.6L23.5 1.5M40.9 -12.9L44.5 0.7M23.5 1.5L27.2 8.2M7.5 14.1L5.8 4.5M5.8 4.5L-5 2.1M23.5 1.5L15.1 -2.9M5.8 4.5L15.1 -2.9M-5 2.1L-0.7 -16.3M125.8 10L131.7 20.3M125.8 10L114.3 19.9M131.7 20.3L125.3 26.5M125.3 26.5L114.3 21.8M114.3 19.9L114.3 21.8M125 39L125.3 26.5M103.9 29L114.3 21.8M128.6 -5.2L127.6 1.6M127.6 1.6L137 4.9M137 4.9L147.9 -6M114.9 4.5L110.6 -9.2M114.9 4.5L109.9 8.5M109.9 8.5L106 8.4M106 8.4L99.8 0.1M99.8 0.1L104.3 -8.8M124.8 4.7L127.6 1.6M124.8 4.7L114.9 4.5M124.8 4.7L125.8 10M114.3 19.9L109.9 8.5M97.4 16.9L106 8.4M84.8 1.6L99.8 0.1M-5.7 121.8L-1.9 128.9M-1.9 128.9L-18.5 133.3M4 109.2L-5.7 121.8M2.4 132.4L-1.9 128.9M60 118.5L70.9 103.8M79.6 117.2L78.2 107.9M78.2 107.9L70.9 103.8M101.2 106.5L89.2 101M78.2 107.9L89.2 101M97.1 84.5L87.5 86.6M89.2 101L87.5 86.6M83.2 77L86.9 86.1M87.5 86.6L86.9 86.1M98.4 135.4L98.1 140M109.1 150.8L106.6 150.6M98.1 140L106.6 150.6M45.3 142.2L38.6 156.9M25.7 154.7L35.6 158.8M38.6 156.9L35.6 158.8M35.6 158.8L35.5 172.3M150.3 35L140.1 34.9M150.3 35L151.2 28.3M151.2 28.3L141.5 17.9M140.1 34.9L136.7 20.3M136.7 20.3L141.5 17.9M155.6 42.5L150.3 35M134.9 39.1L140.1 34.9M131.7 20.3L136.7 20.3M143.8 14.1L141.5 17.9M143.8 14.1L137 4.9M165.1 22.3L172.4 14.1M165.1 22.3L160.7 21.8M160.7 21.8L150.7 10.3M165.8 0.4L155.2 1.5M155.2 1.5L150.7 10.3M170.3 40L165.1 22.3M151.2 28.3L160.7 21.8M143.8 14.1L150.7 10.3M147.9 -6L155.2 1.5M65.9 98.9L68.3 100M65.9 98.9L61 86.8M68.3 100L77.2 89.7M77.2 89.7L65 79.8M61 86.8L65 79.8M49.2 105.2L65.9 98.9M70.9 103.8L68.3 100M50.5 87.1L61 86.8M86.9 86.1L77.2 89.7M65.8 76L65 79.8M132.8 157.9L131.3 164.7M115.3 165.2L112.9 170.4M131.3 164.7L125.1 174.7M131.3 164.7L138.1 179.2M74.9 140.6L76.1 146.4M98.1 140L88.4 146.7M88.4 146.7L76.1 146.4M49.4 140.1L54.5 146.8M54.5 146.8L72.1 151M72.1 151L74.7 148.8M76.1 146.4L74.7 148.8M70.5 155.9L71.1 164.9M70.5 155.9L54.9 159.8M71.1 164.9L58.4 172.6M54.9 159.8L53.4 162.9M53.4 162.9L54.5 168.7M54.5 146.8L54.9 159.8M72.1 151L70.5 155.9M38.6 156.9L53.4 162.9M71.1 164.9L79 170M87 163.7L92.5 160.7M87 163.7L85.5 166.1M92.5 160.7L98.6 161.3M101.9 167.6L98.6 161.3M88.4 146.7L92.5 160.7M74.7 148.8L87 163.7M106.6 150.6L98.6 161.3" stroke="#c4d232" stroke-width="1.5" fill="none" stroke-linecap="round"/></g><path d="M1.4 143.9h0M115.5 74.4h0M18.5 43.6h0M54.9 159.8h0M68.3 100.0h0M51.0 23.3h0M63.2 12.4h0M30.2 139.2h0M24.7 88.2h0M40.3 126.6h0M28.4 31.2h0M109.9 8.5h0M30.1 129.4h0M67.2 41.3h0M80.5 43.6h0M107.5 92.6h0M97.4 16.9h0M114.3 19.9h0M136.7 20.3h0M78.2 107.9h0M97.1 84.5h0M92.0 61.2h0M150.4 137.3h0" stroke="#8fd6e8" stroke-width="3" stroke-linecap="round"/><path d="M59.0 1.3h0M157.2 87.6h0M98.4 135.4h0M29.4 114.6h0M44.5 0.7h0M117.7 143.3h0M113.6 73.9h0M88.3 14.0h0M29.2 68.3h0M72.1 151.0h0M49.4 140.1h0M47.7 3.4h0M132.1 56.6h0M148.2 83.8h0M1.3 81.8h0M131.9 74.1h0M132.9 98.8h0M80.2 129.3h0M8.6 159.5h0M135.4 98.0h0M89.2 101.0h0M120.9 117.9h0M11.6 113.0h0M91.9 61.5h0M45.4 93.1h0M45.3 142.2h0M114.9 4.5h0M143.0 123.3h0M60.0 118.5h0M122.6 43.1h0M54.5 146.8h0M53.4 162.9h0" stroke="#6a5ae0" stroke-width="3.4" stroke-linecap="round"/></g></g><rect x="1107.8" y="903.6" width="63.6" height="22.4" fill="#fff" /><text x="1139.6" y="922.3" font-size="19.5" font-weight="bold" text-anchor="middle" fill="#000" font-family="Liberation Sans, Arial, sans-serif" letter-spacing="0.5">CTRL</text><rect x="1222" y="917.3" width="39" height="4.2" fill="#fff" /><g clip-path="url(#c32)"><rect x="1105.3" y="935" width="163.6" height="163.2" fill="#b82a10"/><g transform="translate(1105.3 935)"><g filter="url(#b1_6)"><path d="M2.1 -2.3L0.8 -7.5L-5.7 -10.8L-11.2 -7.8L-11.5 -5.3L-5.8 4.0ZM2.1 -2.3L0.8 -7.5L8.0 -11.1L12.7 -1.9L12.2 -1.4L8.9 0.3ZM17.4 -1.7L24.6 -8.5L19.1 -14.9L13.0 -2.0ZM36.9 -11.2L44.1 -6.7L44.7 -1.0L30.4 -0.4L30.1 -7.3L32.9 -9.9ZM44.1 -6.7L51.9 -12.3L57.4 -9.1L56.0 -1.7L45.4 0.7L45.3 0.6L44.7 -1.0ZM73.7 -8.4L72.1 -9.7L67.1 -8.2L64.7 2.7L68.9 4.4L76.9 -1.3ZM155.6 -6.7L155.6 -6.8L147.6 -12.9L140.5 -7.4L140.4 -6.9L143.7 -1.7L147.1 0.9ZM2.1 -2.3L-5.8 4.0L-5.7 5.5L-0.1 9.9L5.0 8.9L8.9 0.3ZM44.7 -1.0L45.3 0.6L34.7 9.2L28.4 6.3L30.4 -0.4ZM83.0 3.0L82.9 7.8L77.4 11.6L72.5 11.5L68.9 4.4L76.9 -1.3ZM92.8 -0.7L94.6 7.4L101.0 9.9L102.1 8.2L102.4 0.1L97.5 -3.1ZM168.7 5.1L162.2 10.4L157.6 8.8L160.0 -3.3L167.4 -2.6L168.7 -0.5ZM18.1 26.3L23.5 17.7L22.4 12.1L16.6 11.6L11.8 13.5L11.6 14.3L16.9 26.6ZM30.1 21.5L35.0 17.5L35.2 10.1L34.7 9.2L28.4 6.3L27.3 6.7L22.4 12.1L23.5 17.7ZM35.0 17.5L39.1 20.3L47.2 17.3L45.9 14.1L35.2 10.1ZM69.2 14.2L60.4 4.5L60.4 4.5L58.0 7.9L58.5 18.9L66.4 17.8ZM82.9 7.8L77.4 11.6L78.5 19.5L87.5 22.0L91.1 19.0L86.6 10.7ZM73.7 25.4L73.7 25.9L85.4 28.0L87.5 22.0L78.5 19.5ZM26.2 31.0L31.9 31.3L32.1 35.2L26.9 44.4L25.1 45.2L21.1 37.4ZM83.0 38.0L80.1 36.6L72.4 29.2L73.7 25.9L85.4 28.0L85.6 29.0ZM111.8 37.2L114.7 28.6L120.3 29.4L126.8 38.2L126.2 39.2L112.7 37.9ZM47.2 46.9L45.6 40.9L39.7 42.0L36.1 47.9L36.8 50.5L46.2 51.6ZM66.5 40.7L66.0 40.3L58.5 41.0L56.6 47.3L57.3 50.9L63.3 52.7L69.0 45.4ZM91.3 50.5L95.6 38.6L98.5 37.2L104.4 41.1L104.9 48.3L101.6 52.4L94.1 52.4ZM141.2 49.9L145.0 45.2L143.9 42.6L134.1 34.8L133.2 35.8L137.3 48.2ZM-0.0 50.1L-9.6 51.6L-10.9 56.0L-6.8 60.4L0.3 57.5ZM3.5 45.1L-0.0 50.1L0.3 57.5L7.2 59.9L8.6 47.4ZM8.6 47.4L13.8 46.6L21.1 50.1L22.2 55.6L21.5 57.2L16.2 60.7L7.2 59.9L7.2 59.9ZM0.3 57.5L-6.8 60.4L-6.6 65.9L-6.1 66.8L-0.8 71.5L4.7 67.6L7.2 59.9L7.2 59.9ZM16.2 60.7L15.5 70.6L18.0 72.7L27.5 69.8L21.5 57.2ZM29.5 80.7L32.0 77.3L31.4 71.7L27.5 69.8L18.0 72.7L18.0 76.6L23.8 82.3ZM-3.9 88.3L-0.7 90.8L8.2 87.4L0.4 76.0L-0.8 75.2L-4.9 79.5ZM12.4 81.5L11.1 86.8L10.0 87.6L8.2 87.4L0.4 76.0L9.4 76.4ZM-9.4 89.8L-12.1 93.4L-4.7 98.3L-0.9 93.6L-0.7 90.8L-3.9 88.3ZM37.4 104.7L37.1 94.4L44.2 92.9L49.2 96.3L49.6 101.3L41.0 106.0ZM37.4 104.7L33.3 106.4L30.7 115.8L38.4 119.5L43.3 115.4L41.0 106.0ZM29.5 145.8L34.0 139.1L29.9 134.9L23.8 142.5ZM61.3 143.6L67.1 134.3L64.7 129.5L62.2 129.7L54.1 139.5L55.0 143.0L55.1 143.1ZM2.1 139.9L12.6 147.9L11.2 151.8L6.7 152.7L0.3 148.6Z" fill="#e84410"/><path d="M30.4 -0.4L28.4 6.3L27.3 6.7L17.4 -1.7L24.6 -8.5L30.1 -7.3ZM86.2 -7.9L91.2 -12.4L97.4 -9.4L97.5 -3.1L92.8 -0.7L86.9 -0.4ZM-0.1 9.9L-1.6 20.5L-2.1 21.1L-13.1 17.9L-12.6 10.3L-5.7 5.5ZM86.6 10.7L91.1 19.0L96.3 19.7L98.0 18.9L100.5 15.4L101.0 9.9L94.6 7.4ZM119.1 10.4L125.0 8.9L131.1 15.8L131.2 18.6L128.6 19.4L122.6 18.2ZM112.2 16.7L100.5 15.4L98.0 18.9L107.6 26.1L113.5 26.6L114.2 22.0ZM13.4 29.0L11.6 28.6L0.0 33.6L-1.0 38.6L1.0 40.6L14.4 35.5ZM18.1 26.3L26.2 31.0L21.1 37.4L14.6 36.0L14.4 35.5L13.4 29.0L16.9 26.6ZM31.9 31.3L32.1 35.2L39.7 42.0L45.6 40.9L45.8 40.5L44.0 30.2L38.1 29.1L32.3 30.8ZM66.0 40.3L58.5 41.0L55.5 38.7L55.2 33.2L60.0 27.1L67.5 32.4ZM98.2 34.3L107.6 26.1L113.5 26.6L114.7 28.6L111.8 37.2L104.4 41.1L98.5 37.2ZM75.9 48.8L69.0 45.4L66.5 40.7L80.1 36.6L83.0 38.0L83.3 38.6L82.0 44.4ZM25.1 45.2L21.1 50.1L22.2 55.6L34.1 56.9L36.8 50.5L36.1 47.9L26.9 44.4ZM47.2 46.9L56.6 47.3L57.3 50.9L50.6 58.4L49.0 57.8L46.2 51.6ZM81.5 61.3L89.6 50.5L82.0 44.4L75.9 48.8L76.2 57.4ZM141.2 49.9L137.3 48.2L129.7 49.2L129.2 56.8L134.3 60.1L142.0 53.6ZM4.7 67.6L12.5 71.1L15.5 70.6L16.2 60.7L7.2 59.9ZM81.8 61.9L81.5 61.3L76.2 57.4L71.1 59.4L72.0 68.9L74.5 71.1L81.9 62.5ZM87.4 72.5L83.9 74.9L74.4 76.2L74.5 71.1L81.9 62.5ZM20.4 87.2L11.1 86.8L12.4 81.5L18.0 76.6L23.8 82.3ZM16.2 100.4L12.1 97.8L10.0 87.6L11.1 86.8L20.4 87.2L23.3 93.1ZM16.2 100.4L23.3 93.1L29.3 94.3L28.3 102.7L22.3 104.8L16.3 100.5ZM52.2 135.2L42.3 133.2L40.4 139.0L42.9 144.1L55.0 143.0L54.1 139.5Z" fill="#d83a0e"/><path d="M60.4 4.5L60.4 4.5L56.0 -1.7L57.4 -9.1L62.2 -9.9L67.1 -8.2L64.7 2.7ZM114.8 0.8L110.9 -2.8L111.1 -9.1L117.1 -13.6L123.5 -7.1L122.2 -1.3ZM8.9 0.3L12.2 -1.4L16.6 11.6L11.8 13.5L5.0 8.9ZM12.7 -1.9L13.0 -2.0L17.4 -1.7L27.3 6.7L22.4 12.1L16.6 11.6L12.2 -1.4ZM58.0 7.9L48.3 6.3L45.4 0.7L56.0 -1.7L60.4 4.5ZM114.9 9.3L114.6 8.6L114.8 0.8L122.2 -1.3L127.2 2.2L125.0 8.9L119.1 10.4ZM5.0 8.9L11.8 13.5L11.6 14.3L6.1 21.2L-1.6 20.5L-0.1 9.9ZM50.5 20.0L47.2 17.3L45.9 14.1L48.3 6.3L58.0 7.9L58.5 18.9L58.1 19.3ZM72.5 11.5L69.2 14.2L66.4 17.8L73.7 25.4L78.5 19.5L77.4 11.6ZM144.6 8.9L135.6 8.5L131.1 15.8L131.2 18.6L133.0 20.1L141.9 16.5ZM-2.1 21.1L-1.6 20.5L6.1 21.2L11.6 28.6L0.0 33.6L-3.0 27.1ZM18.1 26.3L23.5 17.7L30.1 21.5L32.3 30.8L31.9 31.3L26.2 31.0ZM30.1 21.5L35.0 17.5L39.1 20.3L38.1 29.1L32.3 30.8ZM73.7 25.4L73.7 25.9L72.4 29.2L67.5 32.4L60.0 27.1L58.1 19.3L58.5 18.9L66.4 17.8ZM97.1 32.2L96.3 19.7L91.1 19.0L87.5 22.0L85.4 28.0L85.6 29.0ZM122.6 18.2L128.6 19.4L122.2 28.2L120.3 29.4L114.7 28.6L113.5 26.6L114.2 22.0ZM147.7 22.3L147.8 28.6L151.9 30.3L160.8 24.7L161.5 23.5L151.9 16.1ZM55.2 33.2L55.5 38.7L45.8 40.5L44.0 30.2L46.3 28.6ZM80.1 36.6L72.4 29.2L67.5 32.4L66.0 40.3L66.5 40.7ZM-7.0 40.1L-1.0 38.6L1.0 40.6L3.5 45.1L-0.0 50.1L-9.6 51.6L-10.8 46.4ZM14.6 36.0L13.8 46.6L8.6 47.4L3.5 45.1L1.0 40.6L14.4 35.5ZM14.6 36.0L13.8 46.6L21.1 50.1L25.1 45.2L21.1 37.4ZM46.2 51.6L49.0 57.8L38.3 62.9L34.1 56.9L36.8 50.5ZM65.7 59.9L63.3 52.7L57.3 50.9L50.6 58.4L51.7 59.8L64.4 61.2ZM92.3 61.0L94.1 52.4L91.3 50.5L89.6 50.5L81.5 61.3L81.8 61.9ZM104.9 48.3L101.6 52.4L103.3 62.2L114.4 57.5L113.0 51.6ZM51.7 59.8L50.6 58.4L49.0 57.8L38.3 62.9L37.6 66.1L45.9 72.0L51.9 61.7ZM4.7 67.6L12.5 71.1L9.4 76.4L0.4 76.0L-0.8 75.2L-0.8 71.5ZM94.7 63.1L101.4 65.0L100.4 72.3L91.0 74.9L87.6 72.6ZM29.3 94.3L32.7 92.4L32.7 92.4L29.5 80.7L23.8 82.3L20.4 87.2L23.3 93.1ZM49.6 101.3L49.2 96.3L55.5 91.9L63.3 99.9L62.4 102.7L51.7 103.5ZM-5.5 115.8L-5.4 117.3L4.2 119.0L11.2 113.3L10.9 112.7L2.3 106.7L-0.8 107.4ZM16.3 100.5L10.9 112.7L11.2 113.3L12.7 114.4L22.6 110.8L22.3 104.8ZM-0.4 137.1L-8.9 143.7L-15.5 138.4L-15.6 136.0L-12.4 134.3ZM118.6 134.9L107.3 132.3L104.0 136.5L103.9 138.5L115.5 144.5Z" fill="#c8340e"/><path d="M86.2 -7.9L86.9 -0.4L83.0 3.0L76.9 -1.3L73.7 -8.4L82.5 -10.0ZM86.9 -0.4L92.8 -0.7L94.6 7.4L86.6 10.7L82.9 7.8L83.0 3.0ZM114.9 9.3L112.2 16.7L114.2 22.0L122.6 18.2L119.1 10.4ZM152.2 9.2L157.6 8.8L162.2 10.4L165.3 19.3L164.9 20.4L161.5 23.5L151.9 16.1ZM16.9 26.6L11.6 14.3L6.1 21.2L11.6 28.6L13.4 29.0ZM60.0 27.1L58.1 19.3L50.5 20.0L46.3 28.6L55.2 33.2ZM120.3 29.4L122.2 28.2L136.3 30.2L134.1 34.8L133.2 35.8L126.8 38.2ZM112.7 37.9L126.2 39.2L124.7 46.1L122.1 47.4L119.2 47.4ZM76.2 57.4L71.1 59.4L65.7 59.9L63.3 52.7L69.0 45.4L75.9 48.8ZM15.5 70.6L12.5 71.1L9.4 76.4L12.4 81.5L18.0 76.6L18.0 72.7ZM142.1 68.7L143.0 79.3L148.5 78.8L152.6 72.3L151.5 67.5L147.5 65.9ZM41.6 81.2L46.0 72.4L54.9 75.2L49.9 82.7L44.4 83.9ZM56.6 89.7L59.4 87.9L61.3 80.7L56.1 74.9L54.9 75.2L49.9 82.7ZM110.3 76.7L117.0 77.4L120.3 83.8L116.5 89.8L107.4 88.1L104.7 84.0L105.7 78.7ZM124.8 83.5L130.6 91.9L135.5 80.3L132.2 77.5L130.0 78.2ZM32.7 92.4L37.1 94.4L44.2 92.9L44.4 83.9L41.6 81.2L41.3 81.1L32.7 92.4ZM163.6 91.8L159.5 98.6L152.5 94.3L151.9 93.4L156.1 84.8L158.0 84.2ZM-5.5 102.3L-4.7 98.3L-0.9 93.6L5.7 100.6L2.3 106.7L-0.8 107.4ZM22.3 104.8L22.6 110.8L28.6 116.3L30.7 115.8L33.3 106.4L28.3 102.7ZM51.7 103.5L53.1 115.0L65.6 109.9L62.4 102.7ZM114.7 102.5L111.6 107.9L111.8 112.2L114.2 113.6L116.8 113.4L124.6 105.1ZM142.9 112.5L149.9 114.4L153.3 108.5L147.0 102.5L141.0 101.3ZM114.2 113.6L116.7 123.5L121.8 126.9L126.7 125.2L127.9 116.2L116.8 113.4ZM2.0 136.7L-0.4 137.1L-12.4 134.3L-5.8 124.9L1.3 130.4L2.5 135.9ZM66.5 123.5L77.7 124.7L78.8 131.8L73.4 135.8L67.1 134.3L64.7 129.5L66.4 123.6ZM2.0 136.7L2.1 139.9L0.3 148.6L-0.9 149.0L-7.7 147.1L-8.9 143.7L-0.4 137.1ZM29.5 145.8L34.0 139.1L40.4 139.0L42.9 144.1L41.1 149.4L31.9 150.9L30.7 149.7ZM64.6 147.8L61.3 143.6L55.1 143.1L52.5 153.3L60.7 155.0L64.7 148.4ZM115.6 144.9L102.7 153.2L114.4 157.7L120.1 149.7L119.9 149.0ZM71.9 154.7L71.4 161.8L77.4 166.2L82.0 163.2L82.9 161.8L81.4 154.3L73.2 153.8ZM82.9 161.8L91.1 158.0L93.6 153.2L87.2 146.9L85.9 146.6L81.4 154.3Z" fill="#b82c10"/><path d="M97.5 -3.1L102.4 0.1L110.9 -2.8L111.1 -9.1L103.8 -14.1L102.9 -14.4L97.4 -9.4ZM48.3 6.3L45.9 14.1L35.2 10.1L34.7 9.2L45.3 0.6L45.4 0.7ZM72.5 11.5L68.9 4.4L64.7 2.7L60.4 4.5L69.2 14.2ZM114.6 8.6L102.1 8.2L102.4 0.1L110.9 -2.8L114.8 0.8ZM130.3 1.7L127.2 2.2L125.0 8.9L131.1 15.8L135.6 8.5L133.5 4.0ZM148.1 6.7L152.2 9.2L151.9 16.1L147.7 22.3L141.9 16.5L144.6 8.9ZM151.9 30.3L154.1 36.1L157.9 38.7L165.6 34.5L166.0 33.1L160.8 24.7ZM174.7 29.6L176.3 30.0L175.4 39.9L169.9 40.5L165.6 34.5L166.0 33.1ZM89.6 50.5L91.3 50.5L95.6 38.6L83.3 38.6L82.0 44.4ZM111.8 37.2L104.4 41.1L104.9 48.3L113.0 51.6L119.2 47.4L112.7 37.9ZM64.4 61.2L51.7 59.8L51.9 61.7L57.2 72.3L63.4 68.5L63.8 67.7ZM112.1 67.4L118.0 64.9L118.2 61.0L114.4 57.5L103.3 62.2L102.9 63.5ZM118.0 64.9L118.2 61.0L122.6 58.2L124.4 58.4L129.3 67.2L121.1 68.8ZM110.3 76.7L117.0 77.4L120.7 72.5L121.1 68.8L118.0 64.9L112.1 67.4ZM72.0 79.4L71.5 79.3L61.3 80.7L59.4 87.9L65.6 90.6L73.2 82.3ZM78.8 87.9L75.1 96.4L83.2 100.7L87.7 93.0L85.5 87.9L82.6 87.4ZM102.1 98.4L105.2 95.3L107.4 88.1L104.7 84.0L97.0 86.1L96.1 95.5ZM16.2 100.4L12.1 97.8L5.7 100.6L2.3 106.7L10.9 112.7L16.3 100.5ZM28.3 102.7L33.3 106.4L37.4 104.7L37.1 94.4L32.7 92.4L29.3 94.3ZM89.9 105.5L93.0 96.5L87.7 93.0L83.2 100.7L85.5 104.8L86.8 106.1ZM118.6 94.3L114.8 100.6L114.7 102.5L124.6 105.1L126.3 104.7L123.8 95.6ZM130.7 92.0L137.9 96.1L138.2 99.1L130.9 107.0L126.3 104.7L123.8 95.6ZM82.3 115.6L81.9 116.2L68.5 115.8L66.2 110.2L73.2 106.3L82.3 115.3ZM89.9 105.5L96.4 108.2L98.9 114.1L94.2 118.6L82.3 115.6L82.3 115.3L86.8 106.1ZM54.6 128.8L52.0 125.2L53.8 117.7L66.4 123.6L64.7 129.5L62.2 129.7ZM66.5 123.5L68.5 115.8L81.9 116.2L81.4 119.7L77.7 124.7ZM94.2 118.6L94.2 125.4L94.5 125.9L105.5 125.3L105.2 115.7L98.9 114.1ZM105.5 125.3L107.2 127.8L116.7 123.5L114.2 113.6L111.8 112.2L105.2 115.7ZM2.5 135.9L11.9 135.9L12.5 125.3L6.0 125.0L1.3 130.4ZM25.6 120.2L30.8 129.9L29.0 132.4L21.9 132.0L19.5 123.2ZM54.6 128.8L52.0 125.2L41.3 128.2L42.3 133.2L52.2 135.2ZM94.2 125.4L94.5 125.9L94.9 131.8L91.9 134.2L84.5 133.8L84.1 133.3L87.6 126.1ZM127.1 139.1L130.7 130.9L129.1 126.7L126.7 125.2L121.8 126.9L118.7 134.9ZM2.0 136.7L2.1 139.9L12.6 147.9L17.1 141.1L16.4 138.6L11.9 135.9L2.5 135.9ZM142.1 151.0L139.2 143.2L145.2 140.4L151.5 144.7L150.7 149.0L146.6 152.7ZM-5.0 157.4L-5.5 161.2L0.1 163.4L2.3 162.7L6.7 152.7L0.3 148.6L-0.9 149.0ZM41.8 150.6L49.5 156.2L49.6 159.0L37.4 164.0ZM64.7 148.4L71.9 154.7L71.4 161.8L67.5 162.7L61.5 160.8L60.7 155.0ZM-11.6 171.3L-8.8 162.0L-5.5 161.2L0.1 163.4L-1.0 172.9L-2.1 173.8Z" fill="#d0360e"/><path d="M130.3 1.7L127.2 2.2L122.2 -1.3L123.5 -7.1L129.4 -9.9L133.8 -6.0ZM168.7 5.1L162.2 10.4L165.3 19.3L177.3 15.7L176.8 9.5ZM98.2 34.3L107.6 26.1L98.0 18.9L96.3 19.7L97.1 32.2ZM147.7 22.3L147.8 28.6L144.0 29.7L136.9 29.6L133.0 20.1L141.9 16.5ZM158.0 84.2L156.1 84.8L151.4 82.9L148.5 78.8L152.6 72.3L161.6 78.5ZM49.2 96.3L44.2 92.9L44.4 83.9L49.9 82.7L56.6 89.7L55.5 91.9ZM93.0 96.5L87.7 93.0L85.5 87.9L91.5 84.2L97.0 86.1L96.1 95.5ZM120.3 83.8L116.5 89.8L118.6 94.3L123.8 95.6L130.7 92.0L130.6 91.9L124.8 83.5ZM152.5 94.3L159.5 98.6L161.0 104.8L153.3 108.5L147.0 102.5ZM142.9 112.5L141.0 101.3L138.2 99.1L130.9 107.0L131.6 112.6L136.5 114.6ZM149.9 114.4L153.3 108.5L161.0 104.8L163.1 105.9L163.9 108.6L158.2 121.1L150.4 116.5ZM82.3 115.6L81.9 116.2L81.4 119.7L87.6 126.1L94.2 125.4L94.2 118.6ZM142.9 112.5L149.9 114.4L150.4 116.5L145.0 125.7L143.4 126.4L139.5 124.2L136.5 114.6ZM54.6 128.8L52.2 135.2L54.1 139.5L62.2 129.7ZM94.5 125.9L94.9 131.8L104.0 136.5L107.3 132.3L107.2 127.8L105.5 125.3ZM29.5 145.8L23.8 142.5L19.2 142.1L22.5 151.7L30.7 149.7ZM73.2 153.8L81.4 154.3L85.9 146.6L84.6 145.5L78.1 144.7ZM115.6 144.9L102.7 153.2L102.5 153.2L101.9 152.7L102.2 141.2L103.9 138.5L115.5 144.5ZM127.2 139.3L132.8 142.8L130.2 151.6L128.3 153.2L120.1 149.7L119.9 149.0ZM91.1 158.0L95.1 168.5L95.1 168.5L102.6 160.1L102.5 153.2L101.9 152.7L93.6 153.2ZM138.0 152.6L130.2 151.6L128.3 153.2L128.9 161.6L134.8 164.5L138.1 163.4ZM33.8 172.0L35.5 164.7L30.5 160.6L24.5 161.3L19.5 173.1L20.3 173.7L30.3 174.8ZM137.8 177.7L134.9 172.4L134.8 164.5L138.1 163.4L144.0 163.2L144.5 172.6ZM159.0 158.3L167.5 162.2L164.9 170.2L159.5 173.7L156.3 172.4L151.9 163.2Z" fill="#90201c"/><path d="M130.3 1.7L133.8 -6.0L140.4 -6.9L143.7 -1.7L133.5 4.0ZM148.1 6.7L147.1 0.9L155.6 -6.7L160.0 -3.3L157.6 8.8L152.2 9.2ZM114.9 9.3L114.6 8.6L102.1 8.2L101.0 9.9L100.5 15.4L112.2 16.7ZM50.5 20.0L47.2 17.3L39.1 20.3L38.1 29.1L44.0 30.2L46.3 28.6ZM122.2 28.2L128.6 19.4L131.2 18.6L133.0 20.1L136.9 29.6L136.3 30.2ZM161.5 23.5L164.9 20.4L174.7 29.6L166.0 33.1L160.8 24.7ZM83.3 38.6L95.6 38.6L98.5 37.2L98.2 34.3L97.1 32.2L85.6 29.0L83.0 38.0ZM32.1 35.2L39.7 42.0L36.1 47.9L26.9 44.4ZM47.2 46.9L56.6 47.3L58.5 41.0L55.5 38.7L45.8 40.5L45.6 40.9ZM137.3 48.2L133.2 35.8L126.8 38.2L126.2 39.2L124.7 46.1L129.7 49.2ZM165.6 34.5L157.9 38.7L161.9 48.6L162.5 48.9L169.9 40.5ZM113.0 51.6L114.4 57.5L118.2 61.0L122.6 58.2L122.1 47.4L119.2 47.4ZM156.6 49.4L161.9 48.6L162.5 48.9L164.3 52.0L164.5 53.6L157.4 61.4L151.1 54.5ZM38.3 62.9L34.1 56.9L22.2 55.6L21.5 57.2L27.5 69.8L31.4 71.7L37.6 66.1ZM71.1 59.4L72.0 68.9L63.8 67.7L64.4 61.2L65.7 59.9ZM92.3 61.0L81.8 61.9L81.9 62.5L87.4 72.5L87.6 72.6L94.7 63.1ZM134.3 60.1L133.7 67.9L129.3 67.2L124.4 58.4L129.2 56.8ZM144.6 55.8L147.5 65.9L151.5 67.5L156.2 64.6L157.4 61.4L151.1 54.5ZM41.6 81.2L46.0 72.4L45.9 72.0L37.6 66.1L31.4 71.7L32.0 77.3L41.3 81.1ZM57.2 72.3L51.9 61.7L45.9 72.0L46.0 72.4L54.9 75.2L56.1 74.9ZM71.5 79.3L63.4 68.5L57.2 72.3L56.1 74.9L61.3 80.7ZM72.0 68.9L74.5 71.1L74.4 76.2L72.0 79.4L71.5 79.3L63.4 68.5L63.8 67.7ZM110.3 76.7L112.1 67.4L102.9 63.5L101.4 65.0L100.4 72.3L105.7 78.7ZM164.0 77.7L165.0 68.8L156.2 64.6L151.5 67.5L152.6 72.3L161.6 78.5ZM78.8 87.9L73.2 82.3L72.0 79.4L74.4 76.2L83.9 74.9L82.6 87.4ZM105.7 78.7L104.7 84.0L97.0 86.1L91.5 84.2L91.0 74.9L100.4 72.3ZM117.0 77.4L120.3 83.8L124.8 83.5L130.0 78.2L120.7 72.5ZM12.1 97.8L10.0 87.6L8.2 87.4L-0.7 90.8L-0.9 93.6L5.7 100.6ZM63.3 99.9L68.3 96.2L65.6 90.6L59.4 87.9L56.6 89.7L55.5 91.9ZM135.5 80.3L140.3 81.7L142.8 90.7L137.9 96.1L130.7 92.0L130.6 91.9ZM62.4 102.7L65.6 109.9L66.2 110.2L73.2 106.3L73.5 105.6L74.2 96.9L68.3 96.2L63.3 99.9ZM75.1 96.4L83.2 100.7L85.5 104.8L73.5 105.6L74.2 96.9ZM137.9 96.1L138.2 99.1L141.0 101.3L147.0 102.5L152.5 94.3L151.9 93.4L143.7 90.7L142.8 90.7ZM167.2 90.8L173.0 99.4L169.5 103.9L163.1 105.9L161.0 104.8L159.5 98.6L163.6 91.8ZM41.0 106.0L49.6 101.3L51.7 103.5L53.1 115.0L53.0 115.1L43.3 115.4ZM86.8 106.1L85.5 104.8L73.5 105.6L73.2 106.3L82.3 115.3ZM96.4 108.2L102.2 101.3L111.6 107.9L111.8 112.2L105.2 115.7L98.9 114.1ZM1.3 130.4L6.0 125.0L4.2 119.0L-5.4 117.3L-7.0 121.0L-5.8 124.9ZM4.2 119.0L6.0 125.0L12.5 125.3L16.2 122.2L12.7 114.4L11.2 113.3ZM25.6 120.2L28.6 116.3L22.6 110.8L12.7 114.4L16.2 122.2L19.5 123.2ZM30.7 115.8L28.6 116.3L25.6 120.2L30.8 129.9L39.6 126.4L38.4 119.5ZM53.1 115.0L65.6 109.9L66.2 110.2L68.5 115.8L66.5 123.5L66.4 123.6L53.8 117.7L53.0 115.1ZM19.5 123.2L16.2 122.2L12.5 125.3L11.9 135.9L16.4 138.6L21.9 132.0ZM21.9 132.0L16.4 138.6L17.1 141.1L19.2 142.1L23.8 142.5L29.9 134.9L29.0 132.4ZM64.6 147.8L75.9 142.9L73.4 135.8L67.1 134.3L61.3 143.6ZM75.9 142.9L73.4 135.8L78.8 131.8L84.1 133.3L84.5 133.8L84.6 145.5L78.1 144.7ZM127.2 139.3L132.8 142.8L135.4 141.8L136.8 134.6L130.7 130.9L127.1 139.1ZM22.5 151.7L19.0 156.9L16.1 156.7L11.2 151.8L12.6 147.9L17.1 141.1L19.2 142.1ZM52.5 153.3L49.5 156.2L41.8 150.6L41.1 149.4L42.9 144.1L55.0 143.0L55.1 143.1ZM132.8 142.8L130.2 151.6L138.0 152.6L142.1 151.0L139.2 143.2L135.4 141.8ZM2.3 162.7L6.7 152.7L11.2 151.8L16.1 156.7L11.2 166.9ZM30.7 149.7L31.9 150.9L30.5 160.6L24.5 161.3L19.0 156.9L22.5 151.7ZM30.5 160.6L31.9 150.9L41.1 149.4L41.8 150.6L37.4 164.0L37.3 164.2L35.5 164.7ZM60.7 155.0L61.5 160.8L53.8 165.0L49.6 159.0L49.5 156.2L52.5 153.3ZM0.1 163.4L-1.0 172.9L9.8 175.6L13.5 172.1L11.2 166.9L2.3 162.7ZM37.3 164.2L37.4 164.0L49.6 159.0L53.8 165.0L53.4 167.8L52.7 168.8L47.2 170.2ZM82.0 163.2L93.5 169.7L82.6 174.5L77.5 168.8L77.4 166.2ZM82.0 163.2L93.5 169.7L93.5 169.7L95.1 168.5L91.1 158.0L82.9 161.8Z" fill="#c8300e"/><path d="M148.1 6.7L147.1 0.9L143.7 -1.7L133.5 4.0L135.6 8.5L144.6 8.9ZM141.2 49.9L145.0 45.2L147.0 44.5L156.6 49.4L151.1 54.5L144.6 55.8L142.0 53.6ZM120.7 72.5L121.1 68.8L129.3 67.2L133.7 67.9L133.9 68.1L132.2 77.5L130.0 78.2ZM169.3 79.9L175.7 73.7L176.4 71.1L169.3 65.7L165.0 68.8L164.0 77.7ZM140.3 81.7L143.0 79.3L148.5 78.8L151.4 82.9L143.7 90.7L142.8 90.7ZM118.6 94.3L114.8 100.6L105.2 95.3L107.4 88.1L116.5 89.8ZM143.7 90.7L151.9 93.4L156.1 84.8L151.4 82.9ZM89.9 105.5L93.0 96.5L96.1 95.5L102.1 98.4L102.2 101.3L96.4 108.2ZM131.6 112.6L127.9 116.2L116.8 113.4L124.6 105.1L126.3 104.7L130.9 107.0ZM78.8 131.8L84.1 133.3L87.6 126.1L81.4 119.7L77.7 124.7ZM118.7 134.9L121.8 126.9L116.7 123.5L107.2 127.8L107.3 132.3L118.6 134.9ZM130.7 130.9L129.1 126.7L139.5 124.2L143.4 126.4L141.8 131.7L136.8 134.6ZM145.0 125.7L150.7 129.0L153.7 133.4L145.1 136.9L141.8 131.7L143.4 126.4ZM159.2 122.3L150.7 129.0L153.7 133.4L157.1 135.5L164.4 129.8L165.5 126.3ZM168.6 136.7L164.4 129.8L157.1 135.5L156.7 140.6L165.3 146.2L167.3 143.6ZM93.6 153.2L101.9 152.7L102.2 141.2L92.6 141.1L87.2 146.9ZM158.5 153.6L165.5 147.1L165.3 146.2L156.7 140.6L151.5 144.7L150.7 149.0ZM102.5 153.2L102.6 160.1L110.3 170.4L114.6 158.5L114.4 157.7L102.7 153.2ZM146.6 152.7L150.7 149.0L158.5 153.6L159.0 158.3L151.9 163.2L147.0 161.4ZM158.5 153.6L165.5 147.1L171.7 153.0L168.4 161.7L167.5 162.2L159.0 158.3ZM19.5 173.1L13.5 172.1L11.2 166.9L16.1 156.7L19.0 156.9L24.5 161.3ZM33.8 172.0L42.2 177.2L47.2 170.2L37.3 164.2L35.5 164.7ZM102.6 160.1L95.1 168.5L104.9 172.7L110.3 170.5L110.3 170.4ZM144.5 172.6L144.0 163.2L147.0 161.4L151.9 163.2L156.3 172.4L151.2 174.8Z" fill="#a8261a"/><path d="M143.9 42.6L144.0 29.7L136.9 29.6L136.3 30.2L134.1 34.8ZM151.9 30.3L154.1 36.1L147.0 44.5L145.0 45.2L143.9 42.6L144.0 29.7L147.8 28.6ZM147.0 44.5L154.1 36.1L157.9 38.7L161.9 48.6L156.6 49.4ZM122.6 58.2L124.4 58.4L129.2 56.8L129.7 49.2L124.7 46.1L122.1 47.4ZM92.3 61.0L94.1 52.4L101.6 52.4L103.3 62.2L102.9 63.5L101.4 65.0L94.7 63.1ZM142.0 53.6L144.6 55.8L147.5 65.9L142.1 68.7L133.9 68.1L133.7 67.9L134.3 60.1ZM169.3 65.7L170.0 60.2L164.5 53.6L157.4 61.4L156.2 64.6L165.0 68.8ZM135.5 80.3L140.3 81.7L143.0 79.3L142.1 68.7L133.9 68.1L132.2 77.5ZM32.7 92.4L29.5 80.7L32.0 77.3L41.3 81.1ZM87.6 72.6L91.0 74.9L91.5 84.2L85.5 87.9L82.6 87.4L83.9 74.9L87.4 72.5ZM167.2 90.8L172.1 85.4L169.3 79.9L164.0 77.7L161.6 78.5L158.0 84.2L163.6 91.8ZM78.8 87.9L75.1 96.4L74.2 96.9L68.3 96.2L65.6 90.6L73.2 82.3ZM102.1 98.4L105.2 95.3L114.8 100.6L114.7 102.5L111.6 107.9L102.2 101.3ZM43.3 115.4L53.0 115.1L53.8 117.7L52.0 125.2L41.3 128.2L39.6 126.4L38.4 119.5ZM136.5 114.6L139.5 124.2L129.1 126.7L126.7 125.2L127.9 116.2L131.6 112.6ZM145.0 125.7L150.7 129.0L159.2 122.3L158.2 121.1L150.4 116.5ZM163.9 108.6L158.2 121.1L159.2 122.3L165.5 126.3L167.4 125.3L167.8 114.9ZM29.0 132.4L29.9 134.9L34.0 139.1L40.4 139.0L42.3 133.2L41.3 128.2L39.6 126.4L30.8 129.9ZM84.5 133.8L91.9 134.2L92.6 141.1L87.2 146.9L85.9 146.6L84.6 145.5ZM91.9 134.2L92.6 141.1L102.2 141.2L103.9 138.5L104.0 136.5L94.9 131.8ZM127.2 139.3L119.9 149.0L115.6 144.9L115.5 144.5L118.6 134.9L118.7 134.9L127.1 139.1ZM136.8 134.6L141.8 131.7L145.1 136.9L145.2 140.4L139.2 143.2L135.4 141.8ZM157.1 135.5L156.7 140.6L151.5 144.7L145.2 140.4L145.1 136.9L153.7 133.4ZM-10.2 149.9L-5.0 157.4L-0.9 149.0L-7.7 147.1ZM64.6 147.8L75.9 142.9L78.1 144.7L73.2 153.8L71.9 154.7L64.7 148.4ZM114.6 158.5L125.0 164.0L128.9 161.6L128.3 153.2L120.1 149.7L114.4 157.7ZM138.0 152.6L138.1 163.4L144.0 163.2L147.0 161.4L146.6 152.7L142.1 151.0ZM67.5 162.7L63.8 171.9L53.4 167.8L53.8 165.0L61.5 160.8ZM71.4 161.8L77.4 166.2L77.5 168.8L71.6 174.7L65.0 174.5L63.8 171.9L67.5 162.7ZM114.6 158.5L125.0 164.0L123.4 167.2L112.8 172.2L110.3 170.5L110.3 170.4ZM134.9 172.4L126.2 173.5L123.4 167.2L125.0 164.0L128.9 161.6L134.8 164.5Z" fill="#b02a14"/></g><g filter="url(#b0_6)"><path d="M150.7 129L159.2 122.3M150.7 129L153.7 133.4M153.7 133.4L157.1 135.5M157.1 135.5L164.4 129.8M164.4 129.8L165.5 126.3M165.5 126.3L159.2 122.3M145.2 140.4L145.1 136.9M145.2 140.4L151.5 144.7M145.1 136.9L153.7 133.4M151.5 144.7L156.7 140.6M156.7 140.6L157.1 135.5M167.5 162.2L164.9 170.2M165.5 147.1L165.3 146.2M165.5 147.1L171.7 153M165.3 146.2L167.3 143.6M156.7 140.6L165.3 146.2M164.4 129.8L168.6 136.7M165.5 126.3L167.4 125.3M153.3 108.5L147 102.5M153.3 108.5L161 104.8M159.5 98.6L161 104.8M159.5 98.6L152.5 94.3M147 102.5L152.5 94.3M165.5 147.1L158.5 153.6M151.5 144.7L150.7 149M150.7 149L158.5 153.6M167.5 162.2L159 158.3M156.3 172.4L151.9 163.2M151.9 163.2L159 158.3M159 158.3L158.5 153.6M128.9 161.6L134.8 164.5M128.9 161.6L125 164M125 164L123.4 167.2M134.8 164.5L134.9 172.4M127.9 116.2L116.8 113.4M127.9 116.2L126.7 125.2M116.7 123.5L114.2 113.6M116.7 123.5L121.8 126.9M121.8 126.9L126.7 125.2M116.8 113.4L114.2 113.6M49.5 156.2L49.6 159M49.5 156.2L41.8 150.6M49.6 159L37.4 164M37.4 164L41.8 150.6M167.8 114.9L163.9 108.6M169.5 103.9L163.1 105.9M163.9 108.6L163.1 105.9M158.2 121.1L163.9 108.6M158.2 121.1L159.2 122.3M170 60.2L164.5 53.6M164.5 53.6L164.3 52M164.3 52L180.4 47.9M158.2 121.1L150.4 116.5M153.3 108.5L149.9 114.4M161 104.8L163.1 105.9M150.4 116.5L149.9 114.4M150.7 129L145 125.7M150.4 116.5L145 125.7M141.8 131.7L145.1 136.9M141.8 131.7L143.4 126.4M143.4 126.4L145 125.7M156.2 64.6L165 68.8M156.2 64.6L157.4 61.4M157.4 61.4L164.5 53.6M165 68.8L169.3 65.7M156.1 84.8L151.4 82.9M156.1 84.8L151.9 93.4M151.9 93.4L143.7 90.7M151.4 82.9L143.7 90.7M151.5 67.5L152.6 72.3M151.5 67.5L147.5 65.9M152.6 72.3L148.5 78.8M143 79.3L148.5 78.8M143 79.3L142.1 68.7M147.5 65.9L142.1 68.7M24.6 -8.5L17.4 -1.7M13 -2L17.4 -1.7M-0.7 90.8L8.2 87.4M-0.7 90.8L-3.9 88.3M8.2 87.4L0.4 76M0.4 76L-0.8 75.2M-0.8 75.2L-4.9 79.5M-4.7 98.3L-0.9 93.6M-0.7 90.8L-0.9 93.6M110.3 170.4L114.6 158.5M110.3 170.4L102.6 160.1M102.6 160.1L102.5 153.2M114.4 157.7L102.7 153.2M114.4 157.7L114.6 158.5M102.7 153.2L102.5 153.2M125 164L114.6 158.5M95.1 168.5L102.6 160.1M128.9 161.6L128.3 153.2M128.3 153.2L120.1 149.7M120.1 149.7L114.4 157.7M147 161.4L146.6 152.7M147 161.4L144 163.2M138.1 163.4L144 163.2M138.1 163.4L138 152.6M146.6 152.7L142.1 151M142.1 151L138 152.6M150.7 149L146.6 152.7M151.9 163.2L147 161.4M134.8 164.5L138.1 163.4M128.3 153.2L130.2 151.6M130.2 151.6L138 152.6M145.2 140.4L139.2 143.2M139.2 143.2L142.1 151M144 163.2L144.5 172.6M92.6 141.1L91.9 134.2M92.6 141.1L102.2 141.2M102.2 141.2L103.9 138.5M103.9 138.5L104 136.5M104 136.5L94.9 131.8M94.9 131.8L91.9 134.2M116.7 123.5L107.2 127.8M107.2 127.8L105.5 125.3M114.2 113.6L111.8 112.2M111.8 112.2L105.2 115.7M105.2 115.7L105.5 125.3M107.2 127.8L107.3 132.3M107.3 132.3L104 136.5M94.9 131.8L94.5 125.9M105.5 125.3L94.5 125.9M139.2 143.2L135.4 141.8M130.2 151.6L132.8 142.8M135.4 141.8L132.8 142.8M141.8 131.7L136.8 134.6M135.4 141.8L136.8 134.6M129.1 126.7L130.7 130.9M129.1 126.7L139.5 124.2M139.5 124.2L143.4 126.4M136.8 134.6L130.7 130.9M119.9 149L127.2 139.3M119.9 149L115.6 144.9M115.5 144.5L115.6 144.9M115.5 144.5L118.6 134.9M118.6 134.9L118.7 134.9M118.7 134.9L127.1 139.1M127.1 139.1L127.2 139.3M120.1 149.7L119.9 149M132.8 142.8L127.2 139.3M102.7 153.2L115.6 144.9M102.2 141.2L101.9 152.7M103.9 138.5L115.5 144.5M101.9 152.7L102.5 153.2M107.3 132.3L118.6 134.9M121.8 126.9L118.7 134.9M129.1 126.7L126.7 125.2M130.7 130.9L127.1 139.1M92.6 141.1L87.2 146.9M101.9 152.7L93.6 153.2M87.2 146.9L93.6 153.2M95.1 168.5L91.1 158M93.6 153.2L91.1 158M91.9 134.2L84.5 133.8M87.2 146.9L85.9 146.6M85.9 146.6L84.6 145.5M84.6 145.5L84.5 133.8M49.6 159L53.8 165M53.8 165L53.4 167.8M37.4 164L37.3 164.2M47.2 170.2L37.3 164.2M11.2 151.8L12.6 147.9M11.2 151.8L6.7 152.7M6.7 152.7L0.3 148.6M12.6 147.9L2.1 139.9M0.3 148.6L2.1 139.9M39.1 20.3L35 17.5M39.1 20.3L47.2 17.3M47.2 17.3L45.9 14.1M45.9 14.1L35.2 10.1M35.2 10.1L35 17.5M161.6 78.5L158 84.2M161.6 78.5L164 77.7M164 77.7L169.3 79.9M158 84.2L163.6 91.8M163.6 91.8L167.2 90.8M156.1 84.8L158 84.2M152.6 72.3L161.6 78.5M151.4 82.9L148.5 78.8M156.2 64.6L151.5 67.5M165 68.8L164 77.7M159.5 98.6L163.6 91.8M151.9 93.4L152.5 94.3M136.9 29.6L136.3 30.2M136.9 29.6L133 20.1M131.2 18.6L133 20.1M131.2 18.6L128.6 19.4M128.6 19.4L122.2 28.2M136.3 30.2L122.2 28.2M157.4 61.4L151.1 54.5M162.5 48.9L164.3 52M162.5 48.9L161.9 48.6M161.9 48.6L156.6 49.4M151.1 54.5L156.6 49.4M147.5 65.9L144.6 55.8M151.1 54.5L144.6 55.8M161.9 48.6L157.9 38.7M157.9 38.7L154.1 36.1M154.1 36.1L147 44.5M156.6 49.4L147 44.5M8.2 87.4L10 87.6M0.4 76L9.4 76.4M10 87.6L11.1 86.8M11.1 86.8L12.4 81.5M9.4 76.4L12.4 81.5M27.5 69.8L21.5 57.2M27.5 69.8L18 72.7M18 72.7L15.5 70.6M15.5 70.6L16.2 60.7M21.5 57.2L16.2 60.7M12.5 71.1L15.5 70.6M12.5 71.1L9.4 76.4M18 76.6L12.4 81.5M18 76.6L18 72.7M12.5 71.1L4.7 67.6M16.2 60.7L7.2 59.9M7.2 59.9L4.7 67.6M-0.8 75.2L-0.8 71.5M-6.1 66.8L-0.8 71.5M-0.8 71.5L4.7 67.6M13 -2L12.7 -1.9M8 -11.1L12.7 -1.9M27.3 6.7L17.4 -1.7M27.3 6.7L22.4 12.1M16.6 11.6L22.4 12.1M16.6 11.6L12.2 -1.4M12.2 -1.4L12.7 -1.9M56 -1.7L60.4 4.5M56 -1.7L45.4 0.7M45.4 0.7L48.3 6.3M48.3 6.3L58 7.9M60.4 4.5L58 7.9M34.7 9.2L45.3 0.6M34.7 9.2L35.2 10.1M45.3 0.6L45.4 0.7M45.9 14.1L48.3 6.3M27.3 6.7L28.4 6.3M28.4 6.3L30.4 -0.4M30.1 -7.3L30.4 -0.4M34.7 9.2L28.4 6.3M45.3 0.6L44.7 -1M30.4 -0.4L44.7 -1M57.4 -9.1L56 -1.7M44.7 -1L44.1 -6.7M94.5 125.9L94.2 125.4M84.1 133.3L84.5 133.8M84.1 133.3L87.6 126.1M87.6 126.1L94.2 125.4M116.8 113.4L124.6 105.1M111.8 112.2L111.6 107.9M111.6 107.9L114.7 102.5M124.6 105.1L114.7 102.5M130.9 107L138.2 99.1M130.9 107L131.6 112.6M131.6 112.6L136.5 114.6M141 101.3L138.2 99.1M141 101.3L142.9 112.5M136.5 114.6L142.9 112.5M127.9 116.2L131.6 112.6M124.6 105.1L126.3 104.7M126.3 104.7L130.9 107M139.5 124.2L136.5 114.6M147 102.5L141 101.3M149.9 114.4L142.9 112.5M143 79.3L140.3 81.7M143.7 90.7L142.8 90.7M142.8 90.7L140.3 81.7M138.2 99.1L137.9 96.1M142.8 90.7L137.9 96.1M85.9 146.6L81.4 154.3M91.1 158L82.9 161.8M81.4 154.3L82.9 161.8M93.5 169.7L82 163.2M77.4 166.2L82 163.2M82.9 161.8L82 163.2M53.8 165L61.5 160.8M63.8 171.9L67.5 162.7M61.5 160.8L67.5 162.7M77.4 166.2L71.4 161.8M67.5 162.7L71.4 161.8M77.7 124.7L66.5 123.5M77.7 124.7L78.8 131.8M78.8 131.8L73.4 135.8M73.4 135.8L67.1 134.3M67.1 134.3L64.7 129.5M64.7 129.5L66.4 123.6M66.4 123.6L66.5 123.5M68.5 115.8L66.5 123.5M68.5 115.8L81.9 116.2M81.4 119.7L81.9 116.2M81.4 119.7L77.7 124.7M84.1 133.3L78.8 131.8M87.6 126.1L81.4 119.7M11.2 166.9L2.3 162.7M-1 172.9L0.1 163.4M2.3 162.7L0.1 163.4M11.2 151.8L16.1 156.7M6.7 152.7L2.3 162.7M16.1 156.7L11.2 166.9M35.5 164.7L33.8 172M35.5 164.7L30.5 160.6M30.5 160.6L24.5 161.3M24.5 161.3L19.5 173.1M37.3 164.2L35.5 164.7M41.8 150.6L41.1 149.4M31.9 150.9L41.1 149.4M31.9 150.9L30.5 160.6M16.1 156.7L19 156.9M19 156.9L24.5 161.3M-0.9 149L-7.7 147.1M-0.9 149L-5 157.4M0.3 148.6L-0.9 149M-5.5 161.2L0.1 163.4M12.7 114.4L16.2 122.2M12.7 114.4L11.2 113.3M12.5 125.3L6 125M12.5 125.3L16.2 122.2M6 125L4.2 119M11.2 113.3L4.2 119M11.1 86.8L20.4 87.2M18 76.6L23.8 82.3M23.8 82.3L20.4 87.2M31.4 71.7L27.5 69.8M31.4 71.7L32 77.3M32 77.3L29.5 80.7M23.8 82.3L29.5 80.7M54.1 139.5L62.2 129.7M54.1 139.5L52.2 135.2M52.2 135.2L54.6 128.8M62.2 129.7L54.6 128.8M55 143L54.1 139.5M55 143L42.9 144.1M42.9 144.1L40.4 139M40.4 139L42.3 133.2M42.3 133.2L52.2 135.2M41.3 128.2L42.3 133.2M41.3 128.2L52 125.2M52 125.2L54.6 128.8M52 125.2L53.8 117.7M53.8 117.7L66.4 123.6M64.7 129.5L62.2 129.7M37.6 66.1L38.3 62.9M37.6 66.1L45.9 72M38.3 62.9L49 57.8M45.9 72L51.9 61.7M49 57.8L50.6 58.4M50.6 58.4L51.7 59.8M51.9 61.7L51.7 59.8M31.4 71.7L37.6 66.1M22.2 55.6L34.1 56.9M22.2 55.6L21.5 57.2M34.1 56.9L38.3 62.9M36.1 47.9L39.7 42M36.1 47.9L36.8 50.5M36.8 50.5L46.2 51.6M39.7 42L45.6 40.9M45.6 40.9L47.2 46.9M46.2 51.6L47.2 46.9M34.1 56.9L36.8 50.5M49 57.8L46.2 51.6M58.5 41L56.6 47.3M58.5 41L55.5 38.7M55.5 38.7L45.8 40.5M56.6 47.3L47.2 46.9M45.8 40.5L45.6 40.9M57.3 50.9L56.6 47.3M57.3 50.9L50.6 58.4M97 86.1L96.1 95.5M97 86.1L104.7 84M104.7 84L107.4 88.1M107.4 88.1L105.2 95.3M105.2 95.3L102.1 98.4M96.1 95.5L102.1 98.4M97 86.1L91.5 84.2M91.5 84.2L85.5 87.9M85.5 87.9L87.7 93M87.7 93L93 96.5M96.1 95.5L93 96.5M111.6 107.9L102.2 101.3M105.2 95.3L114.8 100.6M114.8 100.6L114.7 102.5M102.2 101.3L102.1 98.4M56.1 74.9L61.3 80.7M56.1 74.9L57.2 72.3M57.2 72.3L63.4 68.5M63.4 68.5L71.5 79.3M61.3 80.7L71.5 79.3M46 72.4L54.9 75.2M46 72.4L45.9 72M54.9 75.2L56.1 74.9M51.9 61.7L57.2 72.3M73.5 105.6L85.5 104.8M73.5 105.6L74.2 96.9M85.5 104.8L83.2 100.7M83.2 100.7L75.1 96.4M74.2 96.9L75.1 96.4M162.5 48.9L169.9 40.5M157.9 38.7L165.6 34.5M136.9 29.6L144 29.7M144 29.7L143.9 42.6M136.3 30.2L134.1 34.8M134.1 34.8L143.9 42.6M122.2 28.2L120.3 29.4M133.2 35.8L134.1 34.8M133.2 35.8L126.8 38.2M126.8 38.2L120.3 29.4M36.1 47.9L26.9 44.4M39.7 42L32.1 35.2M26.9 44.4L32.1 35.2M22.2 55.6L21.1 50.1M21.1 50.1L25.1 45.2M26.9 44.4L25.1 45.2M58.1 19.3L60 27.1M58.1 19.3L50.5 20M46.3 28.6L55.2 33.2M46.3 28.6L50.5 20M55.2 33.2L60 27.1M47.2 17.3L50.5 20M58.5 18.9L58 7.9M58.5 18.9L58.1 19.3M44 30.2L46.3 28.6M44 30.2L45.8 40.5M55.5 38.7L55.2 33.2M38.1 29.1L39.1 20.3M38.1 29.1L44 30.2M67.1 -8.2L64.7 2.7M60.4 4.5L60.4 4.5M64.7 2.7L60.4 4.5M98.9 114.1L94.2 118.6M98.9 114.1L96.4 108.2M94.2 118.6L82.3 115.6M96.4 108.2L89.9 105.5M82.3 115.3L82.3 115.6M82.3 115.3L86.8 106.1M86.8 106.1L89.9 105.5M105.2 115.7L98.9 114.1M94.2 125.4L94.2 118.6M102.2 101.3L96.4 108.2M81.9 116.2L82.3 115.6M93 96.5L89.9 105.5M73.2 106.3L82.3 115.3M73.2 106.3L66.2 110.2M68.5 115.8L66.2 110.2M73.2 106.3L73.5 105.6M85.5 104.8L86.8 106.1M87.7 93L83.2 100.7M126.3 104.7L123.8 95.6M114.8 100.6L118.6 94.3M123.8 95.6L118.6 94.3M137.9 96.1L130.7 92M123.8 95.6L130.7 92M107.4 88.1L116.5 89.8M116.5 89.8L118.6 94.3M84.6 145.5L78.1 144.7M73.4 135.8L75.9 142.9M78.1 144.7L75.9 142.9M81.4 154.3L73.2 153.8M78.1 144.7L73.2 153.8M71.4 161.8L71.9 154.7M73.2 153.8L71.9 154.7M55.1 143.1L61.3 143.6M55.1 143.1L52.5 153.3M61.3 143.6L64.6 147.8M52.5 153.3L60.7 155M60.7 155L64.7 148.4M64.7 148.4L64.6 147.8M55 143L55.1 143.1M67.1 134.3L61.3 143.6M49.5 156.2L52.5 153.3M41.1 149.4L42.9 144.1M75.9 142.9L64.6 147.8M61.5 160.8L60.7 155M71.9 154.7L64.7 148.4M19.2 142.1L23.8 142.5M19.2 142.1L22.5 151.7M23.8 142.5L29.5 145.8M22.5 151.7L30.7 149.7M30.7 149.7L29.5 145.8M19 156.9L22.5 151.7M12.6 147.9L17.1 141.1M17.1 141.1L19.2 142.1M34 139.1L29.5 145.8M34 139.1L29.9 134.9M29.9 134.9L23.8 142.5M31.9 150.9L30.7 149.7M40.4 139L34 139.1M30.8 129.9L25.6 120.2M30.8 129.9L29 132.4M29 132.4L21.9 132M21.9 132L19.5 123.2M19.5 123.2L25.6 120.2M39.6 126.4L30.8 129.9M39.6 126.4L41.3 128.2M29.9 134.9L29 132.4M16.4 138.6L17.1 141.1M16.4 138.6L21.9 132M11.9 135.9L16.4 138.6M11.9 135.9L12.5 125.3M16.2 122.2L19.5 123.2M12.7 114.4L22.6 110.8M28.6 116.3L22.6 110.8M28.6 116.3L25.6 120.2M-0.9 93.6L5.7 100.6M10 87.6L12.1 97.8M5.7 100.6L12.1 97.8M-0.8 107.4L-5.5 115.8M-0.8 107.4L-5.5 102.3M11.2 113.3L10.9 112.7M4.2 119L-5.4 117.3M2.3 106.7L10.9 112.7M2.3 106.7L-0.8 107.4M2.3 106.7L5.7 100.6M59.4 87.9L61.3 80.7M59.4 87.9L56.6 89.7M54.9 75.2L49.9 82.7M49.9 82.7L56.6 89.7M66.2 110.2L65.6 109.9M65.6 109.9L53.1 115M53.8 117.7L53 115.1M53 115.1L53.1 115M73.2 82.3L78.8 87.9M73.2 82.3L72 79.4M72 79.4L74.4 76.2M74.4 76.2L83.9 74.9M83.9 74.9L82.6 87.4M82.6 87.4L78.8 87.9M74.2 96.9L68.3 96.2M75.1 96.4L78.8 87.9M68.3 96.2L65.6 90.6M65.6 90.6L73.2 82.3M59.4 87.9L65.6 90.6M71.5 79.3L72 79.4M85.5 87.9L82.6 87.4M123.5 -7.1L122.2 -1.3M110.9 -2.8L114.8 0.8M122.2 -1.3L114.8 0.8M110.9 -2.8L102.4 0.1M102.4 0.1L102.1 8.2M102.1 8.2L114.6 8.6M114.8 0.8L114.6 8.6M140.4 -6.9L143.7 -1.7M143.7 -1.7L133.5 4M133.8 -6L130.3 1.7M133.5 4L130.3 1.7M127.2 2.2L122.2 -1.3M127.2 2.2L130.3 1.7M135.6 8.5L131.1 15.8M135.6 8.5L133.5 4M131.1 15.8L125 8.9M127.2 2.2L125 8.9M129.2 56.8L134.3 60.1M129.2 56.8L129.7 49.2M134.3 60.1L142 53.6M129.7 49.2L137.3 48.2M137.3 48.2L141.2 49.9M142 53.6L141.2 49.9M133.7 67.9L134.3 60.1M133.7 67.9L129.3 67.2M129.3 67.2L124.4 58.4M124.4 58.4L129.2 56.8M142.1 68.7L133.9 68.1M133.9 68.1L133.7 67.9M144.6 55.8L142 53.6M124.7 46.1L126.2 39.2M124.7 46.1L129.7 49.2M133.2 35.8L137.3 48.2M126.2 39.2L126.8 38.2M143.9 42.6L145 45.2M145 45.2L141.2 49.9M147 44.5L145 45.2M114.2 22L112.2 16.7M114.2 22L122.6 18.2M112.2 16.7L114.9 9.3M122.6 18.2L119.1 10.4M119.1 10.4L114.9 9.3M98 18.9L107.6 26.1M98 18.9L100.5 15.4M100.5 15.4L112.2 16.7M107.6 26.1L113.5 26.6M113.5 26.6L114.2 22M128.6 19.4L122.6 18.2M113.5 26.6L114.7 28.6M120.3 29.4L114.7 28.6M101 9.9L102.1 8.2M101 9.9L100.5 15.4M114.6 8.6L114.9 9.3M131.1 15.8L131.2 18.6M125 8.9L119.1 10.4M124.7 46.1L122.1 47.4M124.4 58.4L122.6 58.2M122.1 47.4L122.6 58.2M143.7 -1.7L147.1 0.9M147.1 0.9L155.6 -6.7M7.2 59.9L0.3 57.5M7.2 59.9L8.6 47.4M0.3 57.5L0 50.1M0 50.1L3.5 45.1M8.6 47.4L3.5 45.1M7.2 59.9L7.2 59.9M-6.8 60.4L0.3 57.5M21.1 50.1L13.8 46.6M13.8 46.6L8.6 47.4M-9.6 51.6L0 50.1M-1 38.6L1 40.6M-1 38.6L-7 40.1M1 40.6L3.5 45.1M-1 38.6L0 33.6M0 33.6L-3 27.1M0 33.6L11.6 28.6M6.1 21.2L11.6 28.6M6.1 21.2L-1.6 20.5M-1.6 20.5L-2.1 21.1M38.1 29.1L32.3 30.8M35 17.5L30.1 21.5M32.3 30.8L30.1 21.5M32.1 35.2L31.9 31.3M32.3 30.8L31.9 31.3M22.4 12.1L23.5 17.7M23.5 17.7L30.1 21.5M-5.7 5.5L-0.1 9.9M-5.8 4L2.1 -2.3M-0.1 9.9L5 8.9M5 8.9L8.9 0.3M8.9 0.3L2.1 -2.3M-1.6 20.5L-0.1 9.9M11.8 13.5L11.6 14.3M11.8 13.5L5 8.9M6.1 21.2L11.6 14.3M16.6 11.6L11.8 13.5M12.2 -1.4L8.9 0.3M58.5 41L66 40.3M60 27.1L67.5 32.4M67.5 32.4L66 40.3M66.4 17.8L69.2 14.2M66.4 17.8L73.7 25.4M69.2 14.2L72.5 11.5M78.5 19.5L73.7 25.4M78.5 19.5L77.4 11.6M77.4 11.6L72.5 11.5M58.5 18.9L66.4 17.8M60.4 4.5L69.2 14.2M73.7 25.9L73.7 25.4M73.7 25.9L72.4 29.2M67.5 32.4L72.4 29.2M64.7 2.7L68.9 4.4M68.9 4.4L72.5 11.5M73.7 25.9L85.4 28M87.5 22L85.4 28M87.5 22L78.5 19.5M140.3 81.7L135.5 80.3M130.7 92L130.6 91.9M130.6 91.9L135.5 80.3M133.9 68.1L132.2 77.5M132.2 77.5L135.5 80.3M-5.8 124.9L1.3 130.4M-12.4 134.3L-0.4 137.1M1.3 130.4L2.5 135.9M-0.4 137.1L2 136.7M2.5 135.9L2 136.7M6 125L1.3 130.4M-8.9 143.7L-0.4 137.1M11.9 135.9L2.5 135.9M2.1 139.9L2 136.7M44.4 83.9L44.2 92.9M44.4 83.9L41.6 81.2M41.3 81.1L32.7 92.4M41.3 81.1L41.6 81.2M44.2 92.9L37.1 94.4M37.1 94.4L32.7 92.4M32.7 92.4L32.7 92.4M46 72.4L41.6 81.2M49.9 82.7L44.4 83.9M32 77.3L41.3 81.1M29.5 80.7L32.7 92.4M55.5 91.9L49.2 96.3M55.5 91.9L63.3 99.9M63.3 99.9L62.4 102.7M62.4 102.7L51.7 103.5M49.2 96.3L49.6 101.3M51.7 103.5L49.6 101.3M56.6 89.7L55.5 91.9M44.2 92.9L49.2 96.3M68.3 96.2L63.3 99.9M65.6 109.9L62.4 102.7M53.1 115L51.7 103.5M38.4 119.5L30.7 115.8M38.4 119.5L43.3 115.4M43.3 115.4L41 106M30.7 115.8L33.3 106.4M33.3 106.4L37.4 104.7M41 106L37.4 104.7M39.6 126.4L38.4 119.5M28.6 116.3L30.7 115.8M53 115.1L43.3 115.4M49.6 101.3L41 106M37.1 94.4L37.4 104.7M23.3 93.1L29.3 94.3M23.3 93.1L16.2 100.4M29.3 94.3L28.3 102.7M28.3 102.7L22.3 104.8M22.3 104.8L16.3 100.5M16.3 100.5L16.2 100.4M20.4 87.2L23.3 93.1M32.7 92.4L29.3 94.3M12.1 97.8L16.2 100.4M33.3 106.4L28.3 102.7M22.6 110.8L22.3 104.8M10.9 112.7L16.3 100.5M63.8 67.7L64.4 61.2M63.8 67.7L72 68.9M72 68.9L71.1 59.4M64.4 61.2L65.7 59.9M65.7 59.9L71.1 59.4M51.7 59.8L64.4 61.2M63.4 68.5L63.8 67.7M74.5 71.1L72 68.9M74.5 71.1L74.4 76.2M63.3 52.7L57.3 50.9M63.3 52.7L65.7 59.9M91.1 19L96.3 19.7M91.1 19L86.6 10.7M96.3 19.7L98 18.9M101 9.9L94.6 7.4M94.6 7.4L86.6 10.7M91.1 19L87.5 22M77.4 11.6L82.9 7.8M86.6 10.7L82.9 7.8M102.4 0.1L97.5 -3.1M94.6 7.4L92.8 -0.7M97.5 -3.1L92.8 -0.7M129.3 67.2L121.1 68.8M122.6 58.2L118.2 61M118.2 61L118 64.9M121.1 68.8L118 64.9M119.2 47.4L113 51.6M119.2 47.4L112.7 37.9M113 51.6L104.9 48.3M104.9 48.3L104.4 41.1M104.4 41.1L111.8 37.2M112.7 37.9L111.8 37.2M122.1 47.4L119.2 47.4M114.4 57.5L118.2 61M114.4 57.5L113 51.6M126.2 39.2L112.7 37.9M114.4 57.5L103.3 62.2M103.3 62.2L101.6 52.4M101.6 52.4L104.9 48.3M114.7 28.6L111.8 37.2M174.7 29.6L164.9 20.4M177.3 15.7L165.3 19.3M164.9 20.4L165.3 19.3M165.3 19.3L162.2 10.4M162.2 10.4L168.7 5.1M160 -3.3L157.6 8.8M157.6 8.8L162.2 10.4M21.1 37.4L26.2 31M21.1 37.4L14.6 36M26.2 31L18.1 26.3M14.4 35.5L13.4 29M14.4 35.5L14.6 36M13.4 29L16.9 26.6M16.9 26.6L18.1 26.3M25.1 45.2L21.1 37.4M31.9 31.3L26.2 31M13.8 46.6L14.6 36M23.5 17.7L18.1 26.3M1 40.6L14.4 35.5M11.6 28.6L13.4 29M11.6 14.3L16.9 26.6M63.3 52.7L69 45.4M66 40.3L66.5 40.7M69 45.4L66.5 40.7M72.4 29.2L80.1 36.6M66.5 40.7L80.1 36.6M130 78.2L124.8 83.5M130 78.2L120.7 72.5M124.8 83.5L120.3 83.8M120.3 83.8L117 77.4M120.7 72.5L117 77.4M130.6 91.9L124.8 83.5M132.2 77.5L130 78.2M121.1 68.8L120.7 72.5M116.5 89.8L120.3 83.8M76.9 -1.3L83 3M76.9 -1.3L73.7 -8.4M83 3L86.9 -0.4M86.9 -0.4L86.2 -7.9M68.9 4.4L76.9 -1.3M82.9 7.8L83 3M92.8 -0.7L86.9 -0.4M95.6 38.6L83.3 38.6M95.6 38.6L98.5 37.2M98.5 37.2L98.2 34.3M85.6 29L83 38M85.6 29L97.1 32.2M97.1 32.2L98.2 34.3M83 38L83.3 38.6M107.6 26.1L98.2 34.3M104.4 41.1L98.5 37.2M85.4 28L85.6 29M80.1 36.6L83 38M96.3 19.7L97.1 32.2M101.6 52.4L94.1 52.4M95.6 38.6L91.3 50.5M94.1 52.4L91.3 50.5M102.9 63.5L101.4 65M102.9 63.5L112.1 67.4M101.4 65L100.4 72.3M112.1 67.4L110.3 76.7M100.4 72.3L105.7 78.7M105.7 78.7L110.3 76.7M103.3 62.2L102.9 63.5M118 64.9L112.1 67.4M117 77.4L110.3 76.7M104.7 84L105.7 78.7M91.5 84.2L91 74.9M91 74.9L100.4 72.3M166 33.1L160.8 24.7M164.9 20.4L161.5 23.5M160.8 24.7L161.5 23.5M154.1 36.1L151.9 30.3M160.8 24.7L151.9 30.3M144 29.7L147.8 28.6M147.8 28.6L151.9 30.3M82 44.4L75.9 48.8M82 44.4L89.6 50.5M89.6 50.5L81.5 61.3M75.9 48.8L76.2 57.4M76.2 57.4L81.5 61.3M69 45.4L75.9 48.8M83.3 38.6L82 44.4M91.3 50.5L89.6 50.5M71.1 59.4L76.2 57.4M81.9 62.5L81.8 61.9M81.9 62.5L87.4 72.5M81.8 61.9L92.3 61M87.4 72.5L87.6 72.6M87.6 72.6L94.7 63.1M94.7 63.1L92.3 61M74.5 71.1L81.9 62.5M81.5 61.3L81.8 61.9M83.9 74.9L87.4 72.5M94.1 52.4L92.3 61M91 74.9L87.6 72.6M101.4 65L94.7 63.1M151.9 16.1L147.7 22.3M151.9 16.1L152.2 9.2M152.2 9.2L148.1 6.7M141.9 16.5L144.6 8.9M141.9 16.5L147.7 22.3M144.6 8.9L148.1 6.7M161.5 23.5L151.9 16.1M147.8 28.6L147.7 22.3M157.6 8.8L152.2 9.2M147.1 0.9L148.1 6.7M135.6 8.5L144.6 8.9M133 20.1L141.9 16.5" stroke="#c4d232" stroke-width="1.2" fill="none" stroke-linecap="round"/></g><path d="M135.6 8.5h0M32.3 30.8h0M49.9 82.7h0M58.0 7.9h0M45.4 0.7h0M32.7 92.4h0M100.5 15.4h0M129.2 56.8h0M19.2 142.1h0M0.4 76.0h0M94.9 131.8h0M159.2 122.3h0M142.9 112.5h0M3.5 45.1h0M143.0 79.3h0M4.7 67.6h0M156.7 140.6h0M71.1 59.4h0M130.9 107.0h0M0.0 33.6h0M11.1 86.8h0M33.3 106.4h0M35.0 17.5h0M110.3 76.7h0M29.0 132.4h0M12.5 71.1h0M42.9 144.1h0M102.7 153.2h0M81.4 154.3h0M51.7 103.5h0M41.0 106.0h0M144.6 55.8h0M114.2 113.6h0M71.5 79.3h0M59.4 87.9h0M144.0 29.7h0M54.1 139.5h0M16.2 60.7h0M91.1 19.0h0M30.8 129.9h0M97.1 32.2h0M81.4 119.7h0M41.6 81.2h0M31.9 150.9h0M46.3 28.6h0M64.7 2.7h0M29.3 94.3h0M83.0 38.0h0M0.3 57.5h0M77.7 124.7h0M43.3 115.4h0M102.5 153.2h0M56.6 47.3h0M67.1 134.3h0M16.1 156.7h0M21.9 132.0h0M105.2 115.7h0M39.1 20.3h0M58.5 18.9h0M34.0 139.1h0M122.6 18.2h0M34.1 56.9h0M114.2 22.0h0M89.6 50.5h0M81.9 62.5h0M14.6 36.0h0M15.5 70.6h0M131.6 112.6h0M129.3 67.2h0M7.2 59.9h0M10.9 112.7h0M12.7 114.4h0M113.0 51.6h0M85.5 87.9h0M84.6 145.5h0M23.8 142.5h0M50.5 20.0h0" stroke="#8fd6e8" stroke-width="3" stroke-linecap="round"/><path d="M100.4 72.3h0M122.2 28.2h0M130.7 92.0h0M26.9 44.4h0M32.0 77.3h0M101.4 65.0h0M157.9 38.7h0M29.5 145.8h0M13.4 29.0h0M38.3 62.9h0M57.2 72.3h0M6.1 21.2h0M153.7 133.4h0M94.5 125.9h0M27.5 69.8h0M163.6 91.8h0M130.6 91.9h0M56.6 89.7h0M147.5 65.9h0M151.1 54.5h0M71.9 154.7h0M117.0 77.4h0M76.2 57.4h0M0.3 148.6h0M101.9 152.7h0M94.2 118.6h0M154.1 36.1h0M119.1 10.4h0M52.2 135.2h0M64.6 147.8h0M12.4 81.5h0M74.2 96.9h0M114.6 8.6h0M91.1 158.0h0M104.9 48.3h0M58.5 41.0h0M141.2 49.9h0M130.2 151.6h0M11.2 113.3h0M50.6 58.4h0M60.0 27.1h0M72.0 68.9h0M138.2 99.1h0M157.6 8.8h0M139.2 143.2h0M30.7 149.7h0M40.4 139.0h0M112.2 16.7h0M32.7 92.4h0M96.3 19.7h0M105.2 95.3h0M41.8 150.6h0M25.1 45.2h0M8.6 47.4h0M82.0 44.4h0M51.7 59.8h0M133.0 20.1h0M24.5 161.3h0M102.2 141.2h0M114.7 102.5h0M85.4 28.0h0M18.0 76.6h0M42.3 133.2h0M151.9 93.4h0M55.5 38.7h0M65.6 109.9h0M151.9 16.1h0M133.5 4.0h0M52.0 125.2h0M49.6 159.0h0M52.5 153.3h0M142.8 90.7h0M104.4 41.1h0" stroke="#6a5ae0" stroke-width="3.4" stroke-linecap="round"/></g></g><rect x="1107.8" y="1073" width="63.6" height="21.5" fill="#fff" /><text x="1139" y="1091.2" font-size="19.5" font-weight="bold" text-anchor="middle" fill="#000" font-family="Liberation Sans, Arial, sans-serif" letter-spacing="0.5">DKO</text><rect x="1223.6" y="1085.5" width="39" height="4.2" fill="#fff" /><text transform="translate(1101.5 1012) rotate(-90)" font-size="22" font-weight="bold" text-anchor="start" fill="#d3202a" font-family="Liberation Sans, Arial, sans-serif" letter-spacing="0.4">cTnT</text><text transform="translate(1101.5 955) rotate(-90)" font-size="22" font-weight="bold" text-anchor="start" fill="#6db644" font-family="Liberation Sans, Arial, sans-serif" letter-spacing="0.4">WGA</text><text transform="translate(1101.5 895) rotate(-90)" font-size="22" font-weight="bold" text-anchor="start" fill="#3c72b8" font-family="Liberation Sans, Arial, sans-serif" letter-spacing="0.4">Nuclei</text>
<rect x="234.2" y="132.5" width="56.2" height="204.9" fill="#559fff" stroke="#0a0ad2" stroke-width="2"/>
<rect x="302.3" y="150.6" width="56.5" height="186.8" fill="#ff8080" stroke="#e81818" stroke-width="2"/>
<rect x="199.5" y="9" width="195.2" height="328.4" fill="none" stroke="#000" stroke-width="2.1"/>
<path d="M199.5 92H206" stroke="#000" stroke-width="1.5"/><text transform="translate(195.5 99.3) scale(0.9 1)" font-size="20.8" font-weight="bold" text-anchor="end" fill="#000" stroke="#000" stroke-width="0.4" font-family="Liberation Sans, Arial, sans-serif">6</text><path d="M199.5 174H206" stroke="#000" stroke-width="1.5"/><text transform="translate(195.5 181.3) scale(0.9 1)" font-size="20.8" font-weight="bold" text-anchor="end" fill="#000" stroke="#000" stroke-width="0.4" font-family="Liberation Sans, Arial, sans-serif">4</text><path d="M199.5 255.7H206" stroke="#000" stroke-width="1.5"/><text transform="translate(195.5 263) scale(0.9 1)" font-size="20.8" font-weight="bold" text-anchor="end" fill="#000" stroke="#000" stroke-width="0.4" font-family="Liberation Sans, Arial, sans-serif">2</text>
<path d="M262 127.5V137M254.5 127.5H269.5M254.5 137H269.5" stroke="#0000e6" stroke-width="1.5" fill="none"/>
<path d="M331 144V155M323.5 144H338.5M323.5 155H338.5" stroke="#e81818" stroke-width="1.5" fill="none"/>
<path d="M262 107.3L266.2 115.07L257.8 115.07Z" fill="#0000e6"/>
<path d="M254 117.8L258.2 125.57L249.8 125.57Z" fill="#0000e6"/>
<path d="M270 115.8L274.2 123.57L265.8 123.57Z" fill="#0000e6"/>
<path d="M254 132.3L258.2 140.07L249.8 140.07Z" fill="#0000e6"/>
<path d="M267 136.8L271.2 144.57L262.8 144.57Z" fill="#0000e6"/>
<path d="M259 142.8L263.2 150.57L254.8 150.57Z" fill="#0000e6"/>
<path d="M265.5 150.2L269.7 157.97L261.3 157.97Z" fill="#0000e6"/>
<rect x="327" y="124.5" width="8" height="8" fill="#ff0000"/>
<rect x="327" y="138" width="8" height="8" fill="#ff0000"/>
<rect x="319" y="143" width="8" height="8" fill="#ff0000"/>
<rect x="323" y="148" width="8" height="8" fill="#ff0000"/>
<rect x="334.5" y="150" width="8" height="8" fill="#ff0000"/>
<rect x="322" y="158" width="8" height="8" fill="#ff0000"/>
<rect x="331" y="165" width="8" height="8" fill="#ff0000"/>
<path d="M263 106.2V96.7H332.3V106.2" stroke="#000" stroke-width="1.5" fill="none"/>
<text x="295.7" y="75.4" font-size="20.4" font-weight="normal" text-anchor="middle" fill="#000" font-family="Liberation Sans, Arial, sans-serif" letter-spacing="0.3" stroke="#000" stroke-width="0.5">p=0.03</text>
<text x="300" y="97.1" font-size="25" font-weight="normal" text-anchor="middle" fill="#000" font-family="Liberation Sans, Arial, sans-serif" letter-spacing="1.2" stroke="#000" stroke-width="0.5">*</text>
<path d="M219.8 24.4L224 32.17L215.6 32.17Z" fill="#0000e6"/><rect x="310" y="24.8" width="7.6" height="7.6" fill="#ff0000"/><text x="243.3" y="34.8" font-size="19.6" font-weight="normal" text-anchor="start" fill="#000" font-family="Liberation Sans, Arial, sans-serif" letter-spacing="0.1" stroke="#000" stroke-width="0.5">CTRL</text><text x="338.5" y="34.8" font-size="19.6" font-weight="normal" text-anchor="start" fill="#000" font-family="Liberation Sans, Arial, sans-serif" letter-spacing="0.1" stroke="#000" stroke-width="0.5">DKO</text>
<text transform="translate(162.6 260.7) rotate(-90)" font-size="23.2" text-anchor="start" fill="#000" stroke="#000" stroke-width="0.9" textLength="180.5" lengthAdjust="spacing" font-family="Liberation Sans, Arial, sans-serif">HW/BW (mg g<tspan dy="-9" font-size="15.31"> -1</tspan><tspan dy="9" font-size="23.2">)</tspan></text>
<text transform="translate(17.6 124.3) rotate(-90)" font-size="24.5" text-anchor="start" fill="#000" stroke="#000" stroke-width="0.9" textLength="63.2" lengthAdjust="spacingAndGlyphs" font-family="Liberation Sans, Arial, sans-serif">CTRL</text>
<text transform="translate(17.6 279.1) rotate(-90)" font-size="24.5" text-anchor="start" fill="#000" stroke="#000" stroke-width="0.9" textLength="50.4" lengthAdjust="spacingAndGlyphs" font-family="Liberation Sans, Arial, sans-serif">DKO</text>
<rect x="719.6" y="147.7" width="55.8" height="189.1" fill="#559fff" stroke="#0a0ad2" stroke-width="2"/>
<rect x="787.5" y="184.2" width="57.1" height="152.6" fill="#ff8080" stroke="#e81818" stroke-width="2"/>
<rect x="684" y="8" width="195.8" height="328.8" fill="none" stroke="#000" stroke-width="2.1"/>
<path d="M684 90.2H690.5" stroke="#000" stroke-width="1.5"/><text transform="translate(680 97.5) scale(0.9 1)" font-size="20.8" font-weight="bold" text-anchor="end" fill="#000" stroke="#000" stroke-width="0.4" font-family="Liberation Sans, Arial, sans-serif">300</text><path d="M684 172.7H690.5" stroke="#000" stroke-width="1.5"/><text transform="translate(680 180) scale(0.9 1)" font-size="20.8" font-weight="bold" text-anchor="end" fill="#000" stroke="#000" stroke-width="0.4" font-family="Liberation Sans, Arial, sans-serif">200</text><path d="M684 254.8H690.5" stroke="#000" stroke-width="1.5"/><text transform="translate(680 262.1) scale(0.9 1)" font-size="20.8" font-weight="bold" text-anchor="end" fill="#000" stroke="#000" stroke-width="0.4" font-family="Liberation Sans, Arial, sans-serif">100</text>
<path d="M747.1 133.7V160M739.6 133.7H754.6M739.6 160H754.6" stroke="#0000e6" stroke-width="1.5" fill="none"/>
<path d="M816 180V187M808.5 180H823.5M808.5 187H823.5" stroke="#e81818" stroke-width="1.5" fill="none"/>
<path d="M747.1 121.8L751.3 129.57L742.9 129.57Z" fill="#0000e6"/>
<path d="M747.1 142.8L751.3 150.57L742.9 150.57Z" fill="#0000e6"/>
<path d="M747.1 166L751.3 173.77L742.9 173.77Z" fill="#0000e6"/>
<rect x="812.2" y="173" width="8" height="8" fill="#ff0000"/>
<rect x="808" y="179.7" width="8" height="8" fill="#ff0000"/>
<rect x="815.6" y="185.4" width="8" height="8" fill="#ff0000"/>
<path d="M744.8 114.3V104.8H814.2V114.3" stroke="#000" stroke-width="1.5" fill="none"/>
<text x="775.7" y="79.2" font-size="20.4" font-weight="normal" text-anchor="middle" fill="#000" font-family="Liberation Sans, Arial, sans-serif" letter-spacing="0.3" stroke="#000" stroke-width="0.5">p=0.049</text>
<text x="779.2" y="105.6" font-size="25" font-weight="normal" text-anchor="middle" fill="#000" font-family="Liberation Sans, Arial, sans-serif" letter-spacing="1.2" stroke="#000" stroke-width="0.5">*</text>
<path d="M704.2 24L708.4 31.77L700 31.77Z" fill="#0000e6"/><rect x="796" y="24.4" width="7.6" height="7.6" fill="#ff0000"/><text x="728.8" y="34.4" font-size="19.6" font-weight="normal" text-anchor="start" fill="#000" font-family="Liberation Sans, Arial, sans-serif" letter-spacing="0.1" stroke="#000" stroke-width="0.5">CTRL</text><text x="824" y="34.4" font-size="19.6" font-weight="normal" text-anchor="start" fill="#000" font-family="Liberation Sans, Arial, sans-serif" letter-spacing="0.1" stroke="#000" stroke-width="0.5">DKO</text>
<text transform="translate(635.5 312.9) rotate(-90)" font-size="23.2" text-anchor="start" fill="#000" stroke="#000" stroke-width="0.9" textLength="286.2" lengthAdjust="spacing" font-family="Liberation Sans, Arial, sans-serif">Cardiomyocyte size ( µM<tspan dy="-9" font-size="14.38">2</tspan><tspan dy="9" font-size="23.2">)</tspan></text>
<text transform="translate(431.8 118.5) rotate(-90)" font-size="24.5" text-anchor="start" fill="#000" stroke="#000" stroke-width="0.9" textLength="63.2" lengthAdjust="spacingAndGlyphs" font-family="Liberation Sans, Arial, sans-serif">CTRL</text>
<text transform="translate(431.8 272.5) rotate(-90)" font-size="24.5" text-anchor="start" fill="#000" stroke="#000" stroke-width="0.9" textLength="50.9" lengthAdjust="spacingAndGlyphs" font-family="Liberation Sans, Arial, sans-serif">DKO</text>
<rect x="1323.7" y="324" width="56.1" height="12" fill="#559fff" stroke="#0a0ad2" stroke-width="2"/>
<rect x="1391.7" y="176" width="56" height="160" fill="#ff8080" stroke="#e81818" stroke-width="2"/>
<rect x="1288.7" y="8.7" width="194.6" height="327.3" fill="none" stroke="#000" stroke-width="2.1"/>
<path d="M1288.7 62H1295.2" stroke="#000" stroke-width="1.5"/><text transform="translate(1284.7 69.3) scale(0.9 1)" font-size="20.8" font-weight="bold" text-anchor="end" fill="#000" stroke="#000" stroke-width="0.4" font-family="Liberation Sans, Arial, sans-serif">0.10</text><path d="M1288.7 116.2H1295.2" stroke="#000" stroke-width="1.5"/><text transform="translate(1284.7 123.5) scale(0.9 1)" font-size="20.8" font-weight="bold" text-anchor="end" fill="#000" stroke="#000" stroke-width="0.4" font-family="Liberation Sans, Arial, sans-serif">0.08</text><path d="M1288.7 170.6H1295.2" stroke="#000" stroke-width="1.5"/><text transform="translate(1284.7 177.9) scale(0.9 1)" font-size="20.8" font-weight="bold" text-anchor="end" fill="#000" stroke="#000" stroke-width="0.4" font-family="Liberation Sans, Arial, sans-serif">0.06</text><path d="M1288.7 226H1295.2" stroke="#000" stroke-width="1.5"/><text transform="translate(1284.7 233.3) scale(0.9 1)" font-size="20.8" font-weight="bold" text-anchor="end" fill="#000" stroke="#000" stroke-width="0.4" font-family="Liberation Sans, Arial, sans-serif">0.04</text><path d="M1288.7 281.3H1295.2" stroke="#000" stroke-width="1.5"/><text transform="translate(1284.7 288.6) scale(0.9 1)" font-size="20.8" font-weight="bold" text-anchor="end" fill="#000" stroke="#000" stroke-width="0.4" font-family="Liberation Sans, Arial, sans-serif">0.02</text>
<path d="M1351.3 320.2V329.8M1343.8 320.2H1358.8M1343.8 329.8H1358.8" stroke="#0000e6" stroke-width="1.5" fill="none"/>
<path d="M1420.2 152V199M1412.7 152H1427.7M1412.7 199H1427.7" stroke="#e81818" stroke-width="1.5" fill="none"/>
<path d="M1348 313.1L1352.2 320.87L1343.8 320.87Z" fill="#0000e6"/>
<path d="M1354.8 313.1L1359 320.87L1350.6 320.87Z" fill="#0000e6"/>
<path d="M1351.3 332L1355.5 339.77L1347.1 339.77Z" fill="#0000e6"/>
<rect x="1416.2" y="137.3" width="8" height="8" fill="#ff0000"/>
<rect x="1416.2" y="146" width="8" height="8" fill="#ff0000"/>
<rect x="1416.2" y="164.7" width="8" height="8" fill="#ff0000"/>
<rect x="1416.2" y="239.3" width="8" height="8" fill="#ff0000"/>
<path d="M1351 135.5V126H1420.6V135.5" stroke="#000" stroke-width="1.5" fill="none"/>
<text x="1384.8" y="97.1" font-size="20.4" font-weight="normal" text-anchor="middle" fill="#000" font-family="Liberation Sans, Arial, sans-serif" letter-spacing="0.3" stroke="#000" stroke-width="0.5">p=0.003</text>
<text x="1387.9" y="122.6" font-size="25" font-weight="normal" text-anchor="middle" fill="#000" font-family="Liberation Sans, Arial, sans-serif" letter-spacing="1.2" stroke="#000" stroke-width="0.5">**</text>
<path d="M1310 25.8L1314.2 33.57L1305.8 33.57Z" fill="#0000e6"/><rect x="1395.2" y="26.2" width="7.6" height="7.6" fill="#ff0000"/><text x="1333.7" y="36.2" font-size="19.6" font-weight="normal" text-anchor="start" fill="#000" font-family="Liberation Sans, Arial, sans-serif" letter-spacing="0.1" stroke="#000" stroke-width="0.5">CTRL</text><text x="1423" y="36.2" font-size="19.6" font-weight="normal" text-anchor="start" fill="#000" font-family="Liberation Sans, Arial, sans-serif" letter-spacing="0.1" stroke="#000" stroke-width="0.5">DKO</text>
<text transform="translate(1230.1 319.5) rotate(-90)" font-size="23.2" text-anchor="start" fill="#000" stroke="#000" stroke-width="0.9" textLength="295.6" lengthAdjust="spacing" font-family="Liberation Sans, Arial, sans-serif">Ratio of pH3 <tspan dy="-9" font-size="16.24">+</tspan><tspan dy="9" font-size="23.2">myocytes (%)</tspan></text>
<rect x="1919.5" y="322" width="56.3" height="14" fill="#559fff" stroke="#0a0ad2" stroke-width="2"/>
<rect x="1987.9" y="203.3" width="55.8" height="132.7" fill="#ff8080" stroke="#e81818" stroke-width="2"/>
<rect x="1884.9" y="10" width="193.6" height="326" fill="none" stroke="#000" stroke-width="2.1"/>
<path d="M1884.9 117.8H1891.4" stroke="#000" stroke-width="1.5"/><text transform="translate(1881.9 124.1) scale(1 1)" font-size="19.5" font-weight="bold" text-anchor="end" fill="#000" stroke="#000" stroke-width="0.4" font-family="Liberation Serif, Times New Roman, serif">0.02</text><path d="M1884.9 227.5H1891.4" stroke="#000" stroke-width="1.5"/><text transform="translate(1881.9 233.8) scale(1 1)" font-size="19.5" font-weight="bold" text-anchor="end" fill="#000" stroke="#000" stroke-width="0.4" font-family="Liberation Serif, Times New Roman, serif">0.01</text>
<path d="M1947.5 307V337M1940 307H1955M1940 337H1955" stroke="#0000e6" stroke-width="1.5" fill="none"/>
<path d="M2015.3 175.7V231M2007.8 175.7H2022.8M2007.8 231H2022.8" stroke="#e81818" stroke-width="1.5" fill="none"/>
<path d="M1947.5 258.3L1951.7 266.07L1943.3 266.07Z" fill="#0000e6"/>
<path d="M1926 332.4L1930.2 340.17L1921.8 340.17Z" fill="#0000e6"/>
<path d="M1940.4 332.4L1944.6 340.17L1936.2 340.17Z" fill="#0000e6"/>
<path d="M1954.6 332.4L1958.8 340.17L1950.4 340.17Z" fill="#0000e6"/>
<path d="M1968.4 332.4L1972.6 340.17L1964.2 340.17Z" fill="#0000e6"/>
<rect x="2011.5" y="110.4" width="8" height="8" fill="#ff0000"/>
<rect x="2008" y="184.5" width="8" height="8" fill="#ff0000"/>
<rect x="2015.5" y="184.5" width="8" height="8" fill="#ff0000"/>
<rect x="2008" y="258.5" width="8" height="8" fill="#ff0000"/>
<rect x="2015.5" y="258.5" width="8" height="8" fill="#ff0000"/>
<path d="M1944.8 108.1V98.6H2014.8V108.1" stroke="#000" stroke-width="1.5" fill="none"/>
<text x="1982.5" y="71.4" font-size="20.4" font-weight="normal" text-anchor="middle" fill="#000" font-family="Liberation Sans, Arial, sans-serif" letter-spacing="0.3" stroke="#000" stroke-width="0.5">p=0.005</text>
<text x="1983" y="100.1" font-size="25" font-weight="normal" text-anchor="middle" fill="#000" font-family="Liberation Sans, Arial, sans-serif" letter-spacing="1.2" stroke="#000" stroke-width="0.5">**</text>
<path d="M1905 25.4L1909.2 33.17L1900.8 33.17Z" fill="#0000e6"/><rect x="1992.2" y="25.8" width="7.6" height="7.6" fill="#ff0000"/><text x="1928.6" y="35.8" font-size="19.6" font-weight="normal" text-anchor="start" fill="#000" font-family="Liberation Sans, Arial, sans-serif" letter-spacing="0.1" stroke="#000" stroke-width="0.5">CTRL</text><text x="2020.2" y="35.8" font-size="19.6" font-weight="normal" text-anchor="start" fill="#000" font-family="Liberation Sans, Arial, sans-serif" letter-spacing="0.1" stroke="#000" stroke-width="0.5">DKO</text>
<text transform="translate(1832.7 330.7) rotate(-90)" font-size="23.2" text-anchor="start" fill="#000" stroke="#000" stroke-width="0.9" textLength="316.2" lengthAdjust="spacing" font-family="Liberation Sans, Arial, sans-serif">Ratio of Aurkb <tspan dy="-9" font-size="16.24">+</tspan><tspan dy="9" font-size="23.2">myocytes (%)</tspan></text>
<rect x="149" y="560.7" width="55.8" height="141" fill="#559fff" stroke="#0a0ad2" stroke-width="2"/>
<rect x="217.2" y="509" width="56.9" height="192.7" fill="#ff8080" stroke="#e81818" stroke-width="2"/>
<rect x="113.1" y="372.8" width="196.2" height="328.9" fill="none" stroke="#000" stroke-width="2.1"/>
<path d="M113.1 454.8H119.6" stroke="#000" stroke-width="1.5"/><text transform="translate(109.1 462.1) scale(0.9 1)" font-size="20.8" font-weight="bold" text-anchor="end" fill="#000" stroke="#000" stroke-width="0.4" font-family="Liberation Sans, Arial, sans-serif">15</text><path d="M113.1 538H119.6" stroke="#000" stroke-width="1.5"/><text transform="translate(109.1 545.3) scale(0.9 1)" font-size="20.8" font-weight="bold" text-anchor="end" fill="#000" stroke="#000" stroke-width="0.4" font-family="Liberation Sans, Arial, sans-serif">10</text><path d="M113.1 620H119.6" stroke="#000" stroke-width="1.5"/><text transform="translate(109.1 627.3) scale(0.9 1)" font-size="20.8" font-weight="bold" text-anchor="end" fill="#000" stroke="#000" stroke-width="0.4" font-family="Liberation Sans, Arial, sans-serif">5</text>
<path d="M176.5 553.8V566.9M169 553.8H184M169 566.9H184" stroke="#0000e6" stroke-width="1.5" fill="none"/>
<path d="M245.5 502V516.9M238 502H253M238 516.9H253" stroke="#e81818" stroke-width="1.5" fill="none"/>
<path d="M176.5 544.4L180.7 552.17L172.3 552.17Z" fill="#0000e6"/>
<path d="M179.3 555.1L183.5 562.87L175.1 562.87Z" fill="#0000e6"/>
<path d="M176.5 574.8L180.7 582.57L172.3 582.57Z" fill="#0000e6"/>
<rect x="241.5" y="492.9" width="8" height="8" fill="#ff0000"/>
<rect x="245" y="502.5" width="8" height="8" fill="#ff0000"/>
<rect x="241.5" y="528.4" width="8" height="8" fill="#ff0000"/>
<path d="M176.2 488.5V479H245.5V488.5" stroke="#000" stroke-width="1.5" fill="none"/>
<text x="209.7" y="450.3" font-size="20.4" font-weight="normal" text-anchor="middle" fill="#000" font-family="Liberation Sans, Arial, sans-serif" letter-spacing="0.3" stroke="#000" stroke-width="0.5">p=0.002</text>
<text x="211.7" y="479.6" font-size="25" font-weight="normal" text-anchor="middle" fill="#000" font-family="Liberation Sans, Arial, sans-serif" letter-spacing="1.2" stroke="#000" stroke-width="0.5">**</text>
<path d="M135.5 389.2L139.7 396.97L131.3 396.97Z" fill="#0000e6"/><rect x="223.1" y="389.6" width="7.6" height="7.6" fill="#ff0000"/><text x="159.3" y="399.6" font-size="19.6" font-weight="normal" text-anchor="start" fill="#000" font-family="Liberation Sans, Arial, sans-serif" letter-spacing="0.1" stroke="#000" stroke-width="0.5">CTRL</text><text x="251" y="399.6" font-size="19.6" font-weight="normal" text-anchor="start" fill="#000" font-family="Liberation Sans, Arial, sans-serif" letter-spacing="0.1" stroke="#000" stroke-width="0.5">DKO</text>
<text transform="translate(40.7 650.5) rotate(-90)" font-size="23.2" text-anchor="start" fill="#000" stroke="#000" stroke-width="0.9" textLength="221.8" lengthAdjust="spacing" font-family="Liberation Sans, Arial, sans-serif"># of cardiomyocytes</text>
<text transform="translate(74.1 620.1) rotate(-90)" font-size="23.2" text-anchor="start" fill="#000" stroke="#000" stroke-width="0.9" textLength="172.4" lengthAdjust="spacing" font-family="Liberation Sans, Arial, sans-serif">per heart (x10<tspan dy="-9" font-size="15.78">5</tspan><tspan dy="9" font-size="23.2">)</tspan></text>
<rect x="491" y="518" width="38.3" height="183.4" fill="#559fff" stroke="#0a0ad2" stroke-width="2"/>
<rect x="537.6" y="529" width="38.3" height="172.4" fill="#ff8080" stroke="#e81818" stroke-width="2"/>
<rect x="630.7" y="676.5" width="37.9" height="24.9" fill="#559fff" stroke="#0a0ad2" stroke-width="2"/>
<rect x="677.2" y="662.8" width="37.6" height="38.6" fill="#ff8080" stroke="#e81818" stroke-width="2"/>
<rect x="769.7" y="691" width="37.9" height="10.4" fill="#559fff" stroke="#0a0ad2" stroke-width="2"/>
<rect x="816.2" y="692.8" width="37.9" height="8.6" fill="#ff8080" stroke="#e81818" stroke-width="2"/>
<rect x="466.9" y="372" width="412.4" height="329.4" fill="none" stroke="#000" stroke-width="2.1"/>
<path d="M466.9 482H473.4" stroke="#000" stroke-width="1.5"/><text transform="translate(462.9 489.3) scale(0.9 1)" font-size="20.8" font-weight="bold" text-anchor="end" fill="#000" stroke="#000" stroke-width="0.4" font-family="Liberation Sans, Arial, sans-serif">100</text><path d="M466.9 591.7H473.4" stroke="#000" stroke-width="1.5"/><text transform="translate(462.9 599) scale(0.9 1)" font-size="20.8" font-weight="bold" text-anchor="end" fill="#000" stroke="#000" stroke-width="0.4" font-family="Liberation Sans, Arial, sans-serif">50</text>
<path d="M497.2 510.8L501.4 518.57L493 518.57Z" fill="#0000e6"/>
<path d="M511 513.8L515.2 521.57L506.8 521.57Z" fill="#0000e6"/>
<path d="M522.4 516.1L526.6 523.87L518.2 523.87Z" fill="#0000e6"/>
<path d="M636.2 669.6L640.4 677.37L632 677.37Z" fill="#0000e6"/>
<path d="M650 671.3L654.2 679.07L645.8 679.07Z" fill="#0000e6"/>
<path d="M662.8 674.8L667 682.57L658.6 682.57Z" fill="#0000e6"/>
<path d="M776.5 686.1L780.7 693.87L772.3 693.87Z" fill="#0000e6"/>
<path d="M789.3 686.1L793.5 693.87L785.1 693.87Z" fill="#0000e6"/>
<path d="M801.4 686.8L805.6 694.57L797.2 694.57Z" fill="#0000e6"/>
<rect x="540.8" y="523.2" width="8" height="8" fill="#ff0000"/>
<rect x="553.6" y="518" width="8" height="8" fill="#ff0000"/>
<rect x="553.6" y="528.4" width="8" height="8" fill="#ff0000"/>
<rect x="565.7" y="529.4" width="8" height="8" fill="#ff0000"/>
<rect x="817.4" y="689.4" width="8" height="8" fill="#ff0000"/>
<rect x="826" y="689.4" width="8" height="8" fill="#ff0000"/>
<rect x="835.7" y="689.8" width="8" height="8" fill="#ff0000"/>
<rect x="844.3" y="689.8" width="8" height="8" fill="#ff0000"/>
<rect x="690.5" y="655.7" width="12" height="12" fill="#ff0000"/>
<rect x="696" y="662" width="8" height="8" fill="#ff0000"/>
<text x="534.1" y="480.7" font-size="20.4" font-weight="normal" text-anchor="middle" fill="#000" font-family="Liberation Sans, Arial, sans-serif" letter-spacing="0.3" stroke="#000" stroke-width="0.5">P=0.05</text>
<text x="537" y="501.1" font-size="25" font-weight="normal" text-anchor="middle" fill="#000" font-family="Liberation Sans, Arial, sans-serif"  stroke="#000" stroke-width="0.5">*</text>
<path d="M511 509.5V500H558.3V509.5" stroke="#000" stroke-width="1.5" fill="none"/>
<text x="673" y="622.8" font-size="20.4" font-weight="normal" text-anchor="middle" fill="#000" font-family="Liberation Sans, Arial, sans-serif" letter-spacing="0.3" stroke="#000" stroke-width="0.5">P=0.01</text>
<text x="675.5" y="643.1" font-size="25" font-weight="normal" text-anchor="middle" fill="#000" font-family="Liberation Sans, Arial, sans-serif"  stroke="#000" stroke-width="0.5">*</text>
<path d="M650.7 651.5V642H697.6V651.5" stroke="#000" stroke-width="1.5" fill="none"/>
<text x="815.5" y="653.8" font-size="20.4" font-weight="normal" text-anchor="middle" fill="#000" font-family="Liberation Sans, Arial, sans-serif" letter-spacing="0.3" stroke="#000" stroke-width="0.5">P=0.02</text>
<text x="818" y="674.1" font-size="25" font-weight="normal" text-anchor="middle" fill="#000" font-family="Liberation Sans, Arial, sans-serif"  stroke="#000" stroke-width="0.5">*</text>
<path d="M791.4 682.5V673H838.6V682.5" stroke="#000" stroke-width="1.5" fill="none"/>
<path d="M491 388.1L494.6 394.76L487.4 394.76Z" fill="#0000e6"/>
<rect x="487.7" y="410.1" width="6.6" height="6.6" fill="#ff0000"/>
<text x="514.5" y="398.3" font-size="19" font-weight="normal" text-anchor="start" fill="#000" font-family="Liberation Sans, Arial, sans-serif" letter-spacing="0.3" stroke="#000" stroke-width="0.5">Control</text>
<text x="514.5" y="420" font-size="19" font-weight="normal" text-anchor="start" fill="#000" font-family="Liberation Sans, Arial, sans-serif" letter-spacing="0.6" stroke="#000" stroke-width="0.5">DKO</text>
<text x="531.7" y="726" font-size="21" font-weight="bold" text-anchor="middle" fill="#000" font-family="Liberation Sans, Arial, sans-serif" >Bi</text>
<text x="673.5" y="726" font-size="21" font-weight="bold" text-anchor="middle" fill="#000" font-family="Liberation Sans, Arial, sans-serif" >Mono</text>
<text x="809.5" y="726" font-size="21" font-weight="bold" text-anchor="middle" fill="#000" font-family="Liberation Sans, Arial, sans-serif" >Multi</text>
<text transform="translate(419.7 616) rotate(-90)" font-size="23.2" text-anchor="start" fill="#000" stroke="#000" stroke-width="0.9" textLength="159" lengthAdjust="spacing" font-family="Liberation Sans, Arial, sans-serif">Nucleation (%)</text>
<text x="698" y="397.2" font-size="21" font-weight="bold" text-anchor="start" fill="#e0141e" font-family="Liberation Sans, Arial, sans-serif" >Cnx43</text>
<text x="768" y="397.2" font-size="21" font-weight="bold" text-anchor="start" fill="#1414d8" font-family="Liberation Sans, Arial, sans-serif" >Nuclei</text>
<rect x="1686.6" y="477.6" width="46.2" height="225.2" fill="#559fff" stroke="#0a0ad2" stroke-width="2"/>
<rect x="1742.4" y="479.7" width="46.6" height="223.1" fill="#ff8080" stroke="#e81818" stroke-width="2"/>
<rect x="1855.5" y="555.2" width="46.2" height="147.6" fill="#559fff" stroke="#0a0ad2" stroke-width="2"/>
<rect x="1911.4" y="558.6" width="46.6" height="144.2" fill="#ff8080" stroke="#e81818" stroke-width="2"/>
<rect x="1658" y="373.8" width="329.2" height="329" fill="none" stroke="#000" stroke-width="2.1"/>
<path d="M1658 450H1664.5" stroke="#000" stroke-width="1.5"/><text transform="translate(1654 457.3) scale(0.9 1)" font-size="20.8" font-weight="bold" text-anchor="end" fill="#000" stroke="#000" stroke-width="0.4" font-family="Liberation Sans, Arial, sans-serif">100</text><path d="M1658 576.9H1664.5" stroke="#000" stroke-width="1.5"/><text transform="translate(1654 584.2) scale(0.9 1)" font-size="20.8" font-weight="bold" text-anchor="end" fill="#000" stroke="#000" stroke-width="0.4" font-family="Liberation Sans, Arial, sans-serif">50</text>
<path d="M1987.2 450H1980.7" stroke="#000" stroke-width="1.5"/><text transform="translate(1991.2 457.3) scale(0.9 1)" font-size="20.8" font-weight="bold" text-anchor="start" fill="#000" stroke="#000" stroke-width="0.4" font-family="Liberation Sans, Arial, sans-serif">100</text><path d="M1987.2 576.9H1980.7" stroke="#000" stroke-width="1.5"/><text transform="translate(1991.2 584.2) scale(0.9 1)" font-size="20.8" font-weight="bold" text-anchor="start" fill="#000" stroke="#000" stroke-width="0.4" font-family="Liberation Sans, Arial, sans-serif">50</text>
<path d="M1709.7 472.8V481.4M1702.2 472.8H1717.2M1702.2 481.4H1717.2" stroke="#0000e6" stroke-width="1.5" fill="none"/>
<path d="M1765.5 476V484M1758 476H1773M1758 484H1773" stroke="#e81818" stroke-width="1.5" fill="none"/>
<path d="M1878.3 548V561M1870.8 548H1885.8M1870.8 561H1885.8" stroke="#0000e6" stroke-width="1.5" fill="none"/>
<path d="M1935 553V564M1927.5 553H1942.5M1927.5 564H1942.5" stroke="#e81818" stroke-width="1.5" fill="none"/>
<path d="M1694 466.1L1698.2 473.87L1689.8 473.87Z" fill="#0000e6"/>
<path d="M1709.7 468.8L1713.9 476.57L1705.5 476.57Z" fill="#0000e6"/>
<path d="M1724.8 473L1729 480.77L1720.6 480.77Z" fill="#0000e6"/>
<path d="M1709.7 486.8L1713.9 494.57L1705.5 494.57Z" fill="#0000e6"/>
<path d="M1878.3 537.5L1882.5 545.27L1874.1 545.27Z" fill="#0000e6"/>
<path d="M1874.8 544.8L1879 552.57L1870.6 552.57Z" fill="#0000e6"/>
<path d="M1881 552.4L1885.2 560.17L1876.8 560.17Z" fill="#0000e6"/>
<path d="M1878.3 568.6L1882.5 576.37L1874.1 576.37Z" fill="#0000e6"/>
<rect x="1746" y="466.7" width="8" height="8" fill="#ff0000"/>
<rect x="1761.5" y="470.8" width="8" height="8" fill="#ff0000"/>
<rect x="1754" y="478.4" width="8" height="8" fill="#ff0000"/>
<rect x="1777.7" y="474.3" width="8" height="8" fill="#ff0000"/>
<rect x="1770" y="485" width="8" height="8" fill="#ff0000"/>
<rect x="1931.2" y="540.5" width="8" height="8" fill="#ff0000"/>
<rect x="1927" y="548" width="8" height="8" fill="#ff0000"/>
<rect x="1934" y="555" width="8" height="8" fill="#ff0000"/>
<rect x="1927" y="559.4" width="8" height="8" fill="#ff0000"/>
<rect x="1934.6" y="567.4" width="8" height="8" fill="#ff0000"/>
<path d="M1743.4 387.8L1747.6 395.57L1739.2 395.57Z" fill="#0000e6"/><rect x="1854.2" y="388.2" width="7.6" height="7.6" fill="#ff0000"/><text x="1767.2" y="398.2" font-size="19.6" font-weight="normal" text-anchor="start" fill="#000" font-family="Liberation Sans, Arial, sans-serif" letter-spacing="0.1" stroke="#000" stroke-width="0.5">CTRL</text><text x="1881.7" y="398.2" font-size="19.6" font-weight="normal" text-anchor="start" fill="#000" font-family="Liberation Sans, Arial, sans-serif" letter-spacing="0.1" stroke="#000" stroke-width="0.5">DKO</text>
<text transform="translate(1606.9 649.5) rotate(-90)" font-size="23.2" text-anchor="start" fill="#000" stroke="#000" stroke-width="0.9" textLength="220.8" lengthAdjust="spacing" font-family="Liberation Sans, Arial, sans-serif">Ejection fraction (%)</text>
<text transform="translate(2036.2 402.7) rotate(90)" font-size="23.2" text-anchor="start" fill="#000" stroke="#000" stroke-width="0.9" textLength="256.8" lengthAdjust="spacing" font-family="Liberation Sans, Arial, sans-serif">Fraction Shortening (%)</text>
<text transform="translate(1004.4 496) rotate(-90)" font-size="24.5" text-anchor="start" fill="#000" stroke="#000" stroke-width="0.9" textLength="61.4" lengthAdjust="spacingAndGlyphs" font-family="Liberation Sans, Arial, sans-serif">CTRL</text>
<text transform="translate(1004.4 626.3) rotate(-90)" font-size="24.5" text-anchor="start" fill="#000" stroke="#000" stroke-width="0.9" textLength="51" lengthAdjust="spacingAndGlyphs" font-family="Liberation Sans, Arial, sans-serif">DKO</text>
<rect x="313.7" y="1092.7" width="55.9" height="5.1" fill="#559fff" stroke="#0a0ad2" stroke-width="2"/>
<rect x="382" y="998.5" width="55.9" height="99.3" fill="#ff8080" stroke="#e81818" stroke-width="2"/>
<rect x="279.4" y="771" width="194.2" height="326.8" fill="none" stroke="#000" stroke-width="2.1"/>
<path d="M279.4 840H285.9" stroke="#000" stroke-width="1.5"/><text transform="translate(275.4 847.3) scale(0.9 1)" font-size="20.8" font-weight="bold" text-anchor="end" fill="#000" stroke="#000" stroke-width="0.4" font-family="Liberation Sans, Arial, sans-serif">0.15</text><path d="M279.4 925.8H285.9" stroke="#000" stroke-width="1.5"/><text transform="translate(275.4 933.1) scale(0.9 1)" font-size="20.8" font-weight="bold" text-anchor="end" fill="#000" stroke="#000" stroke-width="0.4" font-family="Liberation Sans, Arial, sans-serif">0.10</text><path d="M279.4 1012H285.9" stroke="#000" stroke-width="1.5"/><text transform="translate(275.4 1019.3) scale(0.9 1)" font-size="20.8" font-weight="bold" text-anchor="end" fill="#000" stroke="#000" stroke-width="0.4" font-family="Liberation Sans, Arial, sans-serif">0.05</text>
<path d="M341.6 1086.7V1098M334.1 1086.7H349.1M334.1 1098H349.1" stroke="#0000e6" stroke-width="1.5" fill="none"/>
<path d="M410 957V1039.6M402.5 957H417.5M402.5 1039.6H417.5" stroke="#e81818" stroke-width="1.5" fill="none"/>
<path d="M341.6 1077.4L345.8 1085.17L337.4 1085.17Z" fill="#0000e6"/>
<path d="M341.6 1091.8L345.8 1099.57L337.4 1099.57Z" fill="#0000e6"/>
<path d="M341.6 1095.8L345.8 1103.57L337.4 1103.57Z" fill="#0000e6"/>
<rect x="406" y="904.3" width="8" height="8" fill="#ff0000"/>
<rect x="406" y="921.8" width="8" height="8" fill="#ff0000"/>
<rect x="406" y="956.5" width="8" height="8" fill="#ff0000"/>
<rect x="406" y="1095.5" width="8" height="8" fill="#ff0000"/>
<path d="M340 899.5V890H409.6V899.5" stroke="#000" stroke-width="1.5" fill="none"/>
<text x="373.6" y="866.2" font-size="20.4" font-weight="normal" text-anchor="middle" fill="#000" font-family="Liberation Sans, Arial, sans-serif" letter-spacing="0.3" stroke="#000" stroke-width="0.5">p=0.0009</text>
<text x="375.3" y="892.6" font-size="25" font-weight="normal" text-anchor="middle" fill="#000" font-family="Liberation Sans, Arial, sans-serif" letter-spacing="1.2" stroke="#000" stroke-width="0.5">***</text>
<path d="M304.6 788.6L308.8 796.37L300.4 796.37Z" fill="#0000e6"/><rect x="389.3" y="789" width="7.6" height="7.6" fill="#ff0000"/><text x="328.2" y="799" font-size="19.6" font-weight="normal" text-anchor="start" fill="#000" font-family="Liberation Sans, Arial, sans-serif" letter-spacing="0.1" stroke="#000" stroke-width="0.5">CTRL</text><text x="416.7" y="799" font-size="19.6" font-weight="normal" text-anchor="start" fill="#000" font-family="Liberation Sans, Arial, sans-serif" letter-spacing="0.1" stroke="#000" stroke-width="0.5">DKO</text>
<text transform="translate(223.8 1081.5) rotate(-90)" font-size="23.2" text-anchor="start" fill="#000" stroke="#000" stroke-width="0.9" textLength="295.7" lengthAdjust="spacing" font-family="Liberation Sans, Arial, sans-serif">Ratio of pH3 <tspan dy="-9" font-size="16.24">+</tspan><tspan dy="9" font-size="23.2">myocytes (%)</tspan></text>
<rect x="945" y="990.8" width="55.8" height="106" fill="#ff8080" stroke="#e81818" stroke-width="2"/>
<rect x="842.3" y="770.3" width="193.9" height="326.5" fill="none" stroke="#000" stroke-width="2.1"/>
<path d="M842.3 851.7H848.8" stroke="#000" stroke-width="1.5"/><text transform="translate(838.3 859) scale(0.9 1)" font-size="20.8" font-weight="bold" text-anchor="end" fill="#000" stroke="#000" stroke-width="0.4" font-family="Liberation Sans, Arial, sans-serif">0.03</text><path d="M842.3 933.5H848.8" stroke="#000" stroke-width="1.5"/><text transform="translate(838.3 940.8) scale(0.9 1)" font-size="20.8" font-weight="bold" text-anchor="end" fill="#000" stroke="#000" stroke-width="0.4" font-family="Liberation Sans, Arial, sans-serif">0.02</text><path d="M842.3 1015.3H848.8" stroke="#000" stroke-width="1.5"/><text transform="translate(838.3 1022.6) scale(0.9 1)" font-size="20.8" font-weight="bold" text-anchor="end" fill="#000" stroke="#000" stroke-width="0.4" font-family="Liberation Sans, Arial, sans-serif">0.01</text>
<path d="M972.9 958V1024.4M965.4 958H980.4M965.4 1024.4H980.4" stroke="#e81818" stroke-width="1.5" fill="none"/>
<path d="M882.7 1092.3L886.9 1100.07L878.5 1100.07Z" fill="#0000e6"/>
<path d="M897 1092.3L901.2 1100.07L892.8 1100.07Z" fill="#0000e6"/>
<path d="M911.6 1092.3L915.8 1100.07L907.4 1100.07Z" fill="#0000e6"/>
<path d="M926 1092.3L930.2 1100.07L921.8 1100.07Z" fill="#0000e6"/>
<rect x="965" y="916" width="16" height="8" fill="#ff0000"/><rect x="965" y="1005.3" width="16" height="8" fill="#ff0000"/>
<rect x="969.6" y="1093.7" width="6.6" height="6.6" fill="#ff0000"/>
<path d="M903.2 912.7V903.2H972.9V912.7" stroke="#000" stroke-width="1.5" fill="none"/>
<text x="936.9" y="878.7" font-size="20.4" font-weight="normal" text-anchor="middle" fill="#000" font-family="Liberation Sans, Arial, sans-serif" letter-spacing="0.3" stroke="#000" stroke-width="0.5">p=0.025</text>
<text x="941" y="904.6" font-size="25" font-weight="normal" text-anchor="middle" fill="#000" font-family="Liberation Sans, Arial, sans-serif" letter-spacing="1.2" stroke="#000" stroke-width="0.5">*</text>
<path d="M867.6 788L871.8 795.77L863.4 795.77Z" fill="#0000e6"/><rect x="951.2" y="788.4" width="7.6" height="7.6" fill="#ff0000"/><text x="891.4" y="798.4" font-size="19.6" font-weight="normal" text-anchor="start" fill="#000" font-family="Liberation Sans, Arial, sans-serif" letter-spacing="0.1" stroke="#000" stroke-width="0.5">CTRL</text><text x="979.6" y="798.4" font-size="19.6" font-weight="normal" text-anchor="start" fill="#000" font-family="Liberation Sans, Arial, sans-serif" letter-spacing="0.1" stroke="#000" stroke-width="0.5">DKO</text>
<text transform="translate(787.8 1091.5) rotate(-90)" font-size="23.2" text-anchor="start" fill="#000" stroke="#000" stroke-width="0.9" textLength="317.5" lengthAdjust="spacing" font-family="Liberation Sans, Arial, sans-serif">Ratio of Aurkb <tspan dy="-9" font-size="16.24">+</tspan><tspan dy="9" font-size="23.2">myocytes (%)</tspan></text>
<rect x="1390.5" y="939.3" width="55.9" height="156.5" fill="#559fff" stroke="#0a0ad2" stroke-width="2"/>
<rect x="1458.9" y="999.5" width="56.1" height="96.3" fill="#ff8080" stroke="#e81818" stroke-width="2"/>
<rect x="1355.5" y="767" width="194.2" height="328.8" fill="none" stroke="#000" stroke-width="2.1"/>
<path d="M1355.5 832.6H1362" stroke="#000" stroke-width="1.5"/><text transform="translate(1351.5 839.9) scale(0.9 1)" font-size="20.8" font-weight="bold" text-anchor="end" fill="#000" stroke="#000" stroke-width="0.4" font-family="Liberation Sans, Arial, sans-serif">800</text><path d="M1355.5 898.9H1362" stroke="#000" stroke-width="1.5"/><text transform="translate(1351.5 906.2) scale(0.9 1)" font-size="20.8" font-weight="bold" text-anchor="end" fill="#000" stroke="#000" stroke-width="0.4" font-family="Liberation Sans, Arial, sans-serif">600</text><path d="M1355.5 964.8H1362" stroke="#000" stroke-width="1.5"/><text transform="translate(1351.5 972.1) scale(0.9 1)" font-size="20.8" font-weight="bold" text-anchor="end" fill="#000" stroke="#000" stroke-width="0.4" font-family="Liberation Sans, Arial, sans-serif">400</text><path d="M1355.5 1030H1362" stroke="#000" stroke-width="1.5"/><text transform="translate(1351.5 1037.3) scale(0.9 1)" font-size="20.8" font-weight="bold" text-anchor="end" fill="#000" stroke="#000" stroke-width="0.4" font-family="Liberation Sans, Arial, sans-serif">200</text>
<path d="M1418.5 917V960M1411 917H1426M1411 960H1426" stroke="#0000e6" stroke-width="1.5" fill="none"/>
<path d="M1487 998V1001M1479.5 998H1494.5M1479.5 1001H1494.5" stroke="#e81818" stroke-width="1.5" fill="none"/>
<path d="M1418.5 897.4L1422.7 905.17L1414.3 905.17Z" fill="#0000e6"/>
<path d="M1418.5 937.1L1422.7 944.87L1414.3 944.87Z" fill="#0000e6"/>
<path d="M1418.5 971.4L1422.7 979.17L1414.3 979.17Z" fill="#0000e6"/>
<rect x="1475" y="994.5" width="8" height="8" fill="#ff0000"/>
<rect x="1483.5" y="995.8" width="8" height="8" fill="#ff0000"/>
<rect x="1490.2" y="996.8" width="8" height="8" fill="#ff0000"/>
<path d="M1416.8 888.2V878.7H1486.5V888.2" stroke="#000" stroke-width="1.5" fill="none"/>
<text x="1453.8" y="854.4" font-size="20.4" font-weight="normal" text-anchor="middle" fill="#000" font-family="Liberation Sans, Arial, sans-serif" letter-spacing="0.3" stroke="#000" stroke-width="0.5">p=0.04</text>
<text x="1456.5" y="879.1" font-size="25" font-weight="normal" text-anchor="middle" fill="#000" font-family="Liberation Sans, Arial, sans-serif" letter-spacing="1.2" stroke="#000" stroke-width="0.5">*</text>
<path d="M1381.4 785.3L1385.6 793.07L1377.2 793.07Z" fill="#0000e6"/><rect x="1464.5" y="785.7" width="7.6" height="7.6" fill="#ff0000"/><text x="1404.3" y="795.7" font-size="19.6" font-weight="normal" text-anchor="start" fill="#000" font-family="Liberation Sans, Arial, sans-serif" letter-spacing="0.1" stroke="#000" stroke-width="0.5">CTRL</text><text x="1493.2" y="795.7" font-size="19.6" font-weight="normal" text-anchor="start" fill="#000" font-family="Liberation Sans, Arial, sans-serif" letter-spacing="0.1" stroke="#000" stroke-width="0.5">DKO</text>
<text transform="translate(1300.7 1009.1) rotate(-90)" font-size="23.2" text-anchor="start" fill="#000" stroke="#000" stroke-width="0.9" textLength="160" lengthAdjust="spacing" font-family="Liberation Sans, Arial, sans-serif">Cell size ( µM<tspan dy="-9" font-size="14.38">2</tspan><tspan dy="9" font-size="23.2">)</tspan></text>
<rect x="1684.6" y="869.7" width="45.6" height="226.6" fill="#559fff" stroke="#0a0ad2" stroke-width="2"/>
<rect x="1740" y="870.7" width="46.4" height="225.6" fill="#ff8080" stroke="#e81818" stroke-width="2"/>
<rect x="1854" y="947.5" width="45.7" height="148.8" fill="#559fff" stroke="#0a0ad2" stroke-width="2"/>
<rect x="1909.5" y="949.5" width="46" height="146.8" fill="#ff8080" stroke="#e81818" stroke-width="2"/>
<rect x="1655.3" y="768" width="330.1" height="328.3" fill="none" stroke="#000" stroke-width="2.1"/>
<path d="M1655.3 844H1661.8" stroke="#000" stroke-width="1.5"/><text transform="translate(1651.3 851.3) scale(0.9 1)" font-size="20.8" font-weight="bold" text-anchor="end" fill="#000" stroke="#000" stroke-width="0.4" font-family="Liberation Sans, Arial, sans-serif">100</text><path d="M1655.3 971.2H1661.8" stroke="#000" stroke-width="1.5"/><text transform="translate(1651.3 978.5) scale(0.9 1)" font-size="20.8" font-weight="bold" text-anchor="end" fill="#000" stroke="#000" stroke-width="0.4" font-family="Liberation Sans, Arial, sans-serif">50</text>
<path d="M1985.4 844H1978.9" stroke="#000" stroke-width="1.5"/><text transform="translate(1989.4 851.3) scale(0.9 1)" font-size="20.8" font-weight="bold" text-anchor="start" fill="#000" stroke="#000" stroke-width="0.4" font-family="Liberation Sans, Arial, sans-serif">100</text><path d="M1985.4 971.2H1978.9" stroke="#000" stroke-width="1.5"/><text transform="translate(1989.4 978.5) scale(0.9 1)" font-size="20.8" font-weight="bold" text-anchor="start" fill="#000" stroke="#000" stroke-width="0.4" font-family="Liberation Sans, Arial, sans-serif">50</text>
<path d="M1706.9 868V871.5M1699.4 868H1714.4M1699.4 871.5H1714.4" stroke="#0000e6" stroke-width="1.5" fill="none"/>
<path d="M1763.4 866V875M1755.9 866H1770.9M1755.9 875H1770.9" stroke="#e81818" stroke-width="1.5" fill="none"/>
<path d="M1876 945V949M1868.5 945H1883.5M1868.5 949H1883.5" stroke="#0000e6" stroke-width="1.5" fill="none"/>
<path d="M1932.2 943V954M1924.7 943H1939.7M1924.7 954H1939.7" stroke="#e81818" stroke-width="1.5" fill="none"/>
<path d="M1691.5 862.2L1695.7 869.97L1687.3 869.97Z" fill="#0000e6"/>
<path d="M1706.9 865.5L1711.1 873.27L1702.7 873.27Z" fill="#0000e6"/>
<path d="M1722.7 866.5L1726.9 874.27L1718.5 874.27Z" fill="#0000e6"/>
<path d="M1860.3 940.4L1864.5 948.17L1856.1 948.17Z" fill="#0000e6"/>
<path d="M1876 942L1880.2 949.77L1871.8 949.77Z" fill="#0000e6"/>
<path d="M1891.8 945.3L1896 953.07L1887.6 953.07Z" fill="#0000e6"/>
<rect x="1744" y="863" width="8" height="8" fill="#ff0000"/>
<rect x="1759.4" y="857.5" width="8" height="8" fill="#ff0000"/>
<rect x="1759.4" y="867.4" width="8" height="8" fill="#ff0000"/>
<rect x="1759.4" y="877.2" width="8" height="8" fill="#ff0000"/>
<rect x="1775.1" y="866.4" width="8" height="8" fill="#ff0000"/>
<rect x="1924.6" y="934" width="8" height="8" fill="#ff0000"/>
<rect x="1931.8" y="937" width="8" height="8" fill="#ff0000"/>
<rect x="1924.6" y="943.5" width="8" height="8" fill="#ff0000"/>
<rect x="1931.8" y="946.2" width="8" height="8" fill="#ff0000"/>
<rect x="1928.2" y="963.6" width="8" height="8" fill="#ff0000"/>
<path d="M1754.5 785.8L1758.7 793.57L1750.3 793.57Z" fill="#0000e6"/><rect x="1854.8" y="786.2" width="7.6" height="7.6" fill="#ff0000"/><text x="1778.2" y="796.2" font-size="19.6" font-weight="normal" text-anchor="start" fill="#000" font-family="Liberation Sans, Arial, sans-serif" letter-spacing="0.1" stroke="#000" stroke-width="0.5">CTRL</text><text x="1883.3" y="796.2" font-size="19.6" font-weight="normal" text-anchor="start" fill="#000" font-family="Liberation Sans, Arial, sans-serif" letter-spacing="0.1" stroke="#000" stroke-width="0.5">DKO</text>
<text transform="translate(1608.4 1043.6) rotate(-90)" font-size="23.2" text-anchor="start" fill="#000" stroke="#000" stroke-width="0.9" textLength="221.2" lengthAdjust="spacing" font-family="Liberation Sans, Arial, sans-serif">Ejection fraction (%)</text>
<text transform="translate(2038.6 797) rotate(90)" font-size="23.2" text-anchor="start" fill="#000" stroke="#000" stroke-width="0.9" textLength="256.3" lengthAdjust="spacing" font-family="Liberation Sans, Arial, sans-serif">Fraction Shortening (%)</text>
<text x="0" y="29" font-size="35" font-weight="bold" text-anchor="start" fill="#000" font-family="Liberation Sans, Arial, sans-serif" >a</text>
<text x="413" y="23.5" font-size="35" font-weight="bold" text-anchor="start" fill="#000" font-family="Liberation Sans, Arial, sans-serif" >b</text>
<text x="918.5" y="26.5" font-size="35" font-weight="bold" text-anchor="start" fill="#000" font-family="Liberation Sans, Arial, sans-serif" >c</text>
<text x="1514.5" y="26.5" font-size="35" font-weight="bold" text-anchor="start" fill="#000" font-family="Liberation Sans, Arial, sans-serif" >d</text>
<text x="65.5" y="390" font-size="35" font-weight="bold" text-anchor="start" fill="#000" font-family="Liberation Sans, Arial, sans-serif" >e</text>
<text x="413" y="387.8" font-size="35" font-weight="bold" text-anchor="start" fill="#000" font-family="Liberation Sans, Arial, sans-serif" >f</text>
<text x="983" y="380.5" font-size="35" font-weight="bold" text-anchor="start" fill="#000" font-family="Liberation Sans, Arial, sans-serif" >g</text>
<text x="1" y="782" font-size="35" font-weight="bold" text-anchor="start" fill="#000" font-family="Liberation Sans, Arial, sans-serif" >h</text>
<text x="532" y="780" font-size="35" font-weight="bold" text-anchor="start" fill="#000" font-family="Liberation Sans, Arial, sans-serif" >i</text>
<text x="1082" y="778" font-size="35" font-weight="bold" text-anchor="start" fill="#000" font-family="Liberation Sans, Arial, sans-serif" >j</text>
<text x="1620" y="782.5" font-size="35" font-weight="bold" text-anchor="start" fill="#000" font-family="Liberation Sans, Arial, sans-serif" >k</text>
</svg>
</body></html>
